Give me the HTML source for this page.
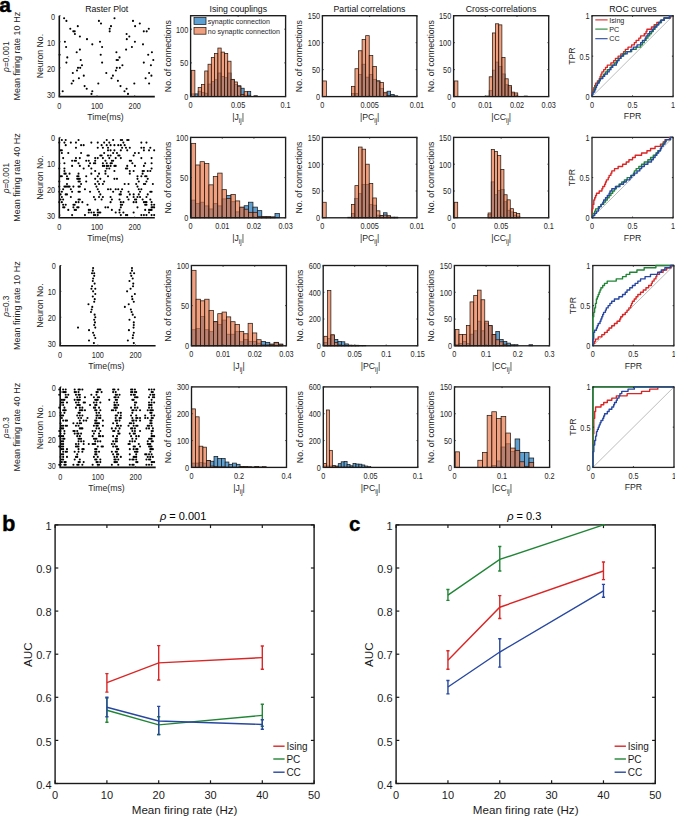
<!DOCTYPE html>
<html><head><meta charset="utf-8"><style>html,body{margin:0;padding:0;background:#fff;width:675px;height:816px;overflow:hidden}</style></head><body>
<svg width="675" height="816" viewBox="0 0 675 816" style="font-family:'Liberation Sans',sans-serif;display:block">
<rect width="675" height="816" fill="#fff"/>
<circle cx="64.1" cy="18.31" r="1.05" fill="#000"/>
<circle cx="66.4" cy="20.91" r="1.05" fill="#000"/>
<circle cx="77.8" cy="26.13" r="1.05" fill="#000"/>
<circle cx="70.3" cy="28.73" r="1.05" fill="#000"/>
<circle cx="73.3" cy="31.34" r="1.05" fill="#000"/>
<circle cx="74.7" cy="31.34" r="1.05" fill="#000"/>
<circle cx="74.9" cy="33.95" r="1.05" fill="#000"/>
<circle cx="79.9" cy="36.55" r="1.05" fill="#000"/>
<circle cx="87" cy="39.16" r="1.05" fill="#000"/>
<circle cx="64.9" cy="41.77" r="1.05" fill="#000"/>
<circle cx="92.3" cy="44.37" r="1.05" fill="#000"/>
<circle cx="66.1" cy="46.98" r="1.05" fill="#000"/>
<circle cx="79.9" cy="49.59" r="1.05" fill="#000"/>
<circle cx="76.7" cy="52.19" r="1.05" fill="#000"/>
<circle cx="59.6" cy="54.8" r="1.05" fill="#000"/>
<circle cx="67.3" cy="57.41" r="1.05" fill="#000"/>
<circle cx="80.7" cy="60.01" r="1.05" fill="#000"/>
<circle cx="66.4" cy="62.62" r="1.05" fill="#000"/>
<circle cx="82" cy="65.23" r="1.05" fill="#000"/>
<circle cx="78" cy="67.83" r="1.05" fill="#000"/>
<circle cx="80.2" cy="67.83" r="1.05" fill="#000"/>
<circle cx="77" cy="70.44" r="1.05" fill="#000"/>
<circle cx="72.8" cy="73.05" r="1.05" fill="#000"/>
<circle cx="83.8" cy="75.65" r="1.05" fill="#000"/>
<circle cx="78.9" cy="78.26" r="1.05" fill="#000"/>
<circle cx="73.3" cy="80.87" r="1.05" fill="#000"/>
<circle cx="71.7" cy="83.47" r="1.05" fill="#000"/>
<circle cx="84.6" cy="86.08" r="1.05" fill="#000"/>
<circle cx="86.7" cy="88.69" r="1.05" fill="#000"/>
<circle cx="62.7" cy="91.29" r="1.05" fill="#000"/>
<circle cx="92.3" cy="91.29" r="1.05" fill="#000"/>
<circle cx="91.5" cy="93.9" r="1.05" fill="#000"/>
<circle cx="98.9" cy="20.91" r="1.05" fill="#000"/>
<circle cx="101" cy="23.52" r="1.05" fill="#000"/>
<circle cx="100" cy="41.77" r="1.05" fill="#000"/>
<circle cx="102.1" cy="46.98" r="1.05" fill="#000"/>
<circle cx="100.7" cy="54.8" r="1.05" fill="#000"/>
<circle cx="102.1" cy="62.62" r="1.05" fill="#000"/>
<circle cx="106.3" cy="73.05" r="1.05" fill="#000"/>
<circle cx="98.3" cy="83.47" r="1.05" fill="#000"/>
<circle cx="114.5" cy="18.31" r="1.05" fill="#000"/>
<circle cx="133" cy="20.91" r="1.05" fill="#000"/>
<circle cx="139.8" cy="23.52" r="1.05" fill="#000"/>
<circle cx="111" cy="26.13" r="1.05" fill="#000"/>
<circle cx="135.1" cy="26.13" r="1.05" fill="#000"/>
<circle cx="109.7" cy="28.73" r="1.05" fill="#000"/>
<circle cx="148.8" cy="28.73" r="1.05" fill="#000"/>
<circle cx="109.7" cy="31.34" r="1.05" fill="#000"/>
<circle cx="143.8" cy="31.34" r="1.05" fill="#000"/>
<circle cx="146.7" cy="31.34" r="1.05" fill="#000"/>
<circle cx="126.6" cy="33.95" r="1.05" fill="#000"/>
<circle cx="129.3" cy="36.55" r="1.05" fill="#000"/>
<circle cx="126.8" cy="39.16" r="1.05" fill="#000"/>
<circle cx="134.9" cy="41.77" r="1.05" fill="#000"/>
<circle cx="143" cy="44.37" r="1.05" fill="#000"/>
<circle cx="131.9" cy="46.98" r="1.05" fill="#000"/>
<circle cx="126.1" cy="49.59" r="1.05" fill="#000"/>
<circle cx="116.4" cy="52.19" r="1.05" fill="#000"/>
<circle cx="151.9" cy="52.19" r="1.05" fill="#000"/>
<circle cx="148.2" cy="54.8" r="1.05" fill="#000"/>
<circle cx="119.5" cy="57.41" r="1.05" fill="#000"/>
<circle cx="116.6" cy="60.01" r="1.05" fill="#000"/>
<circle cx="117.9" cy="60.01" r="1.05" fill="#000"/>
<circle cx="153.3" cy="60.01" r="1.05" fill="#000"/>
<circle cx="143.8" cy="62.62" r="1.05" fill="#000"/>
<circle cx="122.4" cy="65.23" r="1.05" fill="#000"/>
<circle cx="150.9" cy="65.23" r="1.05" fill="#000"/>
<circle cx="116.8" cy="67.83" r="1.05" fill="#000"/>
<circle cx="119.8" cy="67.83" r="1.05" fill="#000"/>
<circle cx="115.9" cy="70.44" r="1.05" fill="#000"/>
<circle cx="149.1" cy="73.05" r="1.05" fill="#000"/>
<circle cx="112.9" cy="75.65" r="1.05" fill="#000"/>
<circle cx="151.4" cy="75.65" r="1.05" fill="#000"/>
<circle cx="111.5" cy="78.26" r="1.05" fill="#000"/>
<circle cx="145.6" cy="78.26" r="1.05" fill="#000"/>
<circle cx="117.9" cy="80.87" r="1.05" fill="#000"/>
<circle cx="134.3" cy="83.47" r="1.05" fill="#000"/>
<circle cx="149.1" cy="83.47" r="1.05" fill="#000"/>
<circle cx="120.5" cy="86.08" r="1.05" fill="#000"/>
<circle cx="126.6" cy="88.69" r="1.05" fill="#000"/>
<circle cx="124.5" cy="91.29" r="1.05" fill="#000"/>
<circle cx="128" cy="93.9" r="1.05" fill="#000"/>
<path d="M59.3 15.7 V96.6 H154.8" fill="none" stroke="#111" stroke-width="1.6"/>
<line x1="59.3" y1="15.7" x2="60.5" y2="15.7" stroke="#262626" stroke-width="1"/>
<text x="0" y="0" font-size="8.5" text-anchor="end" fill="#262626" transform="translate(55 19.55) scale(0.86 1)">0</text>
<line x1="59.3" y1="41.77" x2="60.5" y2="41.77" stroke="#262626" stroke-width="1"/>
<text x="0" y="0" font-size="8.5" text-anchor="end" fill="#262626" transform="translate(55 45.62) scale(0.86 1)">10</text>
<line x1="59.3" y1="67.83" x2="60.5" y2="67.83" stroke="#262626" stroke-width="1"/>
<text x="0" y="0" font-size="8.5" text-anchor="end" fill="#262626" transform="translate(55 71.68) scale(0.86 1)">20</text>
<line x1="59.3" y1="93.9" x2="60.5" y2="93.9" stroke="#262626" stroke-width="1"/>
<text x="0" y="0" font-size="8.5" text-anchor="end" fill="#262626" transform="translate(55 97.75) scale(0.86 1)">30</text>
<line x1="59.3" y1="96.6" x2="59.3" y2="95.4" stroke="#262626" stroke-width="1"/>
<text x="0" y="0" font-size="8.5" text-anchor="middle" fill="#262626" transform="translate(59.3 108.9) scale(0.86 1)">0</text>
<line x1="97" y1="96.6" x2="97" y2="95.4" stroke="#262626" stroke-width="1"/>
<text x="0" y="0" font-size="8.5" text-anchor="middle" fill="#262626" transform="translate(97 108.9) scale(0.86 1)">100</text>
<line x1="134.7" y1="96.6" x2="134.7" y2="95.4" stroke="#262626" stroke-width="1"/>
<text x="0" y="0" font-size="8.5" text-anchor="middle" fill="#262626" transform="translate(134.7 108.9) scale(0.86 1)">200</text>
<text x="105.55" y="120.2" font-size="8.7" text-anchor="middle" fill="#262626">Time(ms)</text>
<text x="0" y="0" font-size="8.7" text-anchor="middle" fill="#262626" transform="translate(42.5 56.15) rotate(-90)">Neuron No.</text>
<rect x="191.6" y="93.9" width="3.29" height="2.7" fill="#5FA0D2" stroke="#1a1a1a" stroke-width="0.75"/>
<rect x="194.88" y="93.9" width="3.29" height="2.7" fill="#5FA0D2" stroke="#1a1a1a" stroke-width="0.75"/>
<rect x="198.17" y="91.21" width="3.29" height="5.39" fill="#5FA0D2" stroke="#1a1a1a" stroke-width="0.75"/>
<rect x="201.45" y="92.55" width="3.29" height="4.04" fill="#5FA0D2" stroke="#1a1a1a" stroke-width="0.75"/>
<rect x="204.74" y="93.23" width="3.29" height="3.37" fill="#5FA0D2" stroke="#1a1a1a" stroke-width="0.75"/>
<rect x="208.03" y="84.06" width="3.29" height="12.54" fill="#5FA0D2" stroke="#1a1a1a" stroke-width="0.75"/>
<rect x="211.31" y="81.43" width="3.29" height="15.17" fill="#5FA0D2" stroke="#1a1a1a" stroke-width="0.75"/>
<rect x="214.59" y="79.75" width="3.29" height="16.85" fill="#5FA0D2" stroke="#1a1a1a" stroke-width="0.75"/>
<rect x="217.88" y="73" width="3.29" height="23.6" fill="#5FA0D2" stroke="#1a1a1a" stroke-width="0.75"/>
<rect x="221.16" y="76.38" width="3.29" height="20.22" fill="#5FA0D2" stroke="#1a1a1a" stroke-width="0.75"/>
<rect x="224.45" y="77.72" width="3.29" height="18.88" fill="#5FA0D2" stroke="#1a1a1a" stroke-width="0.75"/>
<rect x="227.74" y="73" width="3.29" height="23.6" fill="#5FA0D2" stroke="#1a1a1a" stroke-width="0.75"/>
<rect x="231.02" y="79.75" width="3.29" height="16.85" fill="#5FA0D2" stroke="#1a1a1a" stroke-width="0.75"/>
<rect x="234.31" y="84.47" width="3.29" height="12.13" fill="#5FA0D2" stroke="#1a1a1a" stroke-width="0.75"/>
<rect x="237.59" y="85.81" width="3.29" height="10.79" fill="#5FA0D2" stroke="#1a1a1a" stroke-width="0.75"/>
<rect x="240.88" y="88.24" width="3.29" height="8.36" fill="#5FA0D2" stroke="#1a1a1a" stroke-width="0.75"/>
<rect x="244.16" y="95.25" width="3.29" height="1.35" fill="#5FA0D2" stroke="#1a1a1a" stroke-width="0.75"/>
<rect x="247.44" y="91.34" width="3.29" height="5.26" fill="#5FA0D2" stroke="#1a1a1a" stroke-width="0.75"/>
<rect x="254.01" y="95.93" width="3.29" height="0.67" fill="#5FA0D2" stroke="#1a1a1a" stroke-width="0.75"/>
<rect x="191.6" y="70.31" width="3.29" height="26.29" fill="#E67344" fill-opacity="0.68" stroke="#2a1a10" stroke-width="0.75"/>
<rect x="198.17" y="87.5" width="3.29" height="9.1" fill="#E67344" fill-opacity="0.68" stroke="#2a1a10" stroke-width="0.75"/>
<rect x="201.45" y="84.47" width="3.29" height="12.13" fill="#E67344" fill-opacity="0.68" stroke="#2a1a10" stroke-width="0.75"/>
<rect x="204.74" y="70.98" width="3.29" height="25.62" fill="#E67344" fill-opacity="0.68" stroke="#2a1a10" stroke-width="0.75"/>
<rect x="208.03" y="64.24" width="3.29" height="32.36" fill="#E67344" fill-opacity="0.68" stroke="#2a1a10" stroke-width="0.75"/>
<rect x="211.31" y="57.5" width="3.29" height="39.1" fill="#E67344" fill-opacity="0.68" stroke="#2a1a10" stroke-width="0.75"/>
<rect x="214.59" y="53.45" width="3.29" height="43.15" fill="#E67344" fill-opacity="0.68" stroke="#2a1a10" stroke-width="0.75"/>
<rect x="217.88" y="48.06" width="3.29" height="48.54" fill="#E67344" fill-opacity="0.68" stroke="#2a1a10" stroke-width="0.75"/>
<rect x="221.16" y="52.1" width="3.29" height="44.49" fill="#E67344" fill-opacity="0.68" stroke="#2a1a10" stroke-width="0.75"/>
<rect x="224.45" y="53.45" width="3.29" height="43.15" fill="#E67344" fill-opacity="0.68" stroke="#2a1a10" stroke-width="0.75"/>
<rect x="227.74" y="61.21" width="3.29" height="35.39" fill="#E67344" fill-opacity="0.68" stroke="#2a1a10" stroke-width="0.75"/>
<rect x="231.02" y="79.34" width="3.29" height="17.26" fill="#E67344" fill-opacity="0.68" stroke="#2a1a10" stroke-width="0.75"/>
<rect x="234.31" y="81.97" width="3.29" height="14.63" fill="#E67344" fill-opacity="0.68" stroke="#2a1a10" stroke-width="0.75"/>
<rect x="237.59" y="86.15" width="3.29" height="10.45" fill="#E67344" fill-opacity="0.68" stroke="#2a1a10" stroke-width="0.75"/>
<rect x="240.88" y="94.58" width="3.29" height="2.02" fill="#E67344" fill-opacity="0.68" stroke="#2a1a10" stroke-width="0.75"/>
<rect x="244.16" y="91.68" width="3.29" height="4.92" fill="#E67344" fill-opacity="0.68" stroke="#2a1a10" stroke-width="0.75"/>
<rect x="247.44" y="95.25" width="3.29" height="1.35" fill="#E67344" fill-opacity="0.68" stroke="#2a1a10" stroke-width="0.75"/>
<rect x="254.01" y="95.93" width="3.29" height="0.67" fill="#E67344" fill-opacity="0.68" stroke="#2a1a10" stroke-width="0.75"/>
<rect x="190.6" y="15.7" width="95" height="80.9" fill="none" stroke="#1a1a1a" stroke-width="1.35"/>
<line x1="190.6" y1="96.6" x2="190.6" y2="95.4" stroke="#262626" stroke-width="1"/>
<line x1="190.6" y1="15.7" x2="190.6" y2="16.9" stroke="#262626" stroke-width="1"/>
<text x="0" y="0" font-size="8.5" text-anchor="middle" fill="#262626" transform="translate(190.6 107.7) scale(0.86 1)">0</text>
<line x1="238.1" y1="96.6" x2="238.1" y2="95.4" stroke="#262626" stroke-width="1"/>
<line x1="238.1" y1="15.7" x2="238.1" y2="16.9" stroke="#262626" stroke-width="1"/>
<text x="0" y="0" font-size="8.5" text-anchor="middle" fill="#262626" transform="translate(238.1 107.7) scale(0.86 1)">0.05</text>
<line x1="285.6" y1="96.6" x2="285.6" y2="95.4" stroke="#262626" stroke-width="1"/>
<line x1="285.6" y1="15.7" x2="285.6" y2="16.9" stroke="#262626" stroke-width="1"/>
<text x="0" y="0" font-size="8.5" text-anchor="middle" fill="#262626" transform="translate(285.6 107.7) scale(0.86 1)">0.1</text>
<line x1="190.6" y1="96.6" x2="191.8" y2="96.6" stroke="#262626" stroke-width="1"/>
<line x1="285.6" y1="96.6" x2="284.4" y2="96.6" stroke="#262626" stroke-width="1"/>
<text x="0" y="0" font-size="8.5" text-anchor="end" fill="#262626" transform="translate(188.2 100) scale(0.86 1)">0</text>
<line x1="190.6" y1="62.89" x2="191.8" y2="62.89" stroke="#262626" stroke-width="1"/>
<line x1="285.6" y1="62.89" x2="284.4" y2="62.89" stroke="#262626" stroke-width="1"/>
<text x="0" y="0" font-size="8.5" text-anchor="end" fill="#262626" transform="translate(188.2 66.29) scale(0.86 1)">50</text>
<line x1="190.6" y1="29.18" x2="191.8" y2="29.18" stroke="#262626" stroke-width="1"/>
<line x1="285.6" y1="29.18" x2="284.4" y2="29.18" stroke="#262626" stroke-width="1"/>
<text x="0" y="0" font-size="8.5" text-anchor="end" fill="#262626" transform="translate(188.2 32.58) scale(0.86 1)">100</text>
<text x="238.1" y="120.2" font-size="8.7" text-anchor="middle" fill="#262626">|J<tspan font-size="6.4" dy="3.0">ij</tspan><tspan dy="-3.0">|</tspan></text>
<text x="0" y="0" font-size="8.7" text-anchor="middle" fill="#262626" transform="translate(170.5 56.15) rotate(-90)">No. of connections</text>
<rect x="351.4" y="93.58" width="3.57" height="3.02" fill="#5FA0D2" stroke="#1a1a1a" stroke-width="0.75"/>
<rect x="354.97" y="93.58" width="3.57" height="3.02" fill="#5FA0D2" stroke="#1a1a1a" stroke-width="0.75"/>
<rect x="358.53" y="74.49" width="3.57" height="22.11" fill="#5FA0D2" stroke="#1a1a1a" stroke-width="0.75"/>
<rect x="362.1" y="64.24" width="3.57" height="32.36" fill="#5FA0D2" stroke="#1a1a1a" stroke-width="0.75"/>
<rect x="365.66" y="77.18" width="3.57" height="19.42" fill="#5FA0D2" stroke="#1a1a1a" stroke-width="0.75"/>
<rect x="369.23" y="74.49" width="3.57" height="22.11" fill="#5FA0D2" stroke="#1a1a1a" stroke-width="0.75"/>
<rect x="372.8" y="79.34" width="3.57" height="17.26" fill="#5FA0D2" stroke="#1a1a1a" stroke-width="0.75"/>
<rect x="376.36" y="80.96" width="3.57" height="15.64" fill="#5FA0D2" stroke="#1a1a1a" stroke-width="0.75"/>
<rect x="379.93" y="88.51" width="3.57" height="8.09" fill="#5FA0D2" stroke="#1a1a1a" stroke-width="0.75"/>
<rect x="383.49" y="93.58" width="3.57" height="3.02" fill="#5FA0D2" stroke="#1a1a1a" stroke-width="0.75"/>
<rect x="387.06" y="91.21" width="3.57" height="5.39" fill="#5FA0D2" stroke="#1a1a1a" stroke-width="0.75"/>
<rect x="390.63" y="94.44" width="3.57" height="2.16" fill="#5FA0D2" stroke="#1a1a1a" stroke-width="0.75"/>
<rect x="394.19" y="95.79" width="3.57" height="0.81" fill="#5FA0D2" stroke="#1a1a1a" stroke-width="0.75"/>
<rect x="351.4" y="86.35" width="3.57" height="10.25" fill="#E67344" fill-opacity="0.68" stroke="#2a1a10" stroke-width="0.75"/>
<rect x="354.97" y="68.72" width="3.57" height="27.88" fill="#E67344" fill-opacity="0.68" stroke="#2a1a10" stroke-width="0.75"/>
<rect x="358.53" y="50.76" width="3.57" height="45.84" fill="#E67344" fill-opacity="0.68" stroke="#2a1a10" stroke-width="0.75"/>
<rect x="362.1" y="39.43" width="3.57" height="57.17" fill="#E67344" fill-opacity="0.68" stroke="#2a1a10" stroke-width="0.75"/>
<rect x="365.66" y="35.66" width="3.57" height="60.94" fill="#E67344" fill-opacity="0.68" stroke="#2a1a10" stroke-width="0.75"/>
<rect x="369.23" y="55.61" width="3.57" height="40.99" fill="#E67344" fill-opacity="0.68" stroke="#2a1a10" stroke-width="0.75"/>
<rect x="372.8" y="66.4" width="3.57" height="30.2" fill="#E67344" fill-opacity="0.68" stroke="#2a1a10" stroke-width="0.75"/>
<rect x="376.36" y="80.96" width="3.57" height="15.64" fill="#E67344" fill-opacity="0.68" stroke="#2a1a10" stroke-width="0.75"/>
<rect x="379.93" y="82.58" width="3.57" height="14.02" fill="#E67344" fill-opacity="0.68" stroke="#2a1a10" stroke-width="0.75"/>
<rect x="383.49" y="92.29" width="3.57" height="4.31" fill="#E67344" fill-opacity="0.68" stroke="#2a1a10" stroke-width="0.75"/>
<rect x="387.06" y="95.52" width="3.57" height="1.08" fill="#E67344" fill-opacity="0.68" stroke="#2a1a10" stroke-width="0.75"/>
<rect x="390.63" y="96.06" width="3.57" height="0.54" fill="#E67344" fill-opacity="0.68" stroke="#2a1a10" stroke-width="0.75"/>
<rect x="322.6" y="80.96" width="3.8" height="15.64" fill="#E67344" fill-opacity="0.68" stroke="#2a1a10" stroke-width="0.75"/>
<rect x="322.4" y="15.7" width="94.5" height="80.9" fill="none" stroke="#1a1a1a" stroke-width="1.35"/>
<line x1="322.4" y1="96.6" x2="322.4" y2="95.4" stroke="#262626" stroke-width="1"/>
<line x1="322.4" y1="15.7" x2="322.4" y2="16.9" stroke="#262626" stroke-width="1"/>
<text x="0" y="0" font-size="8.5" text-anchor="middle" fill="#262626" transform="translate(322.4 107.7) scale(0.86 1)">0</text>
<line x1="369.65" y1="96.6" x2="369.65" y2="95.4" stroke="#262626" stroke-width="1"/>
<line x1="369.65" y1="15.7" x2="369.65" y2="16.9" stroke="#262626" stroke-width="1"/>
<text x="0" y="0" font-size="8.5" text-anchor="middle" fill="#262626" transform="translate(369.65 107.7) scale(0.86 1)">0.005</text>
<line x1="416.9" y1="96.6" x2="416.9" y2="95.4" stroke="#262626" stroke-width="1"/>
<line x1="416.9" y1="15.7" x2="416.9" y2="16.9" stroke="#262626" stroke-width="1"/>
<text x="0" y="0" font-size="8.5" text-anchor="middle" fill="#262626" transform="translate(416.9 107.7) scale(0.86 1)">0.01</text>
<line x1="322.4" y1="96.6" x2="323.6" y2="96.6" stroke="#262626" stroke-width="1"/>
<line x1="416.9" y1="96.6" x2="415.7" y2="96.6" stroke="#262626" stroke-width="1"/>
<text x="0" y="0" font-size="8.5" text-anchor="end" fill="#262626" transform="translate(320 100) scale(0.86 1)">0</text>
<line x1="322.4" y1="69.63" x2="323.6" y2="69.63" stroke="#262626" stroke-width="1"/>
<line x1="416.9" y1="69.63" x2="415.7" y2="69.63" stroke="#262626" stroke-width="1"/>
<text x="0" y="0" font-size="8.5" text-anchor="end" fill="#262626" transform="translate(320 73.03) scale(0.86 1)">50</text>
<line x1="322.4" y1="42.67" x2="323.6" y2="42.67" stroke="#262626" stroke-width="1"/>
<line x1="416.9" y1="42.67" x2="415.7" y2="42.67" stroke="#262626" stroke-width="1"/>
<text x="0" y="0" font-size="8.5" text-anchor="end" fill="#262626" transform="translate(320 46.07) scale(0.86 1)">100</text>
<line x1="322.4" y1="15.7" x2="323.6" y2="15.7" stroke="#262626" stroke-width="1"/>
<line x1="416.9" y1="15.7" x2="415.7" y2="15.7" stroke="#262626" stroke-width="1"/>
<text x="0" y="0" font-size="8.5" text-anchor="end" fill="#262626" transform="translate(320 19.1) scale(0.86 1)">150</text>
<text x="369.65" y="120.2" font-size="8.7" text-anchor="middle" fill="#262626">|PC<tspan font-size="6.4" dy="3.0">ij</tspan><tspan dy="-3.0">|</tspan></text>
<text x="0" y="0" font-size="8.7" text-anchor="middle" fill="#262626" transform="translate(302.3 56.15) rotate(-90)">No. of connections</text>
<rect x="489.2" y="90.67" width="3.17" height="5.93" fill="#5FA0D2" stroke="#1a1a1a" stroke-width="0.75"/>
<rect x="492.37" y="70.17" width="3.17" height="26.43" fill="#5FA0D2" stroke="#1a1a1a" stroke-width="0.75"/>
<rect x="495.54" y="62.08" width="3.17" height="34.52" fill="#5FA0D2" stroke="#1a1a1a" stroke-width="0.75"/>
<rect x="498.71" y="66.4" width="3.17" height="30.2" fill="#5FA0D2" stroke="#1a1a1a" stroke-width="0.75"/>
<rect x="501.88" y="73.95" width="3.17" height="22.65" fill="#5FA0D2" stroke="#1a1a1a" stroke-width="0.75"/>
<rect x="505.05" y="84.73" width="3.17" height="11.87" fill="#5FA0D2" stroke="#1a1a1a" stroke-width="0.75"/>
<rect x="508.22" y="86.89" width="3.17" height="9.71" fill="#5FA0D2" stroke="#1a1a1a" stroke-width="0.75"/>
<rect x="511.39" y="93.15" width="3.17" height="3.45" fill="#5FA0D2" stroke="#1a1a1a" stroke-width="0.75"/>
<rect x="514.56" y="94.98" width="3.17" height="1.62" fill="#5FA0D2" stroke="#1a1a1a" stroke-width="0.75"/>
<rect x="486" y="96.06" width="3.17" height="0.54" fill="#5FA0D2" stroke="#1a1a1a" stroke-width="0.75"/>
<rect x="524.2" y="96.06" width="3.4" height="0.54" fill="#5FA0D2" stroke="#1a1a1a" stroke-width="0.75"/>
<rect x="489.2" y="76.81" width="3.17" height="19.79" fill="#E67344" fill-opacity="0.68" stroke="#2a1a10" stroke-width="0.75"/>
<rect x="492.37" y="32.96" width="3.17" height="63.64" fill="#E67344" fill-opacity="0.68" stroke="#2a1a10" stroke-width="0.75"/>
<rect x="495.54" y="23.79" width="3.17" height="72.81" fill="#E67344" fill-opacity="0.68" stroke="#2a1a10" stroke-width="0.75"/>
<rect x="498.71" y="24.87" width="3.17" height="71.73" fill="#E67344" fill-opacity="0.68" stroke="#2a1a10" stroke-width="0.75"/>
<rect x="501.88" y="57.44" width="3.17" height="39.16" fill="#E67344" fill-opacity="0.68" stroke="#2a1a10" stroke-width="0.75"/>
<rect x="505.05" y="78.8" width="3.17" height="17.8" fill="#E67344" fill-opacity="0.68" stroke="#2a1a10" stroke-width="0.75"/>
<rect x="508.22" y="85.54" width="3.17" height="11.06" fill="#E67344" fill-opacity="0.68" stroke="#2a1a10" stroke-width="0.75"/>
<rect x="511.39" y="92.12" width="3.17" height="4.48" fill="#E67344" fill-opacity="0.68" stroke="#2a1a10" stroke-width="0.75"/>
<rect x="514.56" y="92.93" width="3.17" height="3.67" fill="#E67344" fill-opacity="0.68" stroke="#2a1a10" stroke-width="0.75"/>
<rect x="454.3" y="80.96" width="3.6" height="15.64" fill="#E67344" fill-opacity="0.68" stroke="#2a1a10" stroke-width="0.75"/>
<rect x="453.6" y="15.7" width="95.1" height="80.9" fill="none" stroke="#1a1a1a" stroke-width="1.35"/>
<line x1="453.6" y1="96.6" x2="453.6" y2="95.4" stroke="#262626" stroke-width="1"/>
<line x1="453.6" y1="15.7" x2="453.6" y2="16.9" stroke="#262626" stroke-width="1"/>
<text x="0" y="0" font-size="8.5" text-anchor="middle" fill="#262626" transform="translate(453.6 107.7) scale(0.86 1)">0</text>
<line x1="485.3" y1="96.6" x2="485.3" y2="95.4" stroke="#262626" stroke-width="1"/>
<line x1="485.3" y1="15.7" x2="485.3" y2="16.9" stroke="#262626" stroke-width="1"/>
<text x="0" y="0" font-size="8.5" text-anchor="middle" fill="#262626" transform="translate(485.3 107.7) scale(0.86 1)">0.01</text>
<line x1="517" y1="96.6" x2="517" y2="95.4" stroke="#262626" stroke-width="1"/>
<line x1="517" y1="15.7" x2="517" y2="16.9" stroke="#262626" stroke-width="1"/>
<text x="0" y="0" font-size="8.5" text-anchor="middle" fill="#262626" transform="translate(517 107.7) scale(0.86 1)">0.02</text>
<line x1="548.7" y1="96.6" x2="548.7" y2="95.4" stroke="#262626" stroke-width="1"/>
<line x1="548.7" y1="15.7" x2="548.7" y2="16.9" stroke="#262626" stroke-width="1"/>
<text x="0" y="0" font-size="8.5" text-anchor="middle" fill="#262626" transform="translate(548.7 107.7) scale(0.86 1)">0.03</text>
<line x1="453.6" y1="96.6" x2="454.8" y2="96.6" stroke="#262626" stroke-width="1"/>
<line x1="548.7" y1="96.6" x2="547.5" y2="96.6" stroke="#262626" stroke-width="1"/>
<text x="0" y="0" font-size="8.5" text-anchor="end" fill="#262626" transform="translate(451.2 100) scale(0.86 1)">0</text>
<line x1="453.6" y1="69.63" x2="454.8" y2="69.63" stroke="#262626" stroke-width="1"/>
<line x1="548.7" y1="69.63" x2="547.5" y2="69.63" stroke="#262626" stroke-width="1"/>
<text x="0" y="0" font-size="8.5" text-anchor="end" fill="#262626" transform="translate(451.2 73.03) scale(0.86 1)">50</text>
<line x1="453.6" y1="42.67" x2="454.8" y2="42.67" stroke="#262626" stroke-width="1"/>
<line x1="548.7" y1="42.67" x2="547.5" y2="42.67" stroke="#262626" stroke-width="1"/>
<text x="0" y="0" font-size="8.5" text-anchor="end" fill="#262626" transform="translate(451.2 46.07) scale(0.86 1)">100</text>
<line x1="453.6" y1="15.7" x2="454.8" y2="15.7" stroke="#262626" stroke-width="1"/>
<line x1="548.7" y1="15.7" x2="547.5" y2="15.7" stroke="#262626" stroke-width="1"/>
<text x="0" y="0" font-size="8.5" text-anchor="end" fill="#262626" transform="translate(451.2 19.1) scale(0.86 1)">150</text>
<text x="501.15" y="120.2" font-size="8.7" text-anchor="middle" fill="#262626">|CC<tspan font-size="6.4" dy="3.0">ij</tspan><tspan dy="-3.0">|</tspan></text>
<text x="0" y="0" font-size="8.7" text-anchor="middle" fill="#262626" transform="translate(433.5 56.15) rotate(-90)">No. of connections</text>
<rect x="592" y="15.7" width="81.1" height="80.9" fill="none" stroke="#262626" stroke-width="1.3"/>
<line x1="592" y1="96.6" x2="673.1" y2="15.7" stroke="#A0A0A0" stroke-width="0.7"/>
<polyline points="592,96.6 592,92.11 592.9,92.11 592.9,89.86 593.8,89.86 593.8,87.61 594.7,87.61 594.7,85.36 595.6,85.36 595.6,83.12 596.51,83.12 597.41,83.12 597.41,80.87 598.31,80.87 599.21,80.87 599.21,78.62 600.11,78.62 600.11,76.38 601.01,76.38 601.01,74.13 601.91,74.13 601.91,71.88 602.81,71.88 603.71,71.88 603.71,69.63 604.62,69.63 605.52,69.63 605.52,67.39 606.42,67.39 607.32,67.39 607.32,65.14 608.22,65.14 609.12,65.14 610.02,65.14 610.92,65.14 610.92,62.89 611.82,62.89 612.73,62.89 613.63,62.89 613.63,60.64 614.53,60.64 615.43,60.64 615.43,58.4 616.33,58.4 617.23,58.4 618.13,58.4 618.13,56.15 619.03,56.15 619.93,56.15 620.84,56.15 620.84,53.9 621.74,53.9 622.64,53.9 623.54,53.9 623.54,51.66 624.44,51.66 625.34,51.66 625.34,49.41 626.24,49.41 627.14,49.41 628.04,49.41 628.04,47.16 628.95,47.16 629.85,47.16 630.75,47.16 631.65,47.16 631.65,44.91 632.55,44.91 633.45,44.91 634.35,44.91 634.35,42.67 635.25,42.67 636.15,42.67 636.15,40.42 637.06,40.42 637.96,40.42 638.86,40.42 638.86,38.17 639.76,38.17 640.66,38.17 640.66,35.92 641.56,35.92 642.46,35.92 643.36,35.92 644.26,35.92 644.26,33.68 645.17,33.68 646.07,33.68 646.07,31.43 646.97,31.43 646.97,29.18 647.87,29.18 648.77,29.18 649.67,29.18 650.57,29.18 651.47,29.18 651.47,26.94 652.37,26.94 653.28,26.94 654.18,26.94 654.18,24.69 655.08,24.69 655.98,24.69 656.88,24.69 656.88,22.44 657.78,22.44 658.68,22.44 659.58,22.44 660.48,22.44 661.39,22.44 661.39,20.19 662.29,20.19 663.19,20.19 664.09,20.19 664.09,17.95 664.99,17.95 665.89,17.95 666.79,17.95 667.69,17.95 668.59,17.95 669.5,17.95 670.4,17.95 670.4,15.7 671.3,15.7 672.2,15.7 673.1,15.7" fill="none" stroke="#D92626" stroke-width="1.4" stroke-linejoin="round"/>
<polyline points="592,96.6 592,94.35 592.9,94.35 592.9,92.11 593.8,92.11 593.8,89.86 594.7,89.86 594.7,87.61 595.6,87.61 595.6,85.36 596.51,85.36 597.41,85.36 597.41,83.12 598.31,83.12 598.31,80.87 599.21,80.87 600.11,80.87 600.11,78.62 601.01,78.62 601.91,78.62 601.91,76.38 602.81,76.38 603.71,76.38 603.71,74.13 604.62,74.13 605.52,74.13 605.52,71.88 606.42,71.88 607.32,71.88 607.32,69.63 608.22,69.63 609.12,69.63 610.02,69.63 610.02,67.39 610.92,67.39 611.82,67.39 611.82,65.14 612.73,65.14 613.63,65.14 614.53,65.14 614.53,62.89 615.43,62.89 616.33,62.89 616.33,60.64 617.23,60.64 618.13,60.64 618.13,58.4 619.03,58.4 619.93,58.4 620.84,58.4 620.84,56.15 621.74,56.15 622.64,56.15 622.64,53.9 623.54,53.9 624.44,53.9 625.34,53.9 625.34,51.66 626.24,51.66 627.14,51.66 628.04,51.66 628.95,51.66 629.85,51.66 630.75,51.66 631.65,51.66 631.65,49.41 632.55,49.41 633.45,49.41 634.35,49.41 635.25,49.41 636.15,49.41 636.15,47.16 637.06,47.16 637.96,47.16 638.86,47.16 639.76,47.16 640.66,47.16 640.66,44.91 641.56,44.91 642.46,44.91 642.46,42.67 643.36,42.67 644.26,42.67 644.26,40.42 645.17,40.42 646.07,40.42 646.07,38.17 646.97,38.17 647.87,38.17 647.87,35.92 648.77,35.92 649.67,35.92 649.67,33.68 650.57,33.68 651.47,33.68 651.47,31.43 652.37,31.43 653.28,31.43 653.28,29.18 654.18,29.18 655.08,29.18 655.08,26.94 655.98,26.94 655.98,24.69 656.88,24.69 657.78,24.69 658.68,24.69 658.68,22.44 659.58,22.44 660.48,22.44 661.39,22.44 661.39,20.19 662.29,20.19 663.19,20.19 664.09,20.19 664.09,17.95 664.99,17.95 665.89,17.95 666.79,17.95 667.69,17.95 668.59,17.95 669.5,17.95 669.5,15.7 670.4,15.7 671.3,15.7 672.2,15.7 673.1,15.7" fill="none" stroke="#218536" stroke-width="1.4" stroke-linejoin="round"/>
<polyline points="592,96.6 592,94.35 592.9,94.35 592.9,92.11 593.8,92.11 594.7,92.11 594.7,89.86 595.6,89.86 595.6,87.61 596.51,87.61 596.51,85.36 597.41,85.36 597.41,83.12 598.31,83.12 599.21,83.12 599.21,80.87 600.11,80.87 600.11,78.62 601.01,78.62 601.91,78.62 602.81,78.62 602.81,76.38 603.71,76.38 604.62,76.38 604.62,74.13 605.52,74.13 606.42,74.13 607.32,74.13 607.32,71.88 608.22,71.88 609.12,71.88 609.12,69.63 610.02,69.63 610.92,69.63 610.92,67.39 611.82,67.39 612.73,67.39 612.73,65.14 613.63,65.14 614.53,65.14 615.43,65.14 616.33,65.14 616.33,62.89 617.23,62.89 617.23,60.64 618.13,60.64 619.03,60.64 619.03,58.4 619.93,58.4 620.84,58.4 620.84,56.15 621.74,56.15 622.64,56.15 623.54,56.15 623.54,53.9 624.44,53.9 625.34,53.9 626.24,53.9 627.14,53.9 627.14,51.66 628.04,51.66 628.95,51.66 629.85,51.66 630.75,51.66 630.75,49.41 631.65,49.41 632.55,49.41 633.45,49.41 633.45,47.16 634.35,47.16 635.25,47.16 636.15,47.16 637.06,47.16 637.06,44.91 637.96,44.91 638.86,44.91 639.76,44.91 640.66,44.91 640.66,42.67 641.56,42.67 642.46,42.67 642.46,40.42 643.36,40.42 644.26,40.42 645.17,40.42 645.17,38.17 646.07,38.17 646.07,35.92 646.97,35.92 647.87,35.92 647.87,33.68 648.77,33.68 649.67,33.68 649.67,31.43 650.57,31.43 651.47,31.43 652.37,31.43 652.37,29.18 653.28,29.18 654.18,29.18 654.18,26.94 655.08,26.94 655.98,26.94 656.88,26.94 656.88,24.69 657.78,24.69 658.68,24.69 658.68,22.44 659.58,22.44 660.48,22.44 660.48,20.19 661.39,20.19 662.29,20.19 663.19,20.19 664.09,20.19 664.09,17.95 664.99,17.95 665.89,17.95 666.79,17.95 667.69,17.95 668.59,17.95 669.5,17.95 669.5,15.7 670.4,15.7 671.3,15.7 672.2,15.7 673.1,15.7" fill="none" stroke="#2747A0" stroke-width="1.4" stroke-linejoin="round"/>
<line x1="592" y1="96.6" x2="592" y2="95.4" stroke="#262626" stroke-width="1"/>
<line x1="592" y1="15.7" x2="592" y2="16.9" stroke="#262626" stroke-width="1"/>
<text x="0" y="0" font-size="8.5" text-anchor="middle" fill="#262626" transform="translate(592 107.7) scale(0.86 1)">0</text>
<line x1="592" y1="96.6" x2="593.2" y2="96.6" stroke="#262626" stroke-width="1"/>
<line x1="673.1" y1="96.6" x2="671.9" y2="96.6" stroke="#262626" stroke-width="1"/>
<text x="0" y="0" font-size="8.5" text-anchor="end" fill="#262626" transform="translate(589.6 100) scale(0.86 1)">0</text>
<line x1="632.55" y1="96.6" x2="632.55" y2="95.4" stroke="#262626" stroke-width="1"/>
<line x1="632.55" y1="15.7" x2="632.55" y2="16.9" stroke="#262626" stroke-width="1"/>
<text x="0" y="0" font-size="8.5" text-anchor="middle" fill="#262626" transform="translate(632.55 107.7) scale(0.86 1)">0.5</text>
<line x1="592" y1="56.15" x2="593.2" y2="56.15" stroke="#262626" stroke-width="1"/>
<line x1="673.1" y1="56.15" x2="671.9" y2="56.15" stroke="#262626" stroke-width="1"/>
<text x="0" y="0" font-size="8.5" text-anchor="end" fill="#262626" transform="translate(589.6 59.55) scale(0.86 1)">0.5</text>
<line x1="673.1" y1="96.6" x2="673.1" y2="95.4" stroke="#262626" stroke-width="1"/>
<line x1="673.1" y1="15.7" x2="673.1" y2="16.9" stroke="#262626" stroke-width="1"/>
<text x="0" y="0" font-size="8.5" text-anchor="middle" fill="#262626" transform="translate(673.1 107.7) scale(0.86 1)">1</text>
<line x1="592" y1="15.7" x2="593.2" y2="15.7" stroke="#262626" stroke-width="1"/>
<line x1="673.1" y1="15.7" x2="671.9" y2="15.7" stroke="#262626" stroke-width="1"/>
<text x="0" y="0" font-size="8.5" text-anchor="end" fill="#262626" transform="translate(589.6 19.1) scale(0.86 1)">1</text>
<text x="632.55" y="119.3" font-size="8.7" text-anchor="middle" fill="#262626">FPR</text>
<text x="0" y="0" font-size="8.7" text-anchor="middle" fill="#262626" transform="translate(574.8 56.15) rotate(-90)">TPR</text>
<text x="0" y="0" font-size="9.7" text-anchor="middle" fill="#262626" transform="translate(9.3 56.65) rotate(-90) scale(0.86 1)"><tspan font-style="italic">ρ</tspan>=0.001</text>
<text x="0" y="0" font-size="9" text-anchor="middle" fill="#262626" transform="translate(19.8 56.15) rotate(-90)">Mean firing rate 10 Hz</text>
<circle cx="78.53" cy="191.79" r="1.05" fill="#000"/>
<circle cx="111.85" cy="199.56" r="1.05" fill="#000"/>
<circle cx="115.7" cy="189.2" r="1.05" fill="#000"/>
<circle cx="115.7" cy="212.51" r="1.05" fill="#000"/>
<circle cx="64.43" cy="142.58" r="1.05" fill="#000"/>
<circle cx="77.25" cy="176.25" r="1.05" fill="#000"/>
<circle cx="63.15" cy="199.56" r="1.05" fill="#000"/>
<circle cx="78.53" cy="178.84" r="1.05" fill="#000"/>
<circle cx="78.53" cy="202.15" r="1.05" fill="#000"/>
<circle cx="120.83" cy="194.38" r="1.05" fill="#000"/>
<circle cx="150.31" cy="199.56" r="1.05" fill="#000"/>
<circle cx="97.75" cy="147.76" r="1.05" fill="#000"/>
<circle cx="111.85" cy="163.3" r="1.05" fill="#000"/>
<circle cx="111.85" cy="209.92" r="1.05" fill="#000"/>
<circle cx="101.6" cy="199.56" r="1.05" fill="#000"/>
<circle cx="141.34" cy="142.58" r="1.05" fill="#000"/>
<circle cx="91.34" cy="212.51" r="1.05" fill="#000"/>
<circle cx="127.24" cy="165.89" r="1.05" fill="#000"/>
<circle cx="141.34" cy="189.2" r="1.05" fill="#000"/>
<circle cx="106.73" cy="145.17" r="1.05" fill="#000"/>
<circle cx="116.98" cy="178.84" r="1.05" fill="#000"/>
<circle cx="106.73" cy="168.48" r="1.05" fill="#000"/>
<circle cx="122.11" cy="147.76" r="1.05" fill="#000"/>
<circle cx="108.01" cy="147.76" r="1.05" fill="#000"/>
<circle cx="68.27" cy="178.84" r="1.05" fill="#000"/>
<circle cx="150.31" cy="209.92" r="1.05" fill="#000"/>
<circle cx="120.83" cy="204.74" r="1.05" fill="#000"/>
<circle cx="136.21" cy="184.02" r="1.05" fill="#000"/>
<circle cx="151.59" cy="163.3" r="1.05" fill="#000"/>
<circle cx="141.34" cy="176.25" r="1.05" fill="#000"/>
<circle cx="102.88" cy="165.89" r="1.05" fill="#000"/>
<circle cx="145.18" cy="204.74" r="1.05" fill="#000"/>
<circle cx="119.54" cy="212.51" r="1.05" fill="#000"/>
<circle cx="120.83" cy="145.17" r="1.05" fill="#000"/>
<circle cx="120.83" cy="191.79" r="1.05" fill="#000"/>
<circle cx="66.99" cy="176.25" r="1.05" fill="#000"/>
<circle cx="120.83" cy="215.1" r="1.05" fill="#000"/>
<circle cx="111.85" cy="160.71" r="1.05" fill="#000"/>
<circle cx="72.12" cy="191.79" r="1.05" fill="#000"/>
<circle cx="127.24" cy="139.99" r="1.05" fill="#000"/>
<circle cx="72.12" cy="215.1" r="1.05" fill="#000"/>
<circle cx="116.98" cy="152.94" r="1.05" fill="#000"/>
<circle cx="106.73" cy="165.89" r="1.05" fill="#000"/>
<circle cx="119.54" cy="199.56" r="1.05" fill="#000"/>
<circle cx="110.57" cy="145.17" r="1.05" fill="#000"/>
<circle cx="120.83" cy="202.15" r="1.05" fill="#000"/>
<circle cx="66.99" cy="186.61" r="1.05" fill="#000"/>
<circle cx="140.05" cy="196.97" r="1.05" fill="#000"/>
<circle cx="86.22" cy="181.43" r="1.05" fill="#000"/>
<circle cx="125.95" cy="147.76" r="1.05" fill="#000"/>
<circle cx="91.34" cy="173.66" r="1.05" fill="#000"/>
<circle cx="61.86" cy="191.79" r="1.05" fill="#000"/>
<circle cx="100.32" cy="194.38" r="1.05" fill="#000"/>
<circle cx="129.8" cy="173.66" r="1.05" fill="#000"/>
<circle cx="145.18" cy="202.15" r="1.05" fill="#000"/>
<circle cx="81.09" cy="152.94" r="1.05" fill="#000"/>
<circle cx="119.54" cy="209.92" r="1.05" fill="#000"/>
<circle cx="65.71" cy="194.38" r="1.05" fill="#000"/>
<circle cx="95.19" cy="199.56" r="1.05" fill="#000"/>
<circle cx="150.31" cy="147.76" r="1.05" fill="#000"/>
<circle cx="70.84" cy="189.2" r="1.05" fill="#000"/>
<circle cx="150.31" cy="171.07" r="1.05" fill="#000"/>
<circle cx="110.57" cy="155.53" r="1.05" fill="#000"/>
<circle cx="110.57" cy="202.15" r="1.05" fill="#000"/>
<circle cx="138.77" cy="194.38" r="1.05" fill="#000"/>
<circle cx="154.15" cy="150.35" r="1.05" fill="#000"/>
<circle cx="72.12" cy="165.89" r="1.05" fill="#000"/>
<circle cx="129.8" cy="160.71" r="1.05" fill="#000"/>
<circle cx="105.44" cy="173.66" r="1.05" fill="#000"/>
<circle cx="95.19" cy="163.3" r="1.05" fill="#000"/>
<circle cx="65.71" cy="204.74" r="1.05" fill="#000"/>
<circle cx="133.64" cy="212.51" r="1.05" fill="#000"/>
<circle cx="110.57" cy="165.89" r="1.05" fill="#000"/>
<circle cx="66.99" cy="184.02" r="1.05" fill="#000"/>
<circle cx="138.77" cy="181.43" r="1.05" fill="#000"/>
<circle cx="84.94" cy="189.2" r="1.05" fill="#000"/>
<circle cx="99.04" cy="212.51" r="1.05" fill="#000"/>
<circle cx="114.42" cy="145.17" r="1.05" fill="#000"/>
<circle cx="143.9" cy="150.35" r="1.05" fill="#000"/>
<circle cx="154.15" cy="207.33" r="1.05" fill="#000"/>
<circle cx="75.96" cy="158.12" r="1.05" fill="#000"/>
<circle cx="60.58" cy="176.25" r="1.05" fill="#000"/>
<circle cx="104.16" cy="181.43" r="1.05" fill="#000"/>
<circle cx="60.58" cy="199.56" r="1.05" fill="#000"/>
<circle cx="129.8" cy="147.76" r="1.05" fill="#000"/>
<circle cx="129.8" cy="171.07" r="1.05" fill="#000"/>
<circle cx="105.44" cy="160.71" r="1.05" fill="#000"/>
<circle cx="134.93" cy="165.89" r="1.05" fill="#000"/>
<circle cx="129.8" cy="194.38" r="1.05" fill="#000"/>
<circle cx="65.71" cy="145.17" r="1.05" fill="#000"/>
<circle cx="120.83" cy="139.99" r="1.05" fill="#000"/>
<circle cx="123.39" cy="212.51" r="1.05" fill="#000"/>
<circle cx="88.78" cy="212.51" r="1.05" fill="#000"/>
<circle cx="100.32" cy="155.53" r="1.05" fill="#000"/>
<circle cx="114.42" cy="178.84" r="1.05" fill="#000"/>
<circle cx="100.32" cy="178.84" r="1.05" fill="#000"/>
<circle cx="143.9" cy="184.02" r="1.05" fill="#000"/>
<circle cx="79.81" cy="158.12" r="1.05" fill="#000"/>
<circle cx="90.06" cy="191.79" r="1.05" fill="#000"/>
<circle cx="79.81" cy="181.43" r="1.05" fill="#000"/>
<circle cx="105.44" cy="171.07" r="1.05" fill="#000"/>
<circle cx="95.19" cy="160.71" r="1.05" fill="#000"/>
<circle cx="95.19" cy="184.02" r="1.05" fill="#000"/>
<circle cx="137.49" cy="176.25" r="1.05" fill="#000"/>
<circle cx="128.52" cy="191.79" r="1.05" fill="#000"/>
<circle cx="143.9" cy="147.76" r="1.05" fill="#000"/>
<circle cx="114.42" cy="165.89" r="1.05" fill="#000"/>
<circle cx="143.9" cy="171.07" r="1.05" fill="#000"/>
<circle cx="60.58" cy="150.35" r="1.05" fill="#000"/>
<circle cx="79.81" cy="191.79" r="1.05" fill="#000"/>
<circle cx="108.01" cy="207.33" r="1.05" fill="#000"/>
<circle cx="133.64" cy="196.97" r="1.05" fill="#000"/>
<circle cx="113.14" cy="152.94" r="1.05" fill="#000"/>
<circle cx="137.49" cy="186.61" r="1.05" fill="#000"/>
<circle cx="73.4" cy="207.33" r="1.05" fill="#000"/>
<circle cx="138.77" cy="189.2" r="1.05" fill="#000"/>
<circle cx="99.04" cy="173.66" r="1.05" fill="#000"/>
<circle cx="99.04" cy="196.97" r="1.05" fill="#000"/>
<circle cx="74.68" cy="209.92" r="1.05" fill="#000"/>
<circle cx="88.78" cy="209.92" r="1.05" fill="#000"/>
<circle cx="104.16" cy="142.58" r="1.05" fill="#000"/>
<circle cx="75.96" cy="142.58" r="1.05" fill="#000"/>
<circle cx="104.16" cy="165.89" r="1.05" fill="#000"/>
<circle cx="79.81" cy="178.84" r="1.05" fill="#000"/>
<circle cx="146.46" cy="181.43" r="1.05" fill="#000"/>
<circle cx="146.46" cy="204.74" r="1.05" fill="#000"/>
<circle cx="82.37" cy="202.15" r="1.05" fill="#000"/>
<circle cx="113.14" cy="139.99" r="1.05" fill="#000"/>
<circle cx="97.75" cy="158.12" r="1.05" fill="#000"/>
<circle cx="137.49" cy="196.97" r="1.05" fill="#000"/>
<circle cx="97.75" cy="181.43" r="1.05" fill="#000"/>
<circle cx="93.91" cy="215.1" r="1.05" fill="#000"/>
<circle cx="138.77" cy="152.94" r="1.05" fill="#000"/>
<circle cx="99.04" cy="184.02" r="1.05" fill="#000"/>
<circle cx="64.43" cy="163.3" r="1.05" fill="#000"/>
<circle cx="151.59" cy="209.92" r="1.05" fill="#000"/>
<circle cx="64.43" cy="186.61" r="1.05" fill="#000"/>
<circle cx="104.16" cy="152.94" r="1.05" fill="#000"/>
<circle cx="118.26" cy="145.17" r="1.05" fill="#000"/>
<circle cx="78.53" cy="176.25" r="1.05" fill="#000"/>
<circle cx="146.46" cy="215.1" r="1.05" fill="#000"/>
<circle cx="122.11" cy="204.74" r="1.05" fill="#000"/>
<circle cx="78.53" cy="199.56" r="1.05" fill="#000"/>
<circle cx="133.64" cy="171.07" r="1.05" fill="#000"/>
<circle cx="147.74" cy="171.07" r="1.05" fill="#000"/>
<circle cx="83.65" cy="145.17" r="1.05" fill="#000"/>
<circle cx="83.65" cy="168.48" r="1.05" fill="#000"/>
<circle cx="59.3" cy="181.43" r="1.05" fill="#000"/>
<circle cx="97.75" cy="215.1" r="1.05" fill="#000"/>
<circle cx="109.29" cy="158.12" r="1.05" fill="#000"/>
<circle cx="73.4" cy="204.74" r="1.05" fill="#000"/>
<circle cx="88.78" cy="160.71" r="1.05" fill="#000"/>
<circle cx="74.68" cy="160.71" r="1.05" fill="#000"/>
<circle cx="64.43" cy="173.66" r="1.05" fill="#000"/>
<circle cx="63.15" cy="207.33" r="1.05" fill="#000"/>
<circle cx="77.25" cy="207.33" r="1.05" fill="#000"/>
<circle cx="118.26" cy="155.53" r="1.05" fill="#000"/>
<circle cx="78.53" cy="139.99" r="1.05" fill="#000"/>
<circle cx="78.53" cy="163.3" r="1.05" fill="#000"/>
<circle cx="146.46" cy="202.15" r="1.05" fill="#000"/>
<circle cx="68.27" cy="152.94" r="1.05" fill="#000"/>
<circle cx="78.53" cy="186.61" r="1.05" fill="#000"/>
<circle cx="113.14" cy="160.71" r="1.05" fill="#000"/>
<circle cx="59.3" cy="168.48" r="1.05" fill="#000"/>
<circle cx="59.3" cy="191.79" r="1.05" fill="#000"/>
<circle cx="127.24" cy="150.35" r="1.05" fill="#000"/>
<circle cx="151.59" cy="207.33" r="1.05" fill="#000"/>
<circle cx="102.88" cy="163.3" r="1.05" fill="#000"/>
<circle cx="127.24" cy="196.97" r="1.05" fill="#000"/>
<circle cx="87.5" cy="204.74" r="1.05" fill="#000"/>
<circle cx="146.46" cy="142.58" r="1.05" fill="#000"/>
<circle cx="108.01" cy="155.53" r="1.05" fill="#000"/>
<circle cx="118.26" cy="189.2" r="1.05" fill="#000"/>
<circle cx="78.53" cy="173.66" r="1.05" fill="#000"/>
<circle cx="68.27" cy="186.61" r="1.05" fill="#000"/>
<circle cx="68.27" cy="209.92" r="1.05" fill="#000"/>
<circle cx="97.75" cy="142.58" r="1.05" fill="#000"/>
<circle cx="61.86" cy="202.15" r="1.05" fill="#000"/>
<circle cx="106.73" cy="139.99" r="1.05" fill="#000"/>
<circle cx="106.73" cy="163.3" r="1.05" fill="#000"/>
<circle cx="63.15" cy="158.12" r="1.05" fill="#000"/>
<circle cx="102.88" cy="196.97" r="1.05" fill="#000"/>
<circle cx="63.15" cy="204.74" r="1.05" fill="#000"/>
<circle cx="108.01" cy="165.89" r="1.05" fill="#000"/>
<circle cx="110.57" cy="189.2" r="1.05" fill="#000"/>
<circle cx="59.3" cy="142.58" r="1.05" fill="#000"/>
<circle cx="125.95" cy="168.48" r="1.05" fill="#000"/>
<circle cx="136.21" cy="202.15" r="1.05" fill="#000"/>
<circle cx="115.7" cy="158.12" r="1.05" fill="#000"/>
<circle cx="125.95" cy="215.1" r="1.05" fill="#000"/>
<circle cx="151.59" cy="158.12" r="1.05" fill="#000"/>
<circle cx="141.34" cy="147.76" r="1.05" fill="#000"/>
<circle cx="87.5" cy="155.53" r="1.05" fill="#000"/>
<circle cx="131.08" cy="160.71" r="1.05" fill="#000"/>
<circle cx="102.88" cy="184.02" r="1.05" fill="#000"/>
<circle cx="145.18" cy="176.25" r="1.05" fill="#000"/>
<circle cx="149.03" cy="212.51" r="1.05" fill="#000"/>
<circle cx="105.44" cy="207.33" r="1.05" fill="#000"/>
<circle cx="150.31" cy="191.79" r="1.05" fill="#000"/>
<circle cx="66.99" cy="194.38" r="1.05" fill="#000"/>
<circle cx="101.6" cy="145.17" r="1.05" fill="#000"/>
<circle cx="61.86" cy="152.94" r="1.05" fill="#000"/>
<circle cx="61.86" cy="176.25" r="1.05" fill="#000"/>
<circle cx="141.34" cy="158.12" r="1.05" fill="#000"/>
<circle cx="102.88" cy="147.76" r="1.05" fill="#000"/>
<circle cx="145.18" cy="163.3" r="1.05" fill="#000"/>
<circle cx="134.93" cy="152.94" r="1.05" fill="#000"/>
<circle cx="77.25" cy="178.84" r="1.05" fill="#000"/>
<circle cx="145.18" cy="209.92" r="1.05" fill="#000"/>
<circle cx="119.54" cy="194.38" r="1.05" fill="#000"/>
<circle cx="134.93" cy="199.56" r="1.05" fill="#000"/>
<circle cx="81.09" cy="184.02" r="1.05" fill="#000"/>
<circle cx="120.83" cy="150.35" r="1.05" fill="#000"/>
<circle cx="70.84" cy="196.97" r="1.05" fill="#000"/>
<circle cx="110.57" cy="163.3" r="1.05" fill="#000"/>
<circle cx="140.05" cy="191.79" r="1.05" fill="#000"/>
<circle cx="96.47" cy="186.61" r="1.05" fill="#000"/>
<circle cx="86.22" cy="176.25" r="1.05" fill="#000"/>
<circle cx="101.6" cy="155.53" r="1.05" fill="#000"/>
<circle cx="61.86" cy="139.99" r="1.05" fill="#000"/>
<circle cx="91.34" cy="168.48" r="1.05" fill="#000"/>
<circle cx="154.15" cy="204.74" r="1.05" fill="#000"/>
<circle cx="100.32" cy="212.51" r="1.05" fill="#000"/>
<circle cx="75.96" cy="202.15" r="1.05" fill="#000"/>
<circle cx="95.19" cy="171.07" r="1.05" fill="#000"/>
<circle cx="149.03" cy="209.92" r="1.05" fill="#000"/>
<circle cx="110.57" cy="150.35" r="1.05" fill="#000"/>
<circle cx="120.83" cy="207.33" r="1.05" fill="#000"/>
<circle cx="110.57" cy="196.97" r="1.05" fill="#000"/>
<circle cx="72.12" cy="160.71" r="1.05" fill="#000"/>
<circle cx="115.7" cy="165.89" r="1.05" fill="#000"/>
<circle cx="61.86" cy="150.35" r="1.05" fill="#000"/>
<circle cx="154.15" cy="215.1" r="1.05" fill="#000"/>
<circle cx="61.86" cy="196.97" r="1.05" fill="#000"/>
<circle cx="149.03" cy="150.35" r="1.05" fill="#000"/>
<circle cx="145.18" cy="184.02" r="1.05" fill="#000"/>
<circle cx="95.19" cy="158.12" r="1.05" fill="#000"/>
<circle cx="66.99" cy="178.84" r="1.05" fill="#000"/>
<circle cx="91.34" cy="142.58" r="1.05" fill="#000"/>
<circle cx="143.9" cy="215.1" r="1.05" fill="#000"/>
<circle cx="79.81" cy="165.89" r="1.05" fill="#000"/>
<circle cx="60.58" cy="194.38" r="1.05" fill="#000"/>
<circle cx="119.54" cy="155.53" r="1.05" fill="#000"/>
<circle cx="65.71" cy="139.99" r="1.05" fill="#000"/>
<circle cx="81.09" cy="145.17" r="1.05" fill="#000"/>
<circle cx="65.71" cy="186.61" r="1.05" fill="#000"/>
<circle cx="133.64" cy="194.38" r="1.05" fill="#000"/>
<circle cx="147.74" cy="194.38" r="1.05" fill="#000"/>
<circle cx="95.19" cy="215.1" r="1.05" fill="#000"/>
<circle cx="120.83" cy="158.12" r="1.05" fill="#000"/>
<circle cx="137.49" cy="207.33" r="1.05" fill="#000"/>
<circle cx="86.22" cy="160.71" r="1.05" fill="#000"/>
<circle cx="128.52" cy="199.56" r="1.05" fill="#000"/>
<circle cx="114.42" cy="150.35" r="1.05" fill="#000"/>
<circle cx="124.67" cy="184.02" r="1.05" fill="#000"/>
<circle cx="90.06" cy="163.3" r="1.05" fill="#000"/>
<circle cx="143.9" cy="202.15" r="1.05" fill="#000"/>
<circle cx="90.06" cy="209.92" r="1.05" fill="#000"/>
<circle cx="75.96" cy="209.92" r="1.05" fill="#000"/>
<circle cx="79.81" cy="199.56" r="1.05" fill="#000"/>
<circle cx="65.71" cy="173.66" r="1.05" fill="#000"/>
<circle cx="95.19" cy="178.84" r="1.05" fill="#000"/>
<circle cx="93.91" cy="212.51" r="1.05" fill="#000"/>
<circle cx="128.52" cy="139.99" r="1.05" fill="#000"/>
<circle cx="109.29" cy="168.48" r="1.05" fill="#000"/>
<circle cx="143.9" cy="165.89" r="1.05" fill="#000"/>
<circle cx="64.43" cy="207.33" r="1.05" fill="#000"/>
<circle cx="142.62" cy="199.56" r="1.05" fill="#000"/>
<circle cx="79.81" cy="186.61" r="1.05" fill="#000"/>
<circle cx="97.75" cy="189.2" r="1.05" fill="#000"/>
<circle cx="97.75" cy="212.51" r="1.05" fill="#000"/>
<circle cx="59.3" cy="202.15" r="1.05" fill="#000"/>
<circle cx="152.87" cy="184.02" r="1.05" fill="#000"/>
<circle cx="152.87" cy="207.33" r="1.05" fill="#000"/>
<circle cx="99.04" cy="191.79" r="1.05" fill="#000"/>
<circle cx="84.94" cy="215.1" r="1.05" fill="#000"/>
<circle cx="64.43" cy="171.07" r="1.05" fill="#000"/>
<circle cx="74.68" cy="204.74" r="1.05" fill="#000"/>
<circle cx="114.42" cy="171.07" r="1.05" fill="#000"/>
<circle cx="75.96" cy="160.71" r="1.05" fill="#000"/>
<circle cx="146.46" cy="176.25" r="1.05" fill="#000"/>
<circle cx="122.11" cy="189.2" r="1.05" fill="#000"/>
<circle cx="108.01" cy="189.2" r="1.05" fill="#000"/>
<circle cx="78.53" cy="207.33" r="1.05" fill="#000"/>
<circle cx="133.64" cy="155.53" r="1.05" fill="#000"/>
<circle cx="70.84" cy="142.58" r="1.05" fill="#000"/>
<circle cx="147.74" cy="178.84" r="1.05" fill="#000"/>
<circle cx="93.91" cy="163.3" r="1.05" fill="#000"/>
<circle cx="133.64" cy="202.15" r="1.05" fill="#000"/>
<circle cx="97.75" cy="176.25" r="1.05" fill="#000"/>
<circle cx="109.29" cy="142.58" r="1.05" fill="#000"/>
<circle cx="128.52" cy="184.02" r="1.05" fill="#000"/>
<circle cx="151.59" cy="204.74" r="1.05" fill="#000"/>
<circle cx="124.67" cy="145.17" r="1.05" fill="#000"/>
<circle cx="75.96" cy="147.76" r="1.05" fill="#000"/>
<circle cx="142.62" cy="173.66" r="1.05" fill="#000"/>
<circle cx="132.36" cy="163.3" r="1.05" fill="#000"/>
<circle cx="108.01" cy="176.25" r="1.05" fill="#000"/>
<circle cx="137.49" cy="178.84" r="1.05" fill="#000"/>
<circle cx="123.39" cy="202.15" r="1.05" fill="#000"/>
<circle cx="93.91" cy="196.97" r="1.05" fill="#000"/>
<circle cx="69.55" cy="186.61" r="1.05" fill="#000"/>
<circle cx="113.14" cy="191.79" r="1.05" fill="#000"/>
<circle cx="97.75" cy="209.92" r="1.05" fill="#000"/>
<circle cx="151.59" cy="168.48" r="1.05" fill="#000"/>
<circle cx="88.78" cy="155.53" r="1.05" fill="#000"/>
<circle cx="151.59" cy="191.79" r="1.05" fill="#000"/>
<circle cx="64.43" cy="168.48" r="1.05" fill="#000"/>
<circle cx="151.59" cy="215.1" r="1.05" fill="#000"/>
<circle cx="122.11" cy="139.99" r="1.05" fill="#000"/>
<circle cx="146.46" cy="196.97" r="1.05" fill="#000"/>
<circle cx="78.53" cy="181.43" r="1.05" fill="#000"/>
<circle cx="123.39" cy="142.58" r="1.05" fill="#000"/>
<circle cx="69.55" cy="173.66" r="1.05" fill="#000"/>
<circle cx="136.21" cy="199.56" r="1.05" fill="#000"/>
<circle cx="59.3" cy="186.61" r="1.05" fill="#000"/>
<circle cx="73.4" cy="186.61" r="1.05" fill="#000"/>
<circle cx="88.78" cy="165.89" r="1.05" fill="#000"/>
<circle cx="127.24" cy="168.48" r="1.05" fill="#000"/>
<circle cx="151.59" cy="202.15" r="1.05" fill="#000"/>
<circle cx="102.88" cy="158.12" r="1.05" fill="#000"/>
<circle cx="127.24" cy="215.1" r="1.05" fill="#000"/>
<circle cx="141.34" cy="215.1" r="1.05" fill="#000"/>
<circle cx="63.15" cy="189.2" r="1.05" fill="#000"/>
<circle cx="142.62" cy="171.07" r="1.05" fill="#000"/>
<circle cx="108.01" cy="150.35" r="1.05" fill="#000"/>
<path d="M59.3 137.4 V217.8 H154.8" fill="none" stroke="#111" stroke-width="1.6"/>
<line x1="59.3" y1="137.4" x2="60.5" y2="137.4" stroke="#262626" stroke-width="1"/>
<text x="0" y="0" font-size="8.5" text-anchor="end" fill="#262626" transform="translate(55 141.25) scale(0.86 1)">0</text>
<line x1="59.3" y1="163.3" x2="60.5" y2="163.3" stroke="#262626" stroke-width="1"/>
<text x="0" y="0" font-size="8.5" text-anchor="end" fill="#262626" transform="translate(55 167.15) scale(0.86 1)">10</text>
<line x1="59.3" y1="189.2" x2="60.5" y2="189.2" stroke="#262626" stroke-width="1"/>
<text x="0" y="0" font-size="8.5" text-anchor="end" fill="#262626" transform="translate(55 193.05) scale(0.86 1)">20</text>
<line x1="59.3" y1="215.1" x2="60.5" y2="215.1" stroke="#262626" stroke-width="1"/>
<text x="0" y="0" font-size="8.5" text-anchor="end" fill="#262626" transform="translate(55 218.95) scale(0.86 1)">30</text>
<line x1="59.3" y1="217.8" x2="59.3" y2="216.6" stroke="#262626" stroke-width="1"/>
<text x="0" y="0" font-size="8.5" text-anchor="middle" fill="#262626" transform="translate(59.3 230.1) scale(0.86 1)">0</text>
<line x1="97" y1="217.8" x2="97" y2="216.6" stroke="#262626" stroke-width="1"/>
<text x="0" y="0" font-size="8.5" text-anchor="middle" fill="#262626" transform="translate(97 230.1) scale(0.86 1)">100</text>
<line x1="134.7" y1="217.8" x2="134.7" y2="216.6" stroke="#262626" stroke-width="1"/>
<text x="0" y="0" font-size="8.5" text-anchor="middle" fill="#262626" transform="translate(134.7 230.1) scale(0.86 1)">200</text>
<text x="105.55" y="241.4" font-size="8.7" text-anchor="middle" fill="#262626">Time(ms)</text>
<text x="0" y="0" font-size="8.7" text-anchor="middle" fill="#262626" transform="translate(42.5 177.6) rotate(-90)">Neuron No.</text>
<rect x="191.26" y="200.11" width="4.41" height="17.69" fill="#5FA0D2" stroke="#1a1a1a" stroke-width="0.75"/>
<rect x="195.67" y="203.65" width="4.41" height="14.15" fill="#5FA0D2" stroke="#1a1a1a" stroke-width="0.75"/>
<rect x="200.07" y="202.2" width="4.41" height="15.6" fill="#5FA0D2" stroke="#1a1a1a" stroke-width="0.75"/>
<rect x="204.48" y="205.9" width="4.41" height="11.9" fill="#5FA0D2" stroke="#1a1a1a" stroke-width="0.75"/>
<rect x="208.89" y="208.96" width="4.41" height="8.84" fill="#5FA0D2" stroke="#1a1a1a" stroke-width="0.75"/>
<rect x="213.29" y="203.65" width="4.41" height="14.15" fill="#5FA0D2" stroke="#1a1a1a" stroke-width="0.75"/>
<rect x="217.7" y="205.9" width="4.41" height="11.9" fill="#5FA0D2" stroke="#1a1a1a" stroke-width="0.75"/>
<rect x="222.11" y="198.91" width="4.41" height="18.89" fill="#5FA0D2" stroke="#1a1a1a" stroke-width="0.75"/>
<rect x="226.52" y="195.45" width="4.41" height="22.35" fill="#5FA0D2" stroke="#1a1a1a" stroke-width="0.75"/>
<rect x="230.92" y="201.72" width="4.41" height="16.08" fill="#5FA0D2" stroke="#1a1a1a" stroke-width="0.75"/>
<rect x="235.33" y="211.85" width="4.41" height="5.95" fill="#5FA0D2" stroke="#1a1a1a" stroke-width="0.75"/>
<rect x="239.74" y="207.35" width="4.41" height="10.45" fill="#5FA0D2" stroke="#1a1a1a" stroke-width="0.75"/>
<rect x="244.14" y="205.74" width="4.41" height="12.06" fill="#5FA0D2" stroke="#1a1a1a" stroke-width="0.75"/>
<rect x="248.55" y="202.2" width="4.41" height="15.6" fill="#5FA0D2" stroke="#1a1a1a" stroke-width="0.75"/>
<rect x="252.96" y="207.11" width="4.41" height="10.69" fill="#5FA0D2" stroke="#1a1a1a" stroke-width="0.75"/>
<rect x="257.37" y="210.64" width="4.41" height="7.16" fill="#5FA0D2" stroke="#1a1a1a" stroke-width="0.75"/>
<rect x="261.77" y="216.75" width="4.41" height="1.05" fill="#5FA0D2" stroke="#1a1a1a" stroke-width="0.75"/>
<rect x="266.18" y="216.75" width="4.41" height="1.05" fill="#5FA0D2" stroke="#1a1a1a" stroke-width="0.75"/>
<rect x="270.59" y="217" width="4.41" height="0.8" fill="#5FA0D2" stroke="#1a1a1a" stroke-width="0.75"/>
<rect x="274.99" y="213.62" width="4.41" height="4.18" fill="#5FA0D2" stroke="#1a1a1a" stroke-width="0.75"/>
<rect x="191.26" y="143.35" width="4.41" height="74.45" fill="#E67344" fill-opacity="0.68" stroke="#2a1a10" stroke-width="0.75"/>
<rect x="195.67" y="164.98" width="4.41" height="52.82" fill="#E67344" fill-opacity="0.68" stroke="#2a1a10" stroke-width="0.75"/>
<rect x="200.07" y="161.68" width="4.41" height="56.12" fill="#E67344" fill-opacity="0.68" stroke="#2a1a10" stroke-width="0.75"/>
<rect x="204.48" y="163.45" width="4.41" height="54.35" fill="#E67344" fill-opacity="0.68" stroke="#2a1a10" stroke-width="0.75"/>
<rect x="208.89" y="184.84" width="4.41" height="32.96" fill="#E67344" fill-opacity="0.68" stroke="#2a1a10" stroke-width="0.75"/>
<rect x="213.29" y="176.55" width="4.41" height="41.25" fill="#E67344" fill-opacity="0.68" stroke="#2a1a10" stroke-width="0.75"/>
<rect x="217.7" y="173.1" width="4.41" height="44.7" fill="#E67344" fill-opacity="0.68" stroke="#2a1a10" stroke-width="0.75"/>
<rect x="222.11" y="189.66" width="4.41" height="28.14" fill="#E67344" fill-opacity="0.68" stroke="#2a1a10" stroke-width="0.75"/>
<rect x="226.52" y="198.5" width="4.41" height="19.3" fill="#E67344" fill-opacity="0.68" stroke="#2a1a10" stroke-width="0.75"/>
<rect x="230.92" y="194.48" width="4.41" height="23.32" fill="#E67344" fill-opacity="0.68" stroke="#2a1a10" stroke-width="0.75"/>
<rect x="235.33" y="200.92" width="4.41" height="16.88" fill="#E67344" fill-opacity="0.68" stroke="#2a1a10" stroke-width="0.75"/>
<rect x="239.74" y="207.11" width="4.41" height="10.69" fill="#E67344" fill-opacity="0.68" stroke="#2a1a10" stroke-width="0.75"/>
<rect x="244.14" y="209.2" width="4.41" height="8.6" fill="#E67344" fill-opacity="0.68" stroke="#2a1a10" stroke-width="0.75"/>
<rect x="248.55" y="212.33" width="4.41" height="5.47" fill="#E67344" fill-opacity="0.68" stroke="#2a1a10" stroke-width="0.75"/>
<rect x="252.96" y="212.33" width="4.41" height="5.47" fill="#E67344" fill-opacity="0.68" stroke="#2a1a10" stroke-width="0.75"/>
<rect x="257.37" y="216.35" width="4.41" height="1.45" fill="#E67344" fill-opacity="0.68" stroke="#2a1a10" stroke-width="0.75"/>
<rect x="261.77" y="216.75" width="4.41" height="1.05" fill="#E67344" fill-opacity="0.68" stroke="#2a1a10" stroke-width="0.75"/>
<rect x="266.18" y="216.75" width="4.41" height="1.05" fill="#E67344" fill-opacity="0.68" stroke="#2a1a10" stroke-width="0.75"/>
<rect x="270.59" y="217" width="4.41" height="0.8" fill="#E67344" fill-opacity="0.68" stroke="#2a1a10" stroke-width="0.75"/>
<rect x="190.6" y="137.4" width="95" height="80.4" fill="none" stroke="#1a1a1a" stroke-width="1.35"/>
<line x1="190.6" y1="217.8" x2="190.6" y2="216.6" stroke="#262626" stroke-width="1"/>
<line x1="190.6" y1="137.4" x2="190.6" y2="138.6" stroke="#262626" stroke-width="1"/>
<text x="0" y="0" font-size="8.5" text-anchor="middle" fill="#262626" transform="translate(190.6 228.9) scale(0.86 1)">0</text>
<line x1="222.27" y1="217.8" x2="222.27" y2="216.6" stroke="#262626" stroke-width="1"/>
<line x1="222.27" y1="137.4" x2="222.27" y2="138.6" stroke="#262626" stroke-width="1"/>
<text x="0" y="0" font-size="8.5" text-anchor="middle" fill="#262626" transform="translate(222.27 228.9) scale(0.86 1)">0.01</text>
<line x1="253.93" y1="217.8" x2="253.93" y2="216.6" stroke="#262626" stroke-width="1"/>
<line x1="253.93" y1="137.4" x2="253.93" y2="138.6" stroke="#262626" stroke-width="1"/>
<text x="0" y="0" font-size="8.5" text-anchor="middle" fill="#262626" transform="translate(253.93 228.9) scale(0.86 1)">0.02</text>
<line x1="285.6" y1="217.8" x2="285.6" y2="216.6" stroke="#262626" stroke-width="1"/>
<line x1="285.6" y1="137.4" x2="285.6" y2="138.6" stroke="#262626" stroke-width="1"/>
<text x="0" y="0" font-size="8.5" text-anchor="middle" fill="#262626" transform="translate(285.6 228.9) scale(0.86 1)">0.03</text>
<line x1="190.6" y1="217.8" x2="191.8" y2="217.8" stroke="#262626" stroke-width="1"/>
<line x1="285.6" y1="217.8" x2="284.4" y2="217.8" stroke="#262626" stroke-width="1"/>
<text x="0" y="0" font-size="8.5" text-anchor="end" fill="#262626" transform="translate(188.2 221.2) scale(0.86 1)">0</text>
<line x1="190.6" y1="177.6" x2="191.8" y2="177.6" stroke="#262626" stroke-width="1"/>
<line x1="285.6" y1="177.6" x2="284.4" y2="177.6" stroke="#262626" stroke-width="1"/>
<text x="0" y="0" font-size="8.5" text-anchor="end" fill="#262626" transform="translate(188.2 181) scale(0.86 1)">50</text>
<line x1="190.6" y1="137.4" x2="191.8" y2="137.4" stroke="#262626" stroke-width="1"/>
<line x1="285.6" y1="137.4" x2="284.4" y2="137.4" stroke="#262626" stroke-width="1"/>
<text x="0" y="0" font-size="8.5" text-anchor="end" fill="#262626" transform="translate(188.2 140.8) scale(0.86 1)">100</text>
<text x="238.1" y="241.4" font-size="8.7" text-anchor="middle" fill="#262626">|J<tspan font-size="6.4" dy="3.0">ij</tspan><tspan dy="-3.0">|</tspan></text>
<text x="0" y="0" font-size="8.7" text-anchor="middle" fill="#262626" transform="translate(170.5 177.6) rotate(-90)">No. of connections</text>
<rect x="347.8" y="217.26" width="3.57" height="0.54" fill="#5FA0D2" stroke="#1a1a1a" stroke-width="0.75"/>
<rect x="351.37" y="213.4" width="3.57" height="4.4" fill="#5FA0D2" stroke="#1a1a1a" stroke-width="0.75"/>
<rect x="354.94" y="198.5" width="3.57" height="19.3" fill="#5FA0D2" stroke="#1a1a1a" stroke-width="0.75"/>
<rect x="358.51" y="193.68" width="3.57" height="24.12" fill="#5FA0D2" stroke="#1a1a1a" stroke-width="0.75"/>
<rect x="362.08" y="184.57" width="3.57" height="33.23" fill="#5FA0D2" stroke="#1a1a1a" stroke-width="0.75"/>
<rect x="365.65" y="184.57" width="3.57" height="33.23" fill="#5FA0D2" stroke="#1a1a1a" stroke-width="0.75"/>
<rect x="369.22" y="204.67" width="3.57" height="13.13" fill="#5FA0D2" stroke="#1a1a1a" stroke-width="0.75"/>
<rect x="372.79" y="205.2" width="3.57" height="12.6" fill="#5FA0D2" stroke="#1a1a1a" stroke-width="0.75"/>
<rect x="376.36" y="215.12" width="3.57" height="2.68" fill="#5FA0D2" stroke="#1a1a1a" stroke-width="0.75"/>
<rect x="379.93" y="215.66" width="3.57" height="2.14" fill="#5FA0D2" stroke="#1a1a1a" stroke-width="0.75"/>
<rect x="383.5" y="212.76" width="3.57" height="5.04" fill="#5FA0D2" stroke="#1a1a1a" stroke-width="0.75"/>
<rect x="387.07" y="216.73" width="3.57" height="1.07" fill="#5FA0D2" stroke="#1a1a1a" stroke-width="0.75"/>
<rect x="390.64" y="217.26" width="3.57" height="0.54" fill="#5FA0D2" stroke="#1a1a1a" stroke-width="0.75"/>
<rect x="394.21" y="217.26" width="3.57" height="0.54" fill="#5FA0D2" stroke="#1a1a1a" stroke-width="0.75"/>
<rect x="351.37" y="204.4" width="3.57" height="13.4" fill="#E67344" fill-opacity="0.68" stroke="#2a1a10" stroke-width="0.75"/>
<rect x="354.94" y="185.64" width="3.57" height="32.16" fill="#E67344" fill-opacity="0.68" stroke="#2a1a10" stroke-width="0.75"/>
<rect x="358.51" y="147.05" width="3.57" height="70.75" fill="#E67344" fill-opacity="0.68" stroke="#2a1a10" stroke-width="0.75"/>
<rect x="362.08" y="149.19" width="3.57" height="68.61" fill="#E67344" fill-opacity="0.68" stroke="#2a1a10" stroke-width="0.75"/>
<rect x="365.65" y="164.2" width="3.57" height="53.6" fill="#E67344" fill-opacity="0.68" stroke="#2a1a10" stroke-width="0.75"/>
<rect x="369.22" y="183.5" width="3.57" height="34.3" fill="#E67344" fill-opacity="0.68" stroke="#2a1a10" stroke-width="0.75"/>
<rect x="372.79" y="197.97" width="3.57" height="19.83" fill="#E67344" fill-opacity="0.68" stroke="#2a1a10" stroke-width="0.75"/>
<rect x="376.36" y="210.83" width="3.57" height="6.97" fill="#E67344" fill-opacity="0.68" stroke="#2a1a10" stroke-width="0.75"/>
<rect x="379.93" y="215.66" width="3.57" height="2.14" fill="#E67344" fill-opacity="0.68" stroke="#2a1a10" stroke-width="0.75"/>
<rect x="383.5" y="215.12" width="3.57" height="2.68" fill="#E67344" fill-opacity="0.68" stroke="#2a1a10" stroke-width="0.75"/>
<rect x="387.07" y="215.66" width="3.57" height="2.14" fill="#E67344" fill-opacity="0.68" stroke="#2a1a10" stroke-width="0.75"/>
<rect x="390.64" y="217.26" width="3.57" height="0.54" fill="#E67344" fill-opacity="0.68" stroke="#2a1a10" stroke-width="0.75"/>
<rect x="394.21" y="217.26" width="3.57" height="0.54" fill="#E67344" fill-opacity="0.68" stroke="#2a1a10" stroke-width="0.75"/>
<rect x="322.6" y="202.26" width="3.6" height="15.54" fill="#E67344" fill-opacity="0.68" stroke="#2a1a10" stroke-width="0.75"/>
<rect x="322.4" y="137.4" width="94.5" height="80.4" fill="none" stroke="#1a1a1a" stroke-width="1.35"/>
<line x1="322.4" y1="217.8" x2="322.4" y2="216.6" stroke="#262626" stroke-width="1"/>
<line x1="322.4" y1="137.4" x2="322.4" y2="138.6" stroke="#262626" stroke-width="1"/>
<text x="0" y="0" font-size="8.5" text-anchor="middle" fill="#262626" transform="translate(322.4 228.9) scale(0.86 1)">0</text>
<line x1="369.65" y1="217.8" x2="369.65" y2="216.6" stroke="#262626" stroke-width="1"/>
<line x1="369.65" y1="137.4" x2="369.65" y2="138.6" stroke="#262626" stroke-width="1"/>
<text x="0" y="0" font-size="8.5" text-anchor="middle" fill="#262626" transform="translate(369.65 228.9) scale(0.86 1)">0.005</text>
<line x1="416.9" y1="217.8" x2="416.9" y2="216.6" stroke="#262626" stroke-width="1"/>
<line x1="416.9" y1="137.4" x2="416.9" y2="138.6" stroke="#262626" stroke-width="1"/>
<text x="0" y="0" font-size="8.5" text-anchor="middle" fill="#262626" transform="translate(416.9 228.9) scale(0.86 1)">0.01</text>
<line x1="322.4" y1="217.8" x2="323.6" y2="217.8" stroke="#262626" stroke-width="1"/>
<line x1="416.9" y1="217.8" x2="415.7" y2="217.8" stroke="#262626" stroke-width="1"/>
<text x="0" y="0" font-size="8.5" text-anchor="end" fill="#262626" transform="translate(320 221.2) scale(0.86 1)">0</text>
<line x1="322.4" y1="191" x2="323.6" y2="191" stroke="#262626" stroke-width="1"/>
<line x1="416.9" y1="191" x2="415.7" y2="191" stroke="#262626" stroke-width="1"/>
<text x="0" y="0" font-size="8.5" text-anchor="end" fill="#262626" transform="translate(320 194.4) scale(0.86 1)">50</text>
<line x1="322.4" y1="164.2" x2="323.6" y2="164.2" stroke="#262626" stroke-width="1"/>
<line x1="416.9" y1="164.2" x2="415.7" y2="164.2" stroke="#262626" stroke-width="1"/>
<text x="0" y="0" font-size="8.5" text-anchor="end" fill="#262626" transform="translate(320 167.6) scale(0.86 1)">100</text>
<line x1="322.4" y1="137.4" x2="323.6" y2="137.4" stroke="#262626" stroke-width="1"/>
<line x1="416.9" y1="137.4" x2="415.7" y2="137.4" stroke="#262626" stroke-width="1"/>
<text x="0" y="0" font-size="8.5" text-anchor="end" fill="#262626" transform="translate(320 140.8) scale(0.86 1)">150</text>
<text x="369.65" y="241.4" font-size="8.7" text-anchor="middle" fill="#262626">|PC<tspan font-size="6.4" dy="3.0">ij</tspan><tspan dy="-3.0">|</tspan></text>
<text x="0" y="0" font-size="8.7" text-anchor="middle" fill="#262626" transform="translate(302.3 177.6) rotate(-90)">No. of connections</text>
<rect x="488.1" y="214.58" width="3.17" height="3.22" fill="#5FA0D2" stroke="#1a1a1a" stroke-width="0.75"/>
<rect x="491.27" y="181.89" width="3.17" height="35.91" fill="#5FA0D2" stroke="#1a1a1a" stroke-width="0.75"/>
<rect x="494.43" y="194.75" width="3.17" height="23.05" fill="#5FA0D2" stroke="#1a1a1a" stroke-width="0.75"/>
<rect x="497.6" y="190.46" width="3.17" height="27.34" fill="#5FA0D2" stroke="#1a1a1a" stroke-width="0.75"/>
<rect x="500.77" y="189.39" width="3.17" height="28.41" fill="#5FA0D2" stroke="#1a1a1a" stroke-width="0.75"/>
<rect x="503.94" y="201.72" width="3.17" height="16.08" fill="#5FA0D2" stroke="#1a1a1a" stroke-width="0.75"/>
<rect x="507.1" y="210.3" width="3.17" height="7.5" fill="#5FA0D2" stroke="#1a1a1a" stroke-width="0.75"/>
<rect x="510.27" y="211.9" width="3.17" height="5.9" fill="#5FA0D2" stroke="#1a1a1a" stroke-width="0.75"/>
<rect x="513.44" y="215.12" width="3.17" height="2.68" fill="#5FA0D2" stroke="#1a1a1a" stroke-width="0.75"/>
<rect x="516.6" y="216.19" width="3.17" height="1.61" fill="#5FA0D2" stroke="#1a1a1a" stroke-width="0.75"/>
<rect x="488.1" y="212.98" width="3.17" height="4.82" fill="#E67344" fill-opacity="0.68" stroke="#2a1a10" stroke-width="0.75"/>
<rect x="491.27" y="149.46" width="3.17" height="68.34" fill="#E67344" fill-opacity="0.68" stroke="#2a1a10" stroke-width="0.75"/>
<rect x="494.43" y="151.55" width="3.17" height="66.25" fill="#E67344" fill-opacity="0.68" stroke="#2a1a10" stroke-width="0.75"/>
<rect x="497.6" y="155.62" width="3.17" height="62.18" fill="#E67344" fill-opacity="0.68" stroke="#2a1a10" stroke-width="0.75"/>
<rect x="500.77" y="169.56" width="3.17" height="48.24" fill="#E67344" fill-opacity="0.68" stroke="#2a1a10" stroke-width="0.75"/>
<rect x="503.94" y="194.75" width="3.17" height="23.05" fill="#E67344" fill-opacity="0.68" stroke="#2a1a10" stroke-width="0.75"/>
<rect x="507.1" y="199.84" width="3.17" height="17.96" fill="#E67344" fill-opacity="0.68" stroke="#2a1a10" stroke-width="0.75"/>
<rect x="510.27" y="208.69" width="3.17" height="9.11" fill="#E67344" fill-opacity="0.68" stroke="#2a1a10" stroke-width="0.75"/>
<rect x="513.44" y="212.6" width="3.17" height="5.2" fill="#E67344" fill-opacity="0.68" stroke="#2a1a10" stroke-width="0.75"/>
<rect x="516.6" y="213.62" width="3.17" height="4.18" fill="#E67344" fill-opacity="0.68" stroke="#2a1a10" stroke-width="0.75"/>
<rect x="454.3" y="202.26" width="3.4" height="15.54" fill="#E67344" fill-opacity="0.68" stroke="#2a1a10" stroke-width="0.75"/>
<rect x="453.6" y="137.4" width="95.1" height="80.4" fill="none" stroke="#1a1a1a" stroke-width="1.35"/>
<line x1="453.6" y1="217.8" x2="453.6" y2="216.6" stroke="#262626" stroke-width="1"/>
<line x1="453.6" y1="137.4" x2="453.6" y2="138.6" stroke="#262626" stroke-width="1"/>
<text x="0" y="0" font-size="8.5" text-anchor="middle" fill="#262626" transform="translate(453.6 228.9) scale(0.86 1)">0</text>
<line x1="501.15" y1="217.8" x2="501.15" y2="216.6" stroke="#262626" stroke-width="1"/>
<line x1="501.15" y1="137.4" x2="501.15" y2="138.6" stroke="#262626" stroke-width="1"/>
<text x="0" y="0" font-size="8.5" text-anchor="middle" fill="#262626" transform="translate(501.15 228.9) scale(0.86 1)">0.05</text>
<line x1="548.7" y1="217.8" x2="548.7" y2="216.6" stroke="#262626" stroke-width="1"/>
<line x1="548.7" y1="137.4" x2="548.7" y2="138.6" stroke="#262626" stroke-width="1"/>
<text x="0" y="0" font-size="8.5" text-anchor="middle" fill="#262626" transform="translate(548.7 228.9) scale(0.86 1)">0.1</text>
<line x1="453.6" y1="217.8" x2="454.8" y2="217.8" stroke="#262626" stroke-width="1"/>
<line x1="548.7" y1="217.8" x2="547.5" y2="217.8" stroke="#262626" stroke-width="1"/>
<text x="0" y="0" font-size="8.5" text-anchor="end" fill="#262626" transform="translate(451.2 221.2) scale(0.86 1)">0</text>
<line x1="453.6" y1="191" x2="454.8" y2="191" stroke="#262626" stroke-width="1"/>
<line x1="548.7" y1="191" x2="547.5" y2="191" stroke="#262626" stroke-width="1"/>
<text x="0" y="0" font-size="8.5" text-anchor="end" fill="#262626" transform="translate(451.2 194.4) scale(0.86 1)">50</text>
<line x1="453.6" y1="164.2" x2="454.8" y2="164.2" stroke="#262626" stroke-width="1"/>
<line x1="548.7" y1="164.2" x2="547.5" y2="164.2" stroke="#262626" stroke-width="1"/>
<text x="0" y="0" font-size="8.5" text-anchor="end" fill="#262626" transform="translate(451.2 167.6) scale(0.86 1)">100</text>
<line x1="453.6" y1="137.4" x2="454.8" y2="137.4" stroke="#262626" stroke-width="1"/>
<line x1="548.7" y1="137.4" x2="547.5" y2="137.4" stroke="#262626" stroke-width="1"/>
<text x="0" y="0" font-size="8.5" text-anchor="end" fill="#262626" transform="translate(451.2 140.8) scale(0.86 1)">150</text>
<text x="501.15" y="241.4" font-size="8.7" text-anchor="middle" fill="#262626">|CC<tspan font-size="6.4" dy="3.0">ij</tspan><tspan dy="-3.0">|</tspan></text>
<text x="0" y="0" font-size="8.7" text-anchor="middle" fill="#262626" transform="translate(433.5 177.6) rotate(-90)">No. of connections</text>
<rect x="592" y="137.4" width="81.1" height="80.4" fill="none" stroke="#262626" stroke-width="1.3"/>
<line x1="592" y1="217.8" x2="673.1" y2="137.4" stroke="#A0A0A0" stroke-width="0.7"/>
<polyline points="592,217.8 592,208.87 592.9,208.87 592.9,204.4 593.8,204.4 593.8,199.93 594.7,199.93 594.7,197.7 595.6,197.7 595.6,195.47 596.51,195.47 596.51,193.23 597.41,193.23 598.31,193.23 599.21,193.23 599.21,191 600.11,191 601.01,191 601.91,191 601.91,188.77 602.81,188.77 602.81,186.53 603.71,186.53 604.62,186.53 604.62,184.3 605.52,184.3 605.52,182.07 606.42,182.07 606.42,179.83 607.32,179.83 608.22,179.83 608.22,177.6 609.12,177.6 609.12,175.37 610.02,175.37 610.92,175.37 610.92,173.13 611.82,173.13 611.82,170.9 612.73,170.9 613.63,170.9 614.53,170.9 614.53,168.67 615.43,168.67 616.33,168.67 617.23,168.67 618.13,168.67 618.13,166.43 619.03,166.43 619.93,166.43 620.84,166.43 621.74,166.43 622.64,166.43 622.64,164.2 623.54,164.2 624.44,164.2 625.34,164.2 626.24,164.2 626.24,161.97 627.14,161.97 628.04,161.97 628.95,161.97 628.95,159.73 629.85,159.73 630.75,159.73 631.65,159.73 632.55,159.73 632.55,157.5 633.45,157.5 634.35,157.5 635.25,157.5 635.25,155.27 636.15,155.27 637.06,155.27 637.96,155.27 638.86,155.27 639.76,155.27 640.66,155.27 641.56,155.27 641.56,153.03 642.46,153.03 643.36,153.03 644.26,153.03 645.17,153.03 646.07,153.03 646.97,153.03 646.97,150.8 647.87,150.8 648.77,150.8 649.67,150.8 650.57,150.8 650.57,148.57 651.47,148.57 652.37,148.57 653.28,148.57 654.18,148.57 655.08,148.57 655.08,146.33 655.98,146.33 656.88,146.33 657.78,146.33 658.68,146.33 659.58,146.33 660.48,146.33 660.48,144.1 661.39,144.1 662.29,144.1 663.19,144.1 663.19,141.87 664.09,141.87 664.99,141.87 664.99,139.63 665.89,139.63 666.79,139.63 667.69,139.63 668.59,139.63 669.5,139.63 669.5,137.4 670.4,137.4 671.3,137.4 672.2,137.4 673.1,137.4" fill="none" stroke="#D92626" stroke-width="1.4" stroke-linejoin="round"/>
<polyline points="592,217.8 592,215.57 592.9,215.57 592.9,213.33 593.8,213.33 594.7,213.33 594.7,211.1 595.6,211.1 595.6,208.87 596.51,208.87 597.41,208.87 598.31,208.87 598.31,206.63 599.21,206.63 600.11,206.63 601.01,206.63 601.01,204.4 601.91,204.4 602.81,204.4 603.71,204.4 603.71,202.17 604.62,202.17 605.52,202.17 605.52,199.93 606.42,199.93 607.32,199.93 607.32,197.7 608.22,197.7 609.12,197.7 609.12,195.47 610.02,195.47 610.92,195.47 610.92,193.23 611.82,193.23 612.73,193.23 612.73,191 613.63,191 614.53,191 614.53,188.77 615.43,188.77 616.33,188.77 616.33,186.53 617.23,186.53 618.13,186.53 619.03,186.53 619.03,184.3 619.93,184.3 620.84,184.3 621.74,184.3 621.74,182.07 622.64,182.07 623.54,182.07 624.44,182.07 624.44,179.83 625.34,179.83 626.24,179.83 627.14,179.83 627.14,177.6 628.04,177.6 628.95,177.6 629.85,177.6 630.75,177.6 630.75,175.37 631.65,175.37 632.55,175.37 633.45,175.37 633.45,173.13 634.35,173.13 634.35,170.9 635.25,170.9 636.15,170.9 636.15,168.67 637.06,168.67 637.96,168.67 638.86,168.67 638.86,166.43 639.76,166.43 640.66,166.43 641.56,166.43 641.56,164.2 642.46,164.2 643.36,164.2 644.26,164.2 644.26,161.97 645.17,161.97 646.07,161.97 646.97,161.97 647.87,161.97 647.87,159.73 648.77,159.73 649.67,159.73 650.57,159.73 650.57,157.5 651.47,157.5 652.37,157.5 653.28,157.5 653.28,155.27 654.18,155.27 655.08,155.27 655.98,155.27 655.98,153.03 656.88,153.03 657.78,153.03 657.78,150.8 658.68,150.8 659.58,150.8 660.48,150.8 660.48,148.57 661.39,148.57 661.39,146.33 662.29,146.33 662.29,144.1 663.19,144.1 664.09,144.1 664.09,141.87 664.99,141.87 665.89,141.87 665.89,139.63 666.79,139.63 667.69,139.63 668.59,139.63 669.5,139.63 670.4,139.63 670.4,137.4 671.3,137.4 672.2,137.4 673.1,137.4" fill="none" stroke="#218536" stroke-width="1.4" stroke-linejoin="round"/>
<polyline points="592,217.8 592.9,217.8 592.9,215.57 593.8,215.57 594.7,215.57 594.7,213.33 595.6,213.33 596.51,213.33 596.51,211.1 597.41,211.1 598.31,211.1 598.31,208.87 599.21,208.87 599.21,206.63 600.11,206.63 601.01,206.63 601.01,204.4 601.91,204.4 602.81,204.4 602.81,202.17 603.71,202.17 603.71,199.93 604.62,199.93 605.52,199.93 605.52,197.7 606.42,197.7 607.32,197.7 607.32,195.47 608.22,195.47 609.12,195.47 609.12,193.23 610.02,193.23 610.02,191 610.92,191 611.82,191 611.82,188.77 612.73,188.77 613.63,188.77 614.53,188.77 615.43,188.77 615.43,186.53 616.33,186.53 617.23,186.53 618.13,186.53 619.03,186.53 619.93,186.53 619.93,184.3 620.84,184.3 621.74,184.3 622.64,184.3 623.54,184.3 623.54,182.07 624.44,182.07 625.34,182.07 626.24,182.07 626.24,179.83 627.14,179.83 628.04,179.83 628.95,179.83 629.85,179.83 629.85,177.6 630.75,177.6 631.65,177.6 631.65,175.37 632.55,175.37 633.45,175.37 634.35,175.37 634.35,173.13 635.25,173.13 636.15,173.13 637.06,173.13 637.06,170.9 637.96,170.9 638.86,170.9 639.76,170.9 639.76,168.67 640.66,168.67 641.56,168.67 641.56,166.43 642.46,166.43 643.36,166.43 644.26,166.43 644.26,164.2 645.17,164.2 646.07,164.2 646.97,164.2 647.87,164.2 647.87,161.97 648.77,161.97 649.67,161.97 650.57,161.97 651.47,161.97 651.47,159.73 652.37,159.73 653.28,159.73 653.28,157.5 654.18,157.5 655.08,157.5 655.08,155.27 655.98,155.27 656.88,155.27 656.88,153.03 657.78,153.03 658.68,153.03 658.68,150.8 659.58,150.8 660.48,150.8 660.48,148.57 661.39,148.57 661.39,146.33 662.29,146.33 663.19,146.33 663.19,144.1 664.09,144.1 664.99,144.1 664.99,141.87 665.89,141.87 665.89,139.63 666.79,139.63 667.69,139.63 668.59,139.63 669.5,139.63 670.4,139.63 670.4,137.4 671.3,137.4 672.2,137.4 673.1,137.4" fill="none" stroke="#2747A0" stroke-width="1.4" stroke-linejoin="round"/>
<line x1="592" y1="217.8" x2="592" y2="216.6" stroke="#262626" stroke-width="1"/>
<line x1="592" y1="137.4" x2="592" y2="138.6" stroke="#262626" stroke-width="1"/>
<text x="0" y="0" font-size="8.5" text-anchor="middle" fill="#262626" transform="translate(592 228.9) scale(0.86 1)">0</text>
<line x1="592" y1="217.8" x2="593.2" y2="217.8" stroke="#262626" stroke-width="1"/>
<line x1="673.1" y1="217.8" x2="671.9" y2="217.8" stroke="#262626" stroke-width="1"/>
<text x="0" y="0" font-size="8.5" text-anchor="end" fill="#262626" transform="translate(589.6 221.2) scale(0.86 1)">0</text>
<line x1="632.55" y1="217.8" x2="632.55" y2="216.6" stroke="#262626" stroke-width="1"/>
<line x1="632.55" y1="137.4" x2="632.55" y2="138.6" stroke="#262626" stroke-width="1"/>
<text x="0" y="0" font-size="8.5" text-anchor="middle" fill="#262626" transform="translate(632.55 228.9) scale(0.86 1)">0.5</text>
<line x1="592" y1="177.6" x2="593.2" y2="177.6" stroke="#262626" stroke-width="1"/>
<line x1="673.1" y1="177.6" x2="671.9" y2="177.6" stroke="#262626" stroke-width="1"/>
<text x="0" y="0" font-size="8.5" text-anchor="end" fill="#262626" transform="translate(589.6 181) scale(0.86 1)">0.5</text>
<line x1="673.1" y1="217.8" x2="673.1" y2="216.6" stroke="#262626" stroke-width="1"/>
<line x1="673.1" y1="137.4" x2="673.1" y2="138.6" stroke="#262626" stroke-width="1"/>
<text x="0" y="0" font-size="8.5" text-anchor="middle" fill="#262626" transform="translate(673.1 228.9) scale(0.86 1)">1</text>
<line x1="592" y1="137.4" x2="593.2" y2="137.4" stroke="#262626" stroke-width="1"/>
<line x1="673.1" y1="137.4" x2="671.9" y2="137.4" stroke="#262626" stroke-width="1"/>
<text x="0" y="0" font-size="8.5" text-anchor="end" fill="#262626" transform="translate(589.6 140.8) scale(0.86 1)">1</text>
<text x="632.55" y="240.5" font-size="8.7" text-anchor="middle" fill="#262626">FPR</text>
<text x="0" y="0" font-size="8.7" text-anchor="middle" fill="#262626" transform="translate(574.8 177.6) rotate(-90)">TPR</text>
<text x="0" y="0" font-size="9.7" text-anchor="middle" fill="#262626" transform="translate(9.3 178.1) rotate(-90) scale(0.86 1)"><tspan font-style="italic">ρ</tspan>=0.001</text>
<text x="0" y="0" font-size="9" text-anchor="middle" fill="#262626" transform="translate(19.8 177.6) rotate(-90)">Mean firing rate 40 Hz</text>
<circle cx="93.12" cy="268.09" r="1.05" fill="#000"/>
<circle cx="92.8" cy="270.67" r="1.05" fill="#000"/>
<circle cx="92.04" cy="273.26" r="1.05" fill="#000"/>
<circle cx="94.2" cy="273.26" r="1.05" fill="#000"/>
<circle cx="94.2" cy="275.85" r="1.05" fill="#000"/>
<circle cx="93.12" cy="278.43" r="1.05" fill="#000"/>
<circle cx="92.8" cy="281.02" r="1.05" fill="#000"/>
<circle cx="94.63" cy="283.61" r="1.05" fill="#000"/>
<circle cx="92.04" cy="286.19" r="1.05" fill="#000"/>
<circle cx="91.4" cy="288.78" r="1.05" fill="#000"/>
<circle cx="95.28" cy="288.78" r="1.05" fill="#000"/>
<circle cx="93.12" cy="291.37" r="1.05" fill="#000"/>
<circle cx="95.28" cy="293.95" r="1.05" fill="#000"/>
<circle cx="92.8" cy="296.54" r="1.05" fill="#000"/>
<circle cx="94.74" cy="299.13" r="1.05" fill="#000"/>
<circle cx="94.2" cy="301.71" r="1.05" fill="#000"/>
<circle cx="88.48" cy="304.3" r="1.05" fill="#000"/>
<circle cx="92.26" cy="306.89" r="1.05" fill="#000"/>
<circle cx="91.72" cy="309.47" r="1.05" fill="#000"/>
<circle cx="90.97" cy="312.06" r="1.05" fill="#000"/>
<circle cx="94.63" cy="314.65" r="1.05" fill="#000"/>
<circle cx="95.28" cy="317.23" r="1.05" fill="#000"/>
<circle cx="94.2" cy="319.82" r="1.05" fill="#000"/>
<circle cx="94.96" cy="322.41" r="1.05" fill="#000"/>
<circle cx="94.2" cy="324.99" r="1.05" fill="#000"/>
<circle cx="78.02" cy="327.58" r="1.05" fill="#000"/>
<circle cx="95.28" cy="327.58" r="1.05" fill="#000"/>
<circle cx="89.02" cy="330.17" r="1.05" fill="#000"/>
<circle cx="93.12" cy="332.75" r="1.05" fill="#000"/>
<circle cx="94.2" cy="335.34" r="1.05" fill="#000"/>
<circle cx="95.28" cy="337.93" r="1.05" fill="#000"/>
<circle cx="89.02" cy="340.51" r="1.05" fill="#000"/>
<circle cx="93.88" cy="343.1" r="1.05" fill="#000"/>
<circle cx="131.96" cy="268.09" r="1.05" fill="#000"/>
<circle cx="131.96" cy="270.67" r="1.05" fill="#000"/>
<circle cx="130.56" cy="273.26" r="1.05" fill="#000"/>
<circle cx="134.12" cy="273.26" r="1.05" fill="#000"/>
<circle cx="131.31" cy="275.85" r="1.05" fill="#000"/>
<circle cx="132.71" cy="278.43" r="1.05" fill="#000"/>
<circle cx="129.48" cy="281.02" r="1.05" fill="#000"/>
<circle cx="133.25" cy="283.61" r="1.05" fill="#000"/>
<circle cx="133.04" cy="286.19" r="1.05" fill="#000"/>
<circle cx="130.56" cy="288.78" r="1.05" fill="#000"/>
<circle cx="127.1" cy="291.37" r="1.05" fill="#000"/>
<circle cx="134.87" cy="293.95" r="1.05" fill="#000"/>
<circle cx="131.96" cy="296.54" r="1.05" fill="#000"/>
<circle cx="132.39" cy="299.13" r="1.05" fill="#000"/>
<circle cx="133.79" cy="301.71" r="1.05" fill="#000"/>
<circle cx="128.72" cy="304.3" r="1.05" fill="#000"/>
<circle cx="124.84" cy="306.89" r="1.05" fill="#000"/>
<circle cx="130.88" cy="309.47" r="1.05" fill="#000"/>
<circle cx="131.63" cy="312.06" r="1.05" fill="#000"/>
<circle cx="132.71" cy="314.65" r="1.05" fill="#000"/>
<circle cx="134.87" cy="317.23" r="1.05" fill="#000"/>
<circle cx="129.48" cy="319.82" r="1.05" fill="#000"/>
<circle cx="133.79" cy="322.41" r="1.05" fill="#000"/>
<circle cx="133.79" cy="324.99" r="1.05" fill="#000"/>
<circle cx="133.58" cy="327.58" r="1.05" fill="#000"/>
<circle cx="128.94" cy="330.17" r="1.05" fill="#000"/>
<circle cx="133.79" cy="332.75" r="1.05" fill="#000"/>
<circle cx="133.04" cy="335.34" r="1.05" fill="#000"/>
<circle cx="132.71" cy="337.93" r="1.05" fill="#000"/>
<circle cx="127.86" cy="340.51" r="1.05" fill="#000"/>
<circle cx="133.79" cy="343.1" r="1.05" fill="#000"/>
<path d="M60.1 265.5 V345.8 H155.6" fill="none" stroke="#111" stroke-width="1.6"/>
<line x1="60.1" y1="265.5" x2="61.3" y2="265.5" stroke="#262626" stroke-width="1"/>
<text x="0" y="0" font-size="8.5" text-anchor="end" fill="#262626" transform="translate(55.8 269.35) scale(0.86 1)">0</text>
<line x1="60.1" y1="291.37" x2="61.3" y2="291.37" stroke="#262626" stroke-width="1"/>
<text x="0" y="0" font-size="8.5" text-anchor="end" fill="#262626" transform="translate(55.8 295.22) scale(0.86 1)">10</text>
<line x1="60.1" y1="317.23" x2="61.3" y2="317.23" stroke="#262626" stroke-width="1"/>
<text x="0" y="0" font-size="8.5" text-anchor="end" fill="#262626" transform="translate(55.8 321.08) scale(0.86 1)">20</text>
<line x1="60.1" y1="343.1" x2="61.3" y2="343.1" stroke="#262626" stroke-width="1"/>
<text x="0" y="0" font-size="8.5" text-anchor="end" fill="#262626" transform="translate(55.8 346.95) scale(0.86 1)">30</text>
<line x1="60.1" y1="345.8" x2="60.1" y2="344.6" stroke="#262626" stroke-width="1"/>
<text x="0" y="0" font-size="8.5" text-anchor="middle" fill="#262626" transform="translate(60.1 358.1) scale(0.86 1)">0</text>
<line x1="97.8" y1="345.8" x2="97.8" y2="344.6" stroke="#262626" stroke-width="1"/>
<text x="0" y="0" font-size="8.5" text-anchor="middle" fill="#262626" transform="translate(97.8 358.1) scale(0.86 1)">100</text>
<line x1="135.5" y1="345.8" x2="135.5" y2="344.6" stroke="#262626" stroke-width="1"/>
<text x="0" y="0" font-size="8.5" text-anchor="middle" fill="#262626" transform="translate(135.5 358.1) scale(0.86 1)">200</text>
<text x="106.35" y="369.4" font-size="8.7" text-anchor="middle" fill="#262626">Time(ms)</text>
<text x="0" y="0" font-size="8.7" text-anchor="middle" fill="#262626" transform="translate(43.3 305.65) rotate(-90)">Neuron No.</text>
<rect x="191.7" y="329.74" width="4.34" height="16.06" fill="#5FA0D2" stroke="#1a1a1a" stroke-width="0.75"/>
<rect x="196.04" y="328.62" width="4.34" height="17.18" fill="#5FA0D2" stroke="#1a1a1a" stroke-width="0.75"/>
<rect x="200.38" y="316.41" width="4.34" height="29.39" fill="#5FA0D2" stroke="#1a1a1a" stroke-width="0.75"/>
<rect x="204.72" y="329.74" width="4.34" height="16.06" fill="#5FA0D2" stroke="#1a1a1a" stroke-width="0.75"/>
<rect x="209.06" y="331.67" width="4.34" height="14.13" fill="#5FA0D2" stroke="#1a1a1a" stroke-width="0.75"/>
<rect x="213.39" y="321.71" width="4.34" height="24.09" fill="#5FA0D2" stroke="#1a1a1a" stroke-width="0.75"/>
<rect x="217.73" y="324.6" width="4.34" height="21.2" fill="#5FA0D2" stroke="#1a1a1a" stroke-width="0.75"/>
<rect x="222.07" y="320.1" width="4.34" height="25.7" fill="#5FA0D2" stroke="#1a1a1a" stroke-width="0.75"/>
<rect x="226.41" y="334.24" width="4.34" height="11.56" fill="#5FA0D2" stroke="#1a1a1a" stroke-width="0.75"/>
<rect x="230.75" y="334.24" width="4.34" height="11.56" fill="#5FA0D2" stroke="#1a1a1a" stroke-width="0.75"/>
<rect x="235.09" y="331.59" width="4.34" height="14.21" fill="#5FA0D2" stroke="#1a1a1a" stroke-width="0.75"/>
<rect x="239.43" y="341.79" width="4.34" height="4.02" fill="#5FA0D2" stroke="#1a1a1a" stroke-width="0.75"/>
<rect x="243.77" y="339.38" width="4.34" height="6.42" fill="#5FA0D2" stroke="#1a1a1a" stroke-width="0.75"/>
<rect x="248.11" y="341.38" width="4.34" height="4.42" fill="#5FA0D2" stroke="#1a1a1a" stroke-width="0.75"/>
<rect x="252.45" y="341.38" width="4.34" height="4.42" fill="#5FA0D2" stroke="#1a1a1a" stroke-width="0.75"/>
<rect x="256.78" y="343.15" width="4.34" height="2.65" fill="#5FA0D2" stroke="#1a1a1a" stroke-width="0.75"/>
<rect x="261.12" y="341.38" width="4.34" height="4.42" fill="#5FA0D2" stroke="#1a1a1a" stroke-width="0.75"/>
<rect x="265.46" y="342.35" width="4.34" height="3.45" fill="#5FA0D2" stroke="#1a1a1a" stroke-width="0.75"/>
<rect x="269.8" y="344.19" width="4.34" height="1.61" fill="#5FA0D2" stroke="#1a1a1a" stroke-width="0.75"/>
<rect x="274.14" y="342.35" width="4.34" height="3.45" fill="#5FA0D2" stroke="#1a1a1a" stroke-width="0.75"/>
<rect x="278.48" y="344.19" width="4.34" height="1.61" fill="#5FA0D2" stroke="#1a1a1a" stroke-width="0.75"/>
<rect x="191.7" y="270.32" width="4.34" height="75.48" fill="#E67344" fill-opacity="0.68" stroke="#2a1a10" stroke-width="0.75"/>
<rect x="196.04" y="299.23" width="4.34" height="46.57" fill="#E67344" fill-opacity="0.68" stroke="#2a1a10" stroke-width="0.75"/>
<rect x="200.38" y="300.83" width="4.34" height="44.97" fill="#E67344" fill-opacity="0.68" stroke="#2a1a10" stroke-width="0.75"/>
<rect x="204.72" y="299.23" width="4.34" height="46.57" fill="#E67344" fill-opacity="0.68" stroke="#2a1a10" stroke-width="0.75"/>
<rect x="209.06" y="310.47" width="4.34" height="35.33" fill="#E67344" fill-opacity="0.68" stroke="#2a1a10" stroke-width="0.75"/>
<rect x="213.39" y="321.71" width="4.34" height="24.09" fill="#E67344" fill-opacity="0.68" stroke="#2a1a10" stroke-width="0.75"/>
<rect x="217.73" y="313.68" width="4.34" height="32.12" fill="#E67344" fill-opacity="0.68" stroke="#2a1a10" stroke-width="0.75"/>
<rect x="222.07" y="312.07" width="4.34" height="33.73" fill="#E67344" fill-opacity="0.68" stroke="#2a1a10" stroke-width="0.75"/>
<rect x="226.41" y="316.89" width="4.34" height="28.91" fill="#E67344" fill-opacity="0.68" stroke="#2a1a10" stroke-width="0.75"/>
<rect x="230.75" y="321.71" width="4.34" height="24.09" fill="#E67344" fill-opacity="0.68" stroke="#2a1a10" stroke-width="0.75"/>
<rect x="235.09" y="324.6" width="4.34" height="21.2" fill="#E67344" fill-opacity="0.68" stroke="#2a1a10" stroke-width="0.75"/>
<rect x="239.43" y="331.59" width="4.34" height="14.21" fill="#E67344" fill-opacity="0.68" stroke="#2a1a10" stroke-width="0.75"/>
<rect x="243.77" y="333.75" width="4.34" height="12.05" fill="#E67344" fill-opacity="0.68" stroke="#2a1a10" stroke-width="0.75"/>
<rect x="248.11" y="323.32" width="4.34" height="22.48" fill="#E67344" fill-opacity="0.68" stroke="#2a1a10" stroke-width="0.75"/>
<rect x="252.45" y="332.95" width="4.34" height="12.85" fill="#E67344" fill-opacity="0.68" stroke="#2a1a10" stroke-width="0.75"/>
<rect x="256.78" y="339.7" width="4.34" height="6.1" fill="#E67344" fill-opacity="0.68" stroke="#2a1a10" stroke-width="0.75"/>
<rect x="261.12" y="345" width="4.34" height="0.8" fill="#E67344" fill-opacity="0.68" stroke="#2a1a10" stroke-width="0.75"/>
<rect x="265.46" y="345" width="4.34" height="0.8" fill="#E67344" fill-opacity="0.68" stroke="#2a1a10" stroke-width="0.75"/>
<rect x="269.8" y="344.19" width="4.34" height="1.61" fill="#E67344" fill-opacity="0.68" stroke="#2a1a10" stroke-width="0.75"/>
<rect x="274.14" y="342.35" width="4.34" height="3.45" fill="#E67344" fill-opacity="0.68" stroke="#2a1a10" stroke-width="0.75"/>
<rect x="278.48" y="344.19" width="4.34" height="1.61" fill="#E67344" fill-opacity="0.68" stroke="#2a1a10" stroke-width="0.75"/>
<rect x="191.4" y="265.5" width="95" height="80.3" fill="none" stroke="#1a1a1a" stroke-width="1.35"/>
<line x1="191.4" y1="345.8" x2="191.4" y2="344.6" stroke="#262626" stroke-width="1"/>
<line x1="191.4" y1="265.5" x2="191.4" y2="266.7" stroke="#262626" stroke-width="1"/>
<text x="0" y="0" font-size="8.5" text-anchor="middle" fill="#262626" transform="translate(191.4 356.9) scale(0.86 1)">0</text>
<line x1="223.07" y1="345.8" x2="223.07" y2="344.6" stroke="#262626" stroke-width="1"/>
<line x1="223.07" y1="265.5" x2="223.07" y2="266.7" stroke="#262626" stroke-width="1"/>
<text x="0" y="0" font-size="8.5" text-anchor="middle" fill="#262626" transform="translate(223.07 356.9) scale(0.86 1)">0.01</text>
<line x1="254.73" y1="345.8" x2="254.73" y2="344.6" stroke="#262626" stroke-width="1"/>
<line x1="254.73" y1="265.5" x2="254.73" y2="266.7" stroke="#262626" stroke-width="1"/>
<text x="0" y="0" font-size="8.5" text-anchor="middle" fill="#262626" transform="translate(254.73 356.9) scale(0.86 1)">0.02</text>
<line x1="286.4" y1="345.8" x2="286.4" y2="344.6" stroke="#262626" stroke-width="1"/>
<line x1="286.4" y1="265.5" x2="286.4" y2="266.7" stroke="#262626" stroke-width="1"/>
<text x="0" y="0" font-size="8.5" text-anchor="middle" fill="#262626" transform="translate(286.4 356.9) scale(0.86 1)">0.03</text>
<line x1="191.4" y1="345.8" x2="192.6" y2="345.8" stroke="#262626" stroke-width="1"/>
<line x1="286.4" y1="345.8" x2="285.2" y2="345.8" stroke="#262626" stroke-width="1"/>
<text x="0" y="0" font-size="8.5" text-anchor="end" fill="#262626" transform="translate(189 349.2) scale(0.86 1)">0</text>
<line x1="191.4" y1="305.65" x2="192.6" y2="305.65" stroke="#262626" stroke-width="1"/>
<line x1="286.4" y1="305.65" x2="285.2" y2="305.65" stroke="#262626" stroke-width="1"/>
<text x="0" y="0" font-size="8.5" text-anchor="end" fill="#262626" transform="translate(189 309.05) scale(0.86 1)">50</text>
<line x1="191.4" y1="265.5" x2="192.6" y2="265.5" stroke="#262626" stroke-width="1"/>
<line x1="286.4" y1="265.5" x2="285.2" y2="265.5" stroke="#262626" stroke-width="1"/>
<text x="0" y="0" font-size="8.5" text-anchor="end" fill="#262626" transform="translate(189 268.9) scale(0.86 1)">100</text>
<text x="238.9" y="369.4" font-size="8.7" text-anchor="middle" fill="#262626">|J<tspan font-size="6.4" dy="3.0">ij</tspan><tspan dy="-3.0">|</tspan></text>
<text x="0" y="0" font-size="8.7" text-anchor="middle" fill="#262626" transform="translate(171.3 305.65) rotate(-90)">No. of connections</text>
<rect x="323.9" y="342.45" width="3.49" height="3.35" fill="#5FA0D2" stroke="#1a1a1a" stroke-width="0.75"/>
<rect x="327.39" y="338.44" width="3.49" height="7.36" fill="#5FA0D2" stroke="#1a1a1a" stroke-width="0.75"/>
<rect x="330.88" y="335.36" width="3.49" height="10.44" fill="#5FA0D2" stroke="#1a1a1a" stroke-width="0.75"/>
<rect x="334.37" y="339.38" width="3.49" height="6.42" fill="#5FA0D2" stroke="#1a1a1a" stroke-width="0.75"/>
<rect x="337.86" y="341.38" width="3.49" height="4.42" fill="#5FA0D2" stroke="#1a1a1a" stroke-width="0.75"/>
<rect x="341.35" y="341.79" width="3.49" height="4.02" fill="#5FA0D2" stroke="#1a1a1a" stroke-width="0.75"/>
<rect x="344.84" y="343.93" width="3.49" height="1.87" fill="#5FA0D2" stroke="#1a1a1a" stroke-width="0.75"/>
<rect x="348.33" y="345.13" width="3.49" height="0.67" fill="#5FA0D2" stroke="#1a1a1a" stroke-width="0.75"/>
<rect x="351.82" y="345.26" width="3.49" height="0.54" fill="#5FA0D2" stroke="#1a1a1a" stroke-width="0.75"/>
<rect x="355.31" y="345.26" width="3.49" height="0.54" fill="#5FA0D2" stroke="#1a1a1a" stroke-width="0.75"/>
<rect x="358.8" y="345.4" width="3.49" height="0.4" fill="#5FA0D2" stroke="#1a1a1a" stroke-width="0.75"/>
<rect x="362.29" y="345.53" width="3.49" height="0.27" fill="#5FA0D2" stroke="#1a1a1a" stroke-width="0.75"/>
<rect x="323.9" y="336.3" width="3.49" height="9.5" fill="#E67344" fill-opacity="0.68" stroke="#2a1a10" stroke-width="0.75"/>
<rect x="327.39" y="290.39" width="3.49" height="55.41" fill="#E67344" fill-opacity="0.68" stroke="#2a1a10" stroke-width="0.75"/>
<rect x="330.88" y="334.69" width="3.49" height="11.11" fill="#E67344" fill-opacity="0.68" stroke="#2a1a10" stroke-width="0.75"/>
<rect x="334.37" y="342.59" width="3.49" height="3.21" fill="#E67344" fill-opacity="0.68" stroke="#2a1a10" stroke-width="0.75"/>
<rect x="337.86" y="345" width="3.49" height="0.8" fill="#E67344" fill-opacity="0.68" stroke="#2a1a10" stroke-width="0.75"/>
<rect x="341.35" y="345.26" width="3.49" height="0.54" fill="#E67344" fill-opacity="0.68" stroke="#2a1a10" stroke-width="0.75"/>
<rect x="344.84" y="345.4" width="3.49" height="0.4" fill="#E67344" fill-opacity="0.68" stroke="#2a1a10" stroke-width="0.75"/>
<rect x="348.33" y="345.53" width="3.49" height="0.27" fill="#E67344" fill-opacity="0.68" stroke="#2a1a10" stroke-width="0.75"/>
<rect x="351.82" y="345.53" width="3.49" height="0.27" fill="#E67344" fill-opacity="0.68" stroke="#2a1a10" stroke-width="0.75"/>
<rect x="355.31" y="345.67" width="3.49" height="0.13" fill="#E67344" fill-opacity="0.68" stroke="#2a1a10" stroke-width="0.75"/>
<rect x="323.2" y="265.5" width="94.5" height="80.3" fill="none" stroke="#1a1a1a" stroke-width="1.35"/>
<line x1="323.2" y1="345.8" x2="323.2" y2="344.6" stroke="#262626" stroke-width="1"/>
<line x1="323.2" y1="265.5" x2="323.2" y2="266.7" stroke="#262626" stroke-width="1"/>
<text x="0" y="0" font-size="8.5" text-anchor="middle" fill="#262626" transform="translate(323.2 356.9) scale(0.86 1)">0</text>
<line x1="354.7" y1="345.8" x2="354.7" y2="344.6" stroke="#262626" stroke-width="1"/>
<line x1="354.7" y1="265.5" x2="354.7" y2="266.7" stroke="#262626" stroke-width="1"/>
<text x="0" y="0" font-size="8.5" text-anchor="middle" fill="#262626" transform="translate(354.7 356.9) scale(0.86 1)">0.05</text>
<line x1="386.2" y1="345.8" x2="386.2" y2="344.6" stroke="#262626" stroke-width="1"/>
<line x1="386.2" y1="265.5" x2="386.2" y2="266.7" stroke="#262626" stroke-width="1"/>
<text x="0" y="0" font-size="8.5" text-anchor="middle" fill="#262626" transform="translate(386.2 356.9) scale(0.86 1)">0.1</text>
<line x1="417.7" y1="345.8" x2="417.7" y2="344.6" stroke="#262626" stroke-width="1"/>
<line x1="417.7" y1="265.5" x2="417.7" y2="266.7" stroke="#262626" stroke-width="1"/>
<text x="0" y="0" font-size="8.5" text-anchor="middle" fill="#262626" transform="translate(417.7 356.9) scale(0.86 1)">0.15</text>
<line x1="323.2" y1="345.8" x2="324.4" y2="345.8" stroke="#262626" stroke-width="1"/>
<line x1="417.7" y1="345.8" x2="416.5" y2="345.8" stroke="#262626" stroke-width="1"/>
<text x="0" y="0" font-size="8.5" text-anchor="end" fill="#262626" transform="translate(320.8 349.2) scale(0.86 1)">0</text>
<line x1="323.2" y1="319.03" x2="324.4" y2="319.03" stroke="#262626" stroke-width="1"/>
<line x1="417.7" y1="319.03" x2="416.5" y2="319.03" stroke="#262626" stroke-width="1"/>
<text x="0" y="0" font-size="8.5" text-anchor="end" fill="#262626" transform="translate(320.8 322.43) scale(0.86 1)">200</text>
<line x1="323.2" y1="292.27" x2="324.4" y2="292.27" stroke="#262626" stroke-width="1"/>
<line x1="417.7" y1="292.27" x2="416.5" y2="292.27" stroke="#262626" stroke-width="1"/>
<text x="0" y="0" font-size="8.5" text-anchor="end" fill="#262626" transform="translate(320.8 295.67) scale(0.86 1)">400</text>
<line x1="323.2" y1="265.5" x2="324.4" y2="265.5" stroke="#262626" stroke-width="1"/>
<line x1="417.7" y1="265.5" x2="416.5" y2="265.5" stroke="#262626" stroke-width="1"/>
<text x="0" y="0" font-size="8.5" text-anchor="end" fill="#262626" transform="translate(320.8 268.9) scale(0.86 1)">600</text>
<text x="370.45" y="369.4" font-size="8.7" text-anchor="middle" fill="#262626">|PC<tspan font-size="6.4" dy="3.0">ij</tspan><tspan dy="-3.0">|</tspan></text>
<text x="0" y="0" font-size="8.7" text-anchor="middle" fill="#262626" transform="translate(303.1 305.65) rotate(-90)">No. of connections</text>
<rect x="455.3" y="344.73" width="3.68" height="1.07" fill="#5FA0D2" stroke="#1a1a1a" stroke-width="0.75"/>
<rect x="458.98" y="343.66" width="3.68" height="2.14" fill="#5FA0D2" stroke="#1a1a1a" stroke-width="0.75"/>
<rect x="462.67" y="341.52" width="3.68" height="4.28" fill="#5FA0D2" stroke="#1a1a1a" stroke-width="0.75"/>
<rect x="466.35" y="343.66" width="3.68" height="2.14" fill="#5FA0D2" stroke="#1a1a1a" stroke-width="0.75"/>
<rect x="470.03" y="334.18" width="3.68" height="11.62" fill="#5FA0D2" stroke="#1a1a1a" stroke-width="0.75"/>
<rect x="473.72" y="330.81" width="3.68" height="14.99" fill="#5FA0D2" stroke="#1a1a1a" stroke-width="0.75"/>
<rect x="477.4" y="321.17" width="3.68" height="24.63" fill="#5FA0D2" stroke="#1a1a1a" stroke-width="0.75"/>
<rect x="481.08" y="330.81" width="3.68" height="14.99" fill="#5FA0D2" stroke="#1a1a1a" stroke-width="0.75"/>
<rect x="484.76" y="323.05" width="3.68" height="22.75" fill="#5FA0D2" stroke="#1a1a1a" stroke-width="0.75"/>
<rect x="488.45" y="325.73" width="3.68" height="20.08" fill="#5FA0D2" stroke="#1a1a1a" stroke-width="0.75"/>
<rect x="492.13" y="334.4" width="3.68" height="11.4" fill="#5FA0D2" stroke="#1a1a1a" stroke-width="0.75"/>
<rect x="495.81" y="331.51" width="3.68" height="14.29" fill="#5FA0D2" stroke="#1a1a1a" stroke-width="0.75"/>
<rect x="499.5" y="339.38" width="3.68" height="6.42" fill="#5FA0D2" stroke="#1a1a1a" stroke-width="0.75"/>
<rect x="503.18" y="341.36" width="3.68" height="4.44" fill="#5FA0D2" stroke="#1a1a1a" stroke-width="0.75"/>
<rect x="506.86" y="343.12" width="3.68" height="2.68" fill="#5FA0D2" stroke="#1a1a1a" stroke-width="0.75"/>
<rect x="510.55" y="344.73" width="3.68" height="1.07" fill="#5FA0D2" stroke="#1a1a1a" stroke-width="0.75"/>
<rect x="514.23" y="344.73" width="3.68" height="1.07" fill="#5FA0D2" stroke="#1a1a1a" stroke-width="0.75"/>
<rect x="528.96" y="344.73" width="3.68" height="1.07" fill="#5FA0D2" stroke="#1a1a1a" stroke-width="0.75"/>
<rect x="455.3" y="329.47" width="3.68" height="16.33" fill="#E67344" fill-opacity="0.68" stroke="#2a1a10" stroke-width="0.75"/>
<rect x="458.98" y="334.4" width="3.68" height="11.4" fill="#E67344" fill-opacity="0.68" stroke="#2a1a10" stroke-width="0.75"/>
<rect x="462.67" y="334.4" width="3.68" height="11.4" fill="#E67344" fill-opacity="0.68" stroke="#2a1a10" stroke-width="0.75"/>
<rect x="466.35" y="325.46" width="3.68" height="20.34" fill="#E67344" fill-opacity="0.68" stroke="#2a1a10" stroke-width="0.75"/>
<rect x="470.03" y="301.9" width="3.68" height="43.9" fill="#E67344" fill-opacity="0.68" stroke="#2a1a10" stroke-width="0.75"/>
<rect x="473.72" y="295.48" width="3.68" height="50.32" fill="#E67344" fill-opacity="0.68" stroke="#2a1a10" stroke-width="0.75"/>
<rect x="477.4" y="290.13" width="3.68" height="55.67" fill="#E67344" fill-opacity="0.68" stroke="#2a1a10" stroke-width="0.75"/>
<rect x="481.08" y="299.76" width="3.68" height="46.04" fill="#E67344" fill-opacity="0.68" stroke="#2a1a10" stroke-width="0.75"/>
<rect x="484.76" y="321.17" width="3.68" height="24.63" fill="#E67344" fill-opacity="0.68" stroke="#2a1a10" stroke-width="0.75"/>
<rect x="488.45" y="325.46" width="3.68" height="20.34" fill="#E67344" fill-opacity="0.68" stroke="#2a1a10" stroke-width="0.75"/>
<rect x="492.13" y="334.4" width="3.68" height="11.4" fill="#E67344" fill-opacity="0.68" stroke="#2a1a10" stroke-width="0.75"/>
<rect x="495.81" y="339.75" width="3.68" height="6.05" fill="#E67344" fill-opacity="0.68" stroke="#2a1a10" stroke-width="0.75"/>
<rect x="499.5" y="341.79" width="3.68" height="4.02" fill="#E67344" fill-opacity="0.68" stroke="#2a1a10" stroke-width="0.75"/>
<rect x="503.18" y="344.19" width="3.68" height="1.61" fill="#E67344" fill-opacity="0.68" stroke="#2a1a10" stroke-width="0.75"/>
<rect x="506.86" y="345.26" width="3.68" height="0.54" fill="#E67344" fill-opacity="0.68" stroke="#2a1a10" stroke-width="0.75"/>
<rect x="454.4" y="265.5" width="95.1" height="80.3" fill="none" stroke="#1a1a1a" stroke-width="1.35"/>
<line x1="454.4" y1="345.8" x2="454.4" y2="344.6" stroke="#262626" stroke-width="1"/>
<line x1="454.4" y1="265.5" x2="454.4" y2="266.7" stroke="#262626" stroke-width="1"/>
<text x="0" y="0" font-size="8.5" text-anchor="middle" fill="#262626" transform="translate(454.4 356.9) scale(0.86 1)">0</text>
<line x1="486.1" y1="345.8" x2="486.1" y2="344.6" stroke="#262626" stroke-width="1"/>
<line x1="486.1" y1="265.5" x2="486.1" y2="266.7" stroke="#262626" stroke-width="1"/>
<text x="0" y="0" font-size="8.5" text-anchor="middle" fill="#262626" transform="translate(486.1 356.9) scale(0.86 1)">0.1</text>
<line x1="517.8" y1="345.8" x2="517.8" y2="344.6" stroke="#262626" stroke-width="1"/>
<line x1="517.8" y1="265.5" x2="517.8" y2="266.7" stroke="#262626" stroke-width="1"/>
<text x="0" y="0" font-size="8.5" text-anchor="middle" fill="#262626" transform="translate(517.8 356.9) scale(0.86 1)">0.2</text>
<line x1="549.5" y1="345.8" x2="549.5" y2="344.6" stroke="#262626" stroke-width="1"/>
<line x1="549.5" y1="265.5" x2="549.5" y2="266.7" stroke="#262626" stroke-width="1"/>
<text x="0" y="0" font-size="8.5" text-anchor="middle" fill="#262626" transform="translate(549.5 356.9) scale(0.86 1)">0.3</text>
<line x1="454.4" y1="345.8" x2="455.6" y2="345.8" stroke="#262626" stroke-width="1"/>
<line x1="549.5" y1="345.8" x2="548.3" y2="345.8" stroke="#262626" stroke-width="1"/>
<text x="0" y="0" font-size="8.5" text-anchor="end" fill="#262626" transform="translate(452 349.2) scale(0.86 1)">0</text>
<line x1="454.4" y1="319.03" x2="455.6" y2="319.03" stroke="#262626" stroke-width="1"/>
<line x1="549.5" y1="319.03" x2="548.3" y2="319.03" stroke="#262626" stroke-width="1"/>
<text x="0" y="0" font-size="8.5" text-anchor="end" fill="#262626" transform="translate(452 322.43) scale(0.86 1)">50</text>
<line x1="454.4" y1="292.27" x2="455.6" y2="292.27" stroke="#262626" stroke-width="1"/>
<line x1="549.5" y1="292.27" x2="548.3" y2="292.27" stroke="#262626" stroke-width="1"/>
<text x="0" y="0" font-size="8.5" text-anchor="end" fill="#262626" transform="translate(452 295.67) scale(0.86 1)">100</text>
<line x1="454.4" y1="265.5" x2="455.6" y2="265.5" stroke="#262626" stroke-width="1"/>
<line x1="549.5" y1="265.5" x2="548.3" y2="265.5" stroke="#262626" stroke-width="1"/>
<text x="0" y="0" font-size="8.5" text-anchor="end" fill="#262626" transform="translate(452 268.9) scale(0.86 1)">150</text>
<text x="501.95" y="369.4" font-size="8.7" text-anchor="middle" fill="#262626">|CC<tspan font-size="6.4" dy="3.0">ij</tspan><tspan dy="-3.0">|</tspan></text>
<text x="0" y="0" font-size="8.7" text-anchor="middle" fill="#262626" transform="translate(434.3 305.65) rotate(-90)">No. of connections</text>
<rect x="592.8" y="265.5" width="81.1" height="80.3" fill="none" stroke="#262626" stroke-width="1.3"/>
<line x1="592.8" y1="345.8" x2="673.9" y2="265.5" stroke="#A0A0A0" stroke-width="0.7"/>
<polyline points="592.8,345.8 592.8,343.57 593.7,343.57 594.6,343.57 594.6,341.34 595.5,341.34 595.5,339.11 596.4,339.11 597.31,339.11 598.21,339.11 598.21,336.88 599.11,336.88 600.01,336.88 600.91,336.88 601.81,336.88 601.81,334.65 602.71,334.65 603.61,334.65 604.51,334.65 604.51,332.42 605.42,332.42 606.32,332.42 607.22,332.42 607.22,330.19 608.12,330.19 609.02,330.19 609.02,327.96 609.92,327.96 610.82,327.96 611.72,327.96 611.72,325.73 612.62,325.73 613.53,325.73 614.43,325.73 614.43,323.49 615.33,323.49 616.23,323.49 617.13,323.49 617.13,321.26 618.03,321.26 618.93,321.26 619.83,321.26 619.83,319.03 620.73,319.03 620.73,316.8 621.64,316.8 622.54,316.8 622.54,314.57 623.44,314.57 624.34,314.57 625.24,314.57 625.24,312.34 626.14,312.34 627.04,312.34 627.04,310.11 627.94,310.11 628.84,310.11 628.84,307.88 629.75,307.88 630.65,307.88 630.65,305.65 631.55,305.65 631.55,303.42 632.45,303.42 632.45,301.19 633.35,301.19 634.25,301.19 634.25,298.96 635.15,298.96 636.05,298.96 636.05,296.73 636.95,296.73 637.86,296.73 637.86,294.5 638.76,294.5 639.66,294.5 640.56,294.5 640.56,292.27 641.46,292.27 642.36,292.27 643.26,292.27 643.26,290.04 644.16,290.04 645.06,290.04 645.97,290.04 645.97,287.81 646.87,287.81 647.77,287.81 648.67,287.81 648.67,285.57 649.57,285.57 650.47,285.57 651.37,285.57 651.37,283.34 652.27,283.34 652.27,281.11 653.17,281.11 654.08,281.11 654.08,278.88 654.98,278.88 655.88,278.88 655.88,276.65 656.78,276.65 656.78,274.42 657.68,274.42 658.58,274.42 659.48,274.42 659.48,272.19 660.38,272.19 661.28,272.19 662.19,272.19 663.09,272.19 663.09,269.96 663.99,269.96 664.89,269.96 665.79,269.96 666.69,269.96 666.69,267.73 667.59,267.73 668.49,267.73 669.39,267.73 670.3,267.73 671.2,267.73 671.2,265.5 672.1,265.5 673,265.5 673.9,265.5" fill="none" stroke="#D92626" stroke-width="1.4" stroke-linejoin="round"/>
<polyline points="592.8,345.8 592.8,316.8 593.7,316.8 593.7,312.34 594.6,312.34 594.6,307.88 595.5,307.88 595.5,303.42 596.4,303.42 596.4,298.96 597.31,298.96 597.31,296.73 598.21,296.73 598.21,294.5 599.11,294.5 599.11,292.27 600.01,292.27 600.01,290.04 600.91,290.04 600.91,287.81 601.81,287.81 602.71,287.81 602.71,285.57 603.61,285.57 604.51,285.57 604.51,283.34 605.42,283.34 606.32,283.34 607.22,283.34 607.22,281.11 608.12,281.11 609.02,281.11 609.92,281.11 610.82,281.11 611.72,281.11 612.62,281.11 613.53,281.11 614.43,281.11 615.33,281.11 616.23,281.11 616.23,278.88 617.13,278.88 618.03,278.88 618.93,278.88 619.83,278.88 620.73,278.88 621.64,278.88 622.54,278.88 622.54,276.65 623.44,276.65 624.34,276.65 625.24,276.65 626.14,276.65 626.14,274.42 627.04,274.42 627.94,274.42 628.84,274.42 629.75,274.42 629.75,272.19 630.65,272.19 631.55,272.19 632.45,272.19 633.35,272.19 634.25,272.19 635.15,272.19 636.05,272.19 636.95,272.19 636.95,269.96 637.86,269.96 638.76,269.96 639.66,269.96 640.56,269.96 641.46,269.96 642.36,269.96 643.26,269.96 644.16,269.96 644.16,267.73 645.06,267.73 645.97,267.73 646.87,267.73 647.77,267.73 648.67,267.73 649.57,267.73 650.47,267.73 651.37,267.73 652.27,267.73 653.17,267.73 654.08,267.73 654.98,267.73 655.88,267.73 655.88,265.5 656.78,265.5 657.68,265.5 658.58,265.5 659.48,265.5 660.38,265.5 661.28,265.5 662.19,265.5 663.09,265.5 663.99,265.5 664.89,265.5 665.79,265.5 666.69,265.5 667.59,265.5 668.49,265.5 669.39,265.5 670.3,265.5 671.2,265.5 672.1,265.5 673,265.5 673.9,265.5" fill="none" stroke="#218536" stroke-width="1.4" stroke-linejoin="round"/>
<polyline points="592.8,345.8 592.8,339.11 593.7,339.11 593.7,332.42 594.6,332.42 594.6,330.19 595.5,330.19 596.4,330.19 596.4,327.96 597.31,327.96 597.31,325.73 598.21,325.73 598.21,323.49 599.11,323.49 600.01,323.49 600.01,321.26 600.91,321.26 600.91,319.03 601.81,319.03 601.81,316.8 602.71,316.8 602.71,314.57 603.61,314.57 603.61,312.34 604.51,312.34 605.42,312.34 605.42,310.11 606.32,310.11 606.32,307.88 607.22,307.88 608.12,307.88 608.12,305.65 609.02,305.65 609.92,305.65 609.92,303.42 610.82,303.42 611.72,303.42 611.72,301.19 612.62,301.19 613.53,301.19 614.43,301.19 614.43,298.96 615.33,298.96 616.23,298.96 617.13,298.96 618.03,298.96 618.93,298.96 618.93,296.73 619.83,296.73 620.73,296.73 621.64,296.73 622.54,296.73 622.54,294.5 623.44,294.5 624.34,294.5 625.24,294.5 625.24,292.27 626.14,292.27 627.04,292.27 627.04,290.04 627.94,290.04 628.84,290.04 629.75,290.04 629.75,287.81 630.65,287.81 631.55,287.81 632.45,287.81 632.45,285.57 633.35,285.57 634.25,285.57 635.15,285.57 635.15,283.34 636.05,283.34 636.95,283.34 637.86,283.34 637.86,281.11 638.76,281.11 639.66,281.11 640.56,281.11 640.56,278.88 641.46,278.88 642.36,278.88 643.26,278.88 644.16,278.88 645.06,278.88 645.06,276.65 645.97,276.65 646.87,276.65 647.77,276.65 648.67,276.65 649.57,276.65 650.47,276.65 650.47,274.42 651.37,274.42 652.27,274.42 653.17,274.42 654.08,274.42 654.98,274.42 655.88,274.42 656.78,274.42 657.68,274.42 657.68,272.19 658.58,272.19 659.48,272.19 660.38,272.19 661.28,272.19 661.28,269.96 662.19,269.96 663.09,269.96 663.99,269.96 664.89,269.96 664.89,267.73 665.79,267.73 666.69,267.73 667.59,267.73 668.49,267.73 669.39,267.73 670.3,267.73 670.3,265.5 671.2,265.5 672.1,265.5 673,265.5 673.9,265.5" fill="none" stroke="#2747A0" stroke-width="1.4" stroke-linejoin="round"/>
<line x1="592.8" y1="345.8" x2="592.8" y2="344.6" stroke="#262626" stroke-width="1"/>
<line x1="592.8" y1="265.5" x2="592.8" y2="266.7" stroke="#262626" stroke-width="1"/>
<text x="0" y="0" font-size="8.5" text-anchor="middle" fill="#262626" transform="translate(592.8 356.9) scale(0.86 1)">0</text>
<line x1="592.8" y1="345.8" x2="594" y2="345.8" stroke="#262626" stroke-width="1"/>
<line x1="673.9" y1="345.8" x2="672.7" y2="345.8" stroke="#262626" stroke-width="1"/>
<text x="0" y="0" font-size="8.5" text-anchor="end" fill="#262626" transform="translate(590.4 349.2) scale(0.86 1)">0</text>
<line x1="633.35" y1="345.8" x2="633.35" y2="344.6" stroke="#262626" stroke-width="1"/>
<line x1="633.35" y1="265.5" x2="633.35" y2="266.7" stroke="#262626" stroke-width="1"/>
<text x="0" y="0" font-size="8.5" text-anchor="middle" fill="#262626" transform="translate(633.35 356.9) scale(0.86 1)">0.5</text>
<line x1="592.8" y1="305.65" x2="594" y2="305.65" stroke="#262626" stroke-width="1"/>
<line x1="673.9" y1="305.65" x2="672.7" y2="305.65" stroke="#262626" stroke-width="1"/>
<text x="0" y="0" font-size="8.5" text-anchor="end" fill="#262626" transform="translate(590.4 309.05) scale(0.86 1)">0.5</text>
<line x1="673.9" y1="345.8" x2="673.9" y2="344.6" stroke="#262626" stroke-width="1"/>
<line x1="673.9" y1="265.5" x2="673.9" y2="266.7" stroke="#262626" stroke-width="1"/>
<text x="0" y="0" font-size="8.5" text-anchor="middle" fill="#262626" transform="translate(673.9 356.9) scale(0.86 1)">1</text>
<line x1="592.8" y1="265.5" x2="594" y2="265.5" stroke="#262626" stroke-width="1"/>
<line x1="673.9" y1="265.5" x2="672.7" y2="265.5" stroke="#262626" stroke-width="1"/>
<text x="0" y="0" font-size="8.5" text-anchor="end" fill="#262626" transform="translate(590.4 268.9) scale(0.86 1)">1</text>
<text x="633.35" y="368.5" font-size="8.7" text-anchor="middle" fill="#262626">FPR</text>
<text x="0" y="0" font-size="8.7" text-anchor="middle" fill="#262626" transform="translate(575.6 305.65) rotate(-90)">TPR</text>
<text x="0" y="0" font-size="9.7" text-anchor="middle" fill="#262626" transform="translate(9.3 306.15) rotate(-90) scale(0.86 1)"><tspan font-style="italic">ρ</tspan>=0.3</text>
<text x="0" y="0" font-size="9" text-anchor="middle" fill="#262626" transform="translate(19.8 305.65) rotate(-90)">Mean firing rate 10 Hz</text>
<circle cx="59.3" cy="389.49" r="1.05" fill="#000"/>
<circle cx="63.15" cy="389.49" r="1.05" fill="#000"/>
<circle cx="65.71" cy="389.49" r="1.05" fill="#000"/>
<circle cx="79.81" cy="389.49" r="1.05" fill="#000"/>
<circle cx="82.37" cy="389.49" r="1.05" fill="#000"/>
<circle cx="74.68" cy="389.49" r="1.05" fill="#000"/>
<circle cx="78.53" cy="389.49" r="1.05" fill="#000"/>
<circle cx="100.32" cy="389.49" r="1.05" fill="#000"/>
<circle cx="97.75" cy="389.49" r="1.05" fill="#000"/>
<circle cx="99.04" cy="389.49" r="1.05" fill="#000"/>
<circle cx="113.14" cy="389.49" r="1.05" fill="#000"/>
<circle cx="114.42" cy="389.49" r="1.05" fill="#000"/>
<circle cx="118.26" cy="389.49" r="1.05" fill="#000"/>
<circle cx="131.08" cy="389.49" r="1.05" fill="#000"/>
<circle cx="132.36" cy="389.49" r="1.05" fill="#000"/>
<circle cx="134.93" cy="389.49" r="1.05" fill="#000"/>
<circle cx="151.59" cy="389.49" r="1.05" fill="#000"/>
<circle cx="154.15" cy="389.49" r="1.05" fill="#000"/>
<circle cx="149.03" cy="389.49" r="1.05" fill="#000"/>
<circle cx="60.58" cy="392.09" r="1.05" fill="#000"/>
<circle cx="63.15" cy="392.09" r="1.05" fill="#000"/>
<circle cx="64.43" cy="392.09" r="1.05" fill="#000"/>
<circle cx="65.71" cy="392.09" r="1.05" fill="#000"/>
<circle cx="74.68" cy="392.09" r="1.05" fill="#000"/>
<circle cx="75.96" cy="392.09" r="1.05" fill="#000"/>
<circle cx="78.53" cy="392.09" r="1.05" fill="#000"/>
<circle cx="101.6" cy="392.09" r="1.05" fill="#000"/>
<circle cx="96.47" cy="392.09" r="1.05" fill="#000"/>
<circle cx="97.75" cy="392.09" r="1.05" fill="#000"/>
<circle cx="113.14" cy="392.09" r="1.05" fill="#000"/>
<circle cx="115.7" cy="392.09" r="1.05" fill="#000"/>
<circle cx="131.08" cy="392.09" r="1.05" fill="#000"/>
<circle cx="132.36" cy="392.09" r="1.05" fill="#000"/>
<circle cx="134.93" cy="392.09" r="1.05" fill="#000"/>
<circle cx="136.21" cy="392.09" r="1.05" fill="#000"/>
<circle cx="151.59" cy="392.09" r="1.05" fill="#000"/>
<circle cx="152.87" cy="392.09" r="1.05" fill="#000"/>
<circle cx="59.3" cy="394.68" r="1.05" fill="#000"/>
<circle cx="65.71" cy="394.68" r="1.05" fill="#000"/>
<circle cx="68.27" cy="394.68" r="1.05" fill="#000"/>
<circle cx="79.81" cy="394.68" r="1.05" fill="#000"/>
<circle cx="75.96" cy="394.68" r="1.05" fill="#000"/>
<circle cx="78.53" cy="394.68" r="1.05" fill="#000"/>
<circle cx="91.34" cy="394.68" r="1.05" fill="#000"/>
<circle cx="96.47" cy="394.68" r="1.05" fill="#000"/>
<circle cx="115.7" cy="394.68" r="1.05" fill="#000"/>
<circle cx="116.98" cy="394.68" r="1.05" fill="#000"/>
<circle cx="119.54" cy="394.68" r="1.05" fill="#000"/>
<circle cx="131.08" cy="394.68" r="1.05" fill="#000"/>
<circle cx="133.64" cy="394.68" r="1.05" fill="#000"/>
<circle cx="134.93" cy="394.68" r="1.05" fill="#000"/>
<circle cx="152.87" cy="394.68" r="1.05" fill="#000"/>
<circle cx="154.15" cy="394.68" r="1.05" fill="#000"/>
<circle cx="150.31" cy="394.68" r="1.05" fill="#000"/>
<circle cx="65.71" cy="397.27" r="1.05" fill="#000"/>
<circle cx="66.99" cy="397.27" r="1.05" fill="#000"/>
<circle cx="79.81" cy="397.27" r="1.05" fill="#000"/>
<circle cx="84.94" cy="397.27" r="1.05" fill="#000"/>
<circle cx="77.25" cy="397.27" r="1.05" fill="#000"/>
<circle cx="93.91" cy="397.27" r="1.05" fill="#000"/>
<circle cx="97.75" cy="397.27" r="1.05" fill="#000"/>
<circle cx="99.04" cy="397.27" r="1.05" fill="#000"/>
<circle cx="114.42" cy="397.27" r="1.05" fill="#000"/>
<circle cx="115.7" cy="397.27" r="1.05" fill="#000"/>
<circle cx="118.26" cy="397.27" r="1.05" fill="#000"/>
<circle cx="134.93" cy="397.27" r="1.05" fill="#000"/>
<circle cx="136.21" cy="397.27" r="1.05" fill="#000"/>
<circle cx="137.49" cy="397.27" r="1.05" fill="#000"/>
<circle cx="152.87" cy="397.27" r="1.05" fill="#000"/>
<circle cx="154.15" cy="397.27" r="1.05" fill="#000"/>
<circle cx="149.03" cy="397.27" r="1.05" fill="#000"/>
<circle cx="61.86" cy="399.87" r="1.05" fill="#000"/>
<circle cx="63.15" cy="399.87" r="1.05" fill="#000"/>
<circle cx="64.43" cy="399.87" r="1.05" fill="#000"/>
<circle cx="79.81" cy="399.87" r="1.05" fill="#000"/>
<circle cx="74.68" cy="399.87" r="1.05" fill="#000"/>
<circle cx="77.25" cy="399.87" r="1.05" fill="#000"/>
<circle cx="78.53" cy="399.87" r="1.05" fill="#000"/>
<circle cx="95.19" cy="399.87" r="1.05" fill="#000"/>
<circle cx="96.47" cy="399.87" r="1.05" fill="#000"/>
<circle cx="97.75" cy="399.87" r="1.05" fill="#000"/>
<circle cx="115.7" cy="399.87" r="1.05" fill="#000"/>
<circle cx="116.98" cy="399.87" r="1.05" fill="#000"/>
<circle cx="109.29" cy="399.87" r="1.05" fill="#000"/>
<circle cx="132.36" cy="399.87" r="1.05" fill="#000"/>
<circle cx="133.64" cy="399.87" r="1.05" fill="#000"/>
<circle cx="151.59" cy="399.87" r="1.05" fill="#000"/>
<circle cx="61.86" cy="402.46" r="1.05" fill="#000"/>
<circle cx="63.15" cy="402.46" r="1.05" fill="#000"/>
<circle cx="66.99" cy="402.46" r="1.05" fill="#000"/>
<circle cx="83.65" cy="402.46" r="1.05" fill="#000"/>
<circle cx="84.94" cy="402.46" r="1.05" fill="#000"/>
<circle cx="75.96" cy="402.46" r="1.05" fill="#000"/>
<circle cx="78.53" cy="402.46" r="1.05" fill="#000"/>
<circle cx="100.32" cy="402.46" r="1.05" fill="#000"/>
<circle cx="93.91" cy="402.46" r="1.05" fill="#000"/>
<circle cx="96.47" cy="402.46" r="1.05" fill="#000"/>
<circle cx="114.42" cy="402.46" r="1.05" fill="#000"/>
<circle cx="116.98" cy="402.46" r="1.05" fill="#000"/>
<circle cx="134.93" cy="402.46" r="1.05" fill="#000"/>
<circle cx="136.21" cy="402.46" r="1.05" fill="#000"/>
<circle cx="151.59" cy="402.46" r="1.05" fill="#000"/>
<circle cx="154.15" cy="402.46" r="1.05" fill="#000"/>
<circle cx="149.03" cy="402.46" r="1.05" fill="#000"/>
<circle cx="60.58" cy="405.05" r="1.05" fill="#000"/>
<circle cx="63.15" cy="405.05" r="1.05" fill="#000"/>
<circle cx="79.81" cy="405.05" r="1.05" fill="#000"/>
<circle cx="77.25" cy="405.05" r="1.05" fill="#000"/>
<circle cx="78.53" cy="405.05" r="1.05" fill="#000"/>
<circle cx="90.06" cy="405.05" r="1.05" fill="#000"/>
<circle cx="95.19" cy="405.05" r="1.05" fill="#000"/>
<circle cx="96.47" cy="405.05" r="1.05" fill="#000"/>
<circle cx="114.42" cy="405.05" r="1.05" fill="#000"/>
<circle cx="115.7" cy="405.05" r="1.05" fill="#000"/>
<circle cx="118.26" cy="405.05" r="1.05" fill="#000"/>
<circle cx="134.93" cy="405.05" r="1.05" fill="#000"/>
<circle cx="151.59" cy="405.05" r="1.05" fill="#000"/>
<circle cx="149.03" cy="405.05" r="1.05" fill="#000"/>
<circle cx="150.31" cy="405.05" r="1.05" fill="#000"/>
<circle cx="59.3" cy="407.65" r="1.05" fill="#000"/>
<circle cx="64.43" cy="407.65" r="1.05" fill="#000"/>
<circle cx="79.81" cy="407.65" r="1.05" fill="#000"/>
<circle cx="82.37" cy="407.65" r="1.05" fill="#000"/>
<circle cx="75.96" cy="407.65" r="1.05" fill="#000"/>
<circle cx="93.91" cy="407.65" r="1.05" fill="#000"/>
<circle cx="95.19" cy="407.65" r="1.05" fill="#000"/>
<circle cx="99.04" cy="407.65" r="1.05" fill="#000"/>
<circle cx="114.42" cy="407.65" r="1.05" fill="#000"/>
<circle cx="115.7" cy="407.65" r="1.05" fill="#000"/>
<circle cx="116.98" cy="407.65" r="1.05" fill="#000"/>
<circle cx="131.08" cy="407.65" r="1.05" fill="#000"/>
<circle cx="134.93" cy="407.65" r="1.05" fill="#000"/>
<circle cx="137.49" cy="407.65" r="1.05" fill="#000"/>
<circle cx="151.59" cy="407.65" r="1.05" fill="#000"/>
<circle cx="149.03" cy="407.65" r="1.05" fill="#000"/>
<circle cx="63.15" cy="410.24" r="1.05" fill="#000"/>
<circle cx="64.43" cy="410.24" r="1.05" fill="#000"/>
<circle cx="65.71" cy="410.24" r="1.05" fill="#000"/>
<circle cx="79.81" cy="410.24" r="1.05" fill="#000"/>
<circle cx="81.09" cy="410.24" r="1.05" fill="#000"/>
<circle cx="82.37" cy="410.24" r="1.05" fill="#000"/>
<circle cx="84.94" cy="410.24" r="1.05" fill="#000"/>
<circle cx="100.32" cy="410.24" r="1.05" fill="#000"/>
<circle cx="95.19" cy="410.24" r="1.05" fill="#000"/>
<circle cx="96.47" cy="410.24" r="1.05" fill="#000"/>
<circle cx="111.85" cy="410.24" r="1.05" fill="#000"/>
<circle cx="113.14" cy="410.24" r="1.05" fill="#000"/>
<circle cx="115.7" cy="410.24" r="1.05" fill="#000"/>
<circle cx="132.36" cy="410.24" r="1.05" fill="#000"/>
<circle cx="133.64" cy="410.24" r="1.05" fill="#000"/>
<circle cx="136.21" cy="410.24" r="1.05" fill="#000"/>
<circle cx="140.05" cy="410.24" r="1.05" fill="#000"/>
<circle cx="151.59" cy="410.24" r="1.05" fill="#000"/>
<circle cx="152.87" cy="410.24" r="1.05" fill="#000"/>
<circle cx="147.74" cy="410.24" r="1.05" fill="#000"/>
<circle cx="150.31" cy="410.24" r="1.05" fill="#000"/>
<circle cx="60.58" cy="412.83" r="1.05" fill="#000"/>
<circle cx="64.43" cy="412.83" r="1.05" fill="#000"/>
<circle cx="79.81" cy="412.83" r="1.05" fill="#000"/>
<circle cx="78.53" cy="412.83" r="1.05" fill="#000"/>
<circle cx="96.47" cy="412.83" r="1.05" fill="#000"/>
<circle cx="99.04" cy="412.83" r="1.05" fill="#000"/>
<circle cx="120.83" cy="412.83" r="1.05" fill="#000"/>
<circle cx="118.26" cy="412.83" r="1.05" fill="#000"/>
<circle cx="132.36" cy="412.83" r="1.05" fill="#000"/>
<circle cx="151.59" cy="412.83" r="1.05" fill="#000"/>
<circle cx="150.31" cy="412.83" r="1.05" fill="#000"/>
<circle cx="60.58" cy="415.43" r="1.05" fill="#000"/>
<circle cx="61.86" cy="415.43" r="1.05" fill="#000"/>
<circle cx="63.15" cy="415.43" r="1.05" fill="#000"/>
<circle cx="79.81" cy="415.43" r="1.05" fill="#000"/>
<circle cx="82.37" cy="415.43" r="1.05" fill="#000"/>
<circle cx="77.25" cy="415.43" r="1.05" fill="#000"/>
<circle cx="100.32" cy="415.43" r="1.05" fill="#000"/>
<circle cx="96.47" cy="415.43" r="1.05" fill="#000"/>
<circle cx="97.75" cy="415.43" r="1.05" fill="#000"/>
<circle cx="120.83" cy="415.43" r="1.05" fill="#000"/>
<circle cx="115.7" cy="415.43" r="1.05" fill="#000"/>
<circle cx="116.98" cy="415.43" r="1.05" fill="#000"/>
<circle cx="131.08" cy="415.43" r="1.05" fill="#000"/>
<circle cx="136.21" cy="415.43" r="1.05" fill="#000"/>
<circle cx="151.59" cy="415.43" r="1.05" fill="#000"/>
<circle cx="154.15" cy="415.43" r="1.05" fill="#000"/>
<circle cx="145.18" cy="415.43" r="1.05" fill="#000"/>
<circle cx="61.86" cy="418.02" r="1.05" fill="#000"/>
<circle cx="81.09" cy="418.02" r="1.05" fill="#000"/>
<circle cx="78.53" cy="418.02" r="1.05" fill="#000"/>
<circle cx="100.32" cy="418.02" r="1.05" fill="#000"/>
<circle cx="96.47" cy="418.02" r="1.05" fill="#000"/>
<circle cx="87.5" cy="418.02" r="1.05" fill="#000"/>
<circle cx="99.04" cy="418.02" r="1.05" fill="#000"/>
<circle cx="120.83" cy="418.02" r="1.05" fill="#000"/>
<circle cx="115.7" cy="418.02" r="1.05" fill="#000"/>
<circle cx="119.54" cy="418.02" r="1.05" fill="#000"/>
<circle cx="132.36" cy="418.02" r="1.05" fill="#000"/>
<circle cx="136.21" cy="418.02" r="1.05" fill="#000"/>
<circle cx="137.49" cy="418.02" r="1.05" fill="#000"/>
<circle cx="140.05" cy="418.02" r="1.05" fill="#000"/>
<circle cx="151.59" cy="418.02" r="1.05" fill="#000"/>
<circle cx="152.87" cy="418.02" r="1.05" fill="#000"/>
<circle cx="145.18" cy="418.02" r="1.05" fill="#000"/>
<circle cx="147.74" cy="418.02" r="1.05" fill="#000"/>
<circle cx="63.15" cy="420.61" r="1.05" fill="#000"/>
<circle cx="65.71" cy="420.61" r="1.05" fill="#000"/>
<circle cx="66.99" cy="420.61" r="1.05" fill="#000"/>
<circle cx="79.81" cy="420.61" r="1.05" fill="#000"/>
<circle cx="83.65" cy="420.61" r="1.05" fill="#000"/>
<circle cx="86.22" cy="420.61" r="1.05" fill="#000"/>
<circle cx="102.88" cy="420.61" r="1.05" fill="#000"/>
<circle cx="95.19" cy="420.61" r="1.05" fill="#000"/>
<circle cx="96.47" cy="420.61" r="1.05" fill="#000"/>
<circle cx="115.7" cy="420.61" r="1.05" fill="#000"/>
<circle cx="116.98" cy="420.61" r="1.05" fill="#000"/>
<circle cx="119.54" cy="420.61" r="1.05" fill="#000"/>
<circle cx="132.36" cy="420.61" r="1.05" fill="#000"/>
<circle cx="133.64" cy="420.61" r="1.05" fill="#000"/>
<circle cx="136.21" cy="420.61" r="1.05" fill="#000"/>
<circle cx="140.05" cy="420.61" r="1.05" fill="#000"/>
<circle cx="151.59" cy="420.61" r="1.05" fill="#000"/>
<circle cx="150.31" cy="420.61" r="1.05" fill="#000"/>
<circle cx="60.58" cy="423.21" r="1.05" fill="#000"/>
<circle cx="79.81" cy="423.21" r="1.05" fill="#000"/>
<circle cx="81.09" cy="423.21" r="1.05" fill="#000"/>
<circle cx="73.4" cy="423.21" r="1.05" fill="#000"/>
<circle cx="77.25" cy="423.21" r="1.05" fill="#000"/>
<circle cx="95.19" cy="423.21" r="1.05" fill="#000"/>
<circle cx="96.47" cy="423.21" r="1.05" fill="#000"/>
<circle cx="97.75" cy="423.21" r="1.05" fill="#000"/>
<circle cx="99.04" cy="423.21" r="1.05" fill="#000"/>
<circle cx="113.14" cy="423.21" r="1.05" fill="#000"/>
<circle cx="116.98" cy="423.21" r="1.05" fill="#000"/>
<circle cx="131.08" cy="423.21" r="1.05" fill="#000"/>
<circle cx="133.64" cy="423.21" r="1.05" fill="#000"/>
<circle cx="129.8" cy="423.21" r="1.05" fill="#000"/>
<circle cx="151.59" cy="423.21" r="1.05" fill="#000"/>
<circle cx="150.31" cy="423.21" r="1.05" fill="#000"/>
<circle cx="61.86" cy="425.8" r="1.05" fill="#000"/>
<circle cx="63.15" cy="425.8" r="1.05" fill="#000"/>
<circle cx="65.71" cy="425.8" r="1.05" fill="#000"/>
<circle cx="66.99" cy="425.8" r="1.05" fill="#000"/>
<circle cx="75.96" cy="425.8" r="1.05" fill="#000"/>
<circle cx="78.53" cy="425.8" r="1.05" fill="#000"/>
<circle cx="102.88" cy="425.8" r="1.05" fill="#000"/>
<circle cx="93.91" cy="425.8" r="1.05" fill="#000"/>
<circle cx="96.47" cy="425.8" r="1.05" fill="#000"/>
<circle cx="97.75" cy="425.8" r="1.05" fill="#000"/>
<circle cx="120.83" cy="425.8" r="1.05" fill="#000"/>
<circle cx="116.98" cy="425.8" r="1.05" fill="#000"/>
<circle cx="118.26" cy="425.8" r="1.05" fill="#000"/>
<circle cx="133.64" cy="425.8" r="1.05" fill="#000"/>
<circle cx="136.21" cy="425.8" r="1.05" fill="#000"/>
<circle cx="137.49" cy="425.8" r="1.05" fill="#000"/>
<circle cx="128.52" cy="425.8" r="1.05" fill="#000"/>
<circle cx="151.59" cy="425.8" r="1.05" fill="#000"/>
<circle cx="147.74" cy="425.8" r="1.05" fill="#000"/>
<circle cx="149.03" cy="425.8" r="1.05" fill="#000"/>
<circle cx="60.58" cy="428.39" r="1.05" fill="#000"/>
<circle cx="61.86" cy="428.39" r="1.05" fill="#000"/>
<circle cx="63.15" cy="428.39" r="1.05" fill="#000"/>
<circle cx="79.81" cy="428.39" r="1.05" fill="#000"/>
<circle cx="81.09" cy="428.39" r="1.05" fill="#000"/>
<circle cx="82.37" cy="428.39" r="1.05" fill="#000"/>
<circle cx="96.47" cy="428.39" r="1.05" fill="#000"/>
<circle cx="99.04" cy="428.39" r="1.05" fill="#000"/>
<circle cx="111.85" cy="428.39" r="1.05" fill="#000"/>
<circle cx="115.7" cy="428.39" r="1.05" fill="#000"/>
<circle cx="119.54" cy="428.39" r="1.05" fill="#000"/>
<circle cx="131.08" cy="428.39" r="1.05" fill="#000"/>
<circle cx="132.36" cy="428.39" r="1.05" fill="#000"/>
<circle cx="134.93" cy="428.39" r="1.05" fill="#000"/>
<circle cx="152.87" cy="428.39" r="1.05" fill="#000"/>
<circle cx="146.46" cy="428.39" r="1.05" fill="#000"/>
<circle cx="149.03" cy="428.39" r="1.05" fill="#000"/>
<circle cx="59.3" cy="430.99" r="1.05" fill="#000"/>
<circle cx="60.58" cy="430.99" r="1.05" fill="#000"/>
<circle cx="64.43" cy="430.99" r="1.05" fill="#000"/>
<circle cx="73.4" cy="430.99" r="1.05" fill="#000"/>
<circle cx="74.68" cy="430.99" r="1.05" fill="#000"/>
<circle cx="77.25" cy="430.99" r="1.05" fill="#000"/>
<circle cx="100.32" cy="430.99" r="1.05" fill="#000"/>
<circle cx="92.63" cy="430.99" r="1.05" fill="#000"/>
<circle cx="95.19" cy="430.99" r="1.05" fill="#000"/>
<circle cx="113.14" cy="430.99" r="1.05" fill="#000"/>
<circle cx="114.42" cy="430.99" r="1.05" fill="#000"/>
<circle cx="118.26" cy="430.99" r="1.05" fill="#000"/>
<circle cx="132.36" cy="430.99" r="1.05" fill="#000"/>
<circle cx="134.93" cy="430.99" r="1.05" fill="#000"/>
<circle cx="140.05" cy="430.99" r="1.05" fill="#000"/>
<circle cx="151.59" cy="430.99" r="1.05" fill="#000"/>
<circle cx="152.87" cy="430.99" r="1.05" fill="#000"/>
<circle cx="60.58" cy="433.58" r="1.05" fill="#000"/>
<circle cx="64.43" cy="433.58" r="1.05" fill="#000"/>
<circle cx="81.09" cy="433.58" r="1.05" fill="#000"/>
<circle cx="74.68" cy="433.58" r="1.05" fill="#000"/>
<circle cx="77.25" cy="433.58" r="1.05" fill="#000"/>
<circle cx="78.53" cy="433.58" r="1.05" fill="#000"/>
<circle cx="93.91" cy="433.58" r="1.05" fill="#000"/>
<circle cx="99.04" cy="433.58" r="1.05" fill="#000"/>
<circle cx="118.26" cy="433.58" r="1.05" fill="#000"/>
<circle cx="119.54" cy="433.58" r="1.05" fill="#000"/>
<circle cx="133.64" cy="433.58" r="1.05" fill="#000"/>
<circle cx="134.93" cy="433.58" r="1.05" fill="#000"/>
<circle cx="129.8" cy="433.58" r="1.05" fill="#000"/>
<circle cx="151.59" cy="433.58" r="1.05" fill="#000"/>
<circle cx="59.3" cy="436.17" r="1.05" fill="#000"/>
<circle cx="61.86" cy="436.17" r="1.05" fill="#000"/>
<circle cx="63.15" cy="436.17" r="1.05" fill="#000"/>
<circle cx="79.81" cy="436.17" r="1.05" fill="#000"/>
<circle cx="77.25" cy="436.17" r="1.05" fill="#000"/>
<circle cx="100.32" cy="436.17" r="1.05" fill="#000"/>
<circle cx="102.88" cy="436.17" r="1.05" fill="#000"/>
<circle cx="92.63" cy="436.17" r="1.05" fill="#000"/>
<circle cx="99.04" cy="436.17" r="1.05" fill="#000"/>
<circle cx="113.14" cy="436.17" r="1.05" fill="#000"/>
<circle cx="116.98" cy="436.17" r="1.05" fill="#000"/>
<circle cx="131.08" cy="436.17" r="1.05" fill="#000"/>
<circle cx="136.21" cy="436.17" r="1.05" fill="#000"/>
<circle cx="138.77" cy="436.17" r="1.05" fill="#000"/>
<circle cx="151.59" cy="436.17" r="1.05" fill="#000"/>
<circle cx="152.87" cy="436.17" r="1.05" fill="#000"/>
<circle cx="154.15" cy="436.17" r="1.05" fill="#000"/>
<circle cx="60.58" cy="438.77" r="1.05" fill="#000"/>
<circle cx="63.15" cy="438.77" r="1.05" fill="#000"/>
<circle cx="64.43" cy="438.77" r="1.05" fill="#000"/>
<circle cx="79.81" cy="438.77" r="1.05" fill="#000"/>
<circle cx="81.09" cy="438.77" r="1.05" fill="#000"/>
<circle cx="78.53" cy="438.77" r="1.05" fill="#000"/>
<circle cx="93.91" cy="438.77" r="1.05" fill="#000"/>
<circle cx="95.19" cy="438.77" r="1.05" fill="#000"/>
<circle cx="96.47" cy="438.77" r="1.05" fill="#000"/>
<circle cx="115.7" cy="438.77" r="1.05" fill="#000"/>
<circle cx="116.98" cy="438.77" r="1.05" fill="#000"/>
<circle cx="132.36" cy="438.77" r="1.05" fill="#000"/>
<circle cx="136.21" cy="438.77" r="1.05" fill="#000"/>
<circle cx="151.59" cy="438.77" r="1.05" fill="#000"/>
<circle cx="149.03" cy="438.77" r="1.05" fill="#000"/>
<circle cx="150.31" cy="438.77" r="1.05" fill="#000"/>
<circle cx="61.86" cy="441.36" r="1.05" fill="#000"/>
<circle cx="63.15" cy="441.36" r="1.05" fill="#000"/>
<circle cx="81.09" cy="441.36" r="1.05" fill="#000"/>
<circle cx="83.65" cy="441.36" r="1.05" fill="#000"/>
<circle cx="78.53" cy="441.36" r="1.05" fill="#000"/>
<circle cx="100.32" cy="441.36" r="1.05" fill="#000"/>
<circle cx="95.19" cy="441.36" r="1.05" fill="#000"/>
<circle cx="97.75" cy="441.36" r="1.05" fill="#000"/>
<circle cx="113.14" cy="441.36" r="1.05" fill="#000"/>
<circle cx="115.7" cy="441.36" r="1.05" fill="#000"/>
<circle cx="116.98" cy="441.36" r="1.05" fill="#000"/>
<circle cx="132.36" cy="441.36" r="1.05" fill="#000"/>
<circle cx="134.93" cy="441.36" r="1.05" fill="#000"/>
<circle cx="129.8" cy="441.36" r="1.05" fill="#000"/>
<circle cx="151.59" cy="441.36" r="1.05" fill="#000"/>
<circle cx="152.87" cy="441.36" r="1.05" fill="#000"/>
<circle cx="147.74" cy="441.36" r="1.05" fill="#000"/>
<circle cx="61.86" cy="443.95" r="1.05" fill="#000"/>
<circle cx="63.15" cy="443.95" r="1.05" fill="#000"/>
<circle cx="83.65" cy="443.95" r="1.05" fill="#000"/>
<circle cx="75.96" cy="443.95" r="1.05" fill="#000"/>
<circle cx="78.53" cy="443.95" r="1.05" fill="#000"/>
<circle cx="92.63" cy="443.95" r="1.05" fill="#000"/>
<circle cx="93.91" cy="443.95" r="1.05" fill="#000"/>
<circle cx="95.19" cy="443.95" r="1.05" fill="#000"/>
<circle cx="88.78" cy="443.95" r="1.05" fill="#000"/>
<circle cx="111.85" cy="443.95" r="1.05" fill="#000"/>
<circle cx="114.42" cy="443.95" r="1.05" fill="#000"/>
<circle cx="128.52" cy="443.95" r="1.05" fill="#000"/>
<circle cx="138.77" cy="443.95" r="1.05" fill="#000"/>
<circle cx="129.8" cy="443.95" r="1.05" fill="#000"/>
<circle cx="147.74" cy="443.95" r="1.05" fill="#000"/>
<circle cx="149.03" cy="443.95" r="1.05" fill="#000"/>
<circle cx="150.31" cy="443.95" r="1.05" fill="#000"/>
<circle cx="59.3" cy="446.55" r="1.05" fill="#000"/>
<circle cx="61.86" cy="446.55" r="1.05" fill="#000"/>
<circle cx="63.15" cy="446.55" r="1.05" fill="#000"/>
<circle cx="75.96" cy="446.55" r="1.05" fill="#000"/>
<circle cx="77.25" cy="446.55" r="1.05" fill="#000"/>
<circle cx="78.53" cy="446.55" r="1.05" fill="#000"/>
<circle cx="101.6" cy="446.55" r="1.05" fill="#000"/>
<circle cx="102.88" cy="446.55" r="1.05" fill="#000"/>
<circle cx="97.75" cy="446.55" r="1.05" fill="#000"/>
<circle cx="113.14" cy="446.55" r="1.05" fill="#000"/>
<circle cx="115.7" cy="446.55" r="1.05" fill="#000"/>
<circle cx="116.98" cy="446.55" r="1.05" fill="#000"/>
<circle cx="133.64" cy="446.55" r="1.05" fill="#000"/>
<circle cx="134.93" cy="446.55" r="1.05" fill="#000"/>
<circle cx="140.05" cy="446.55" r="1.05" fill="#000"/>
<circle cx="151.59" cy="446.55" r="1.05" fill="#000"/>
<circle cx="149.03" cy="446.55" r="1.05" fill="#000"/>
<circle cx="150.31" cy="446.55" r="1.05" fill="#000"/>
<circle cx="61.86" cy="449.14" r="1.05" fill="#000"/>
<circle cx="63.15" cy="449.14" r="1.05" fill="#000"/>
<circle cx="66.99" cy="449.14" r="1.05" fill="#000"/>
<circle cx="82.37" cy="449.14" r="1.05" fill="#000"/>
<circle cx="83.65" cy="449.14" r="1.05" fill="#000"/>
<circle cx="78.53" cy="449.14" r="1.05" fill="#000"/>
<circle cx="95.19" cy="449.14" r="1.05" fill="#000"/>
<circle cx="96.47" cy="449.14" r="1.05" fill="#000"/>
<circle cx="116.98" cy="449.14" r="1.05" fill="#000"/>
<circle cx="118.26" cy="449.14" r="1.05" fill="#000"/>
<circle cx="133.64" cy="449.14" r="1.05" fill="#000"/>
<circle cx="136.21" cy="449.14" r="1.05" fill="#000"/>
<circle cx="137.49" cy="449.14" r="1.05" fill="#000"/>
<circle cx="129.8" cy="449.14" r="1.05" fill="#000"/>
<circle cx="151.59" cy="449.14" r="1.05" fill="#000"/>
<circle cx="152.87" cy="449.14" r="1.05" fill="#000"/>
<circle cx="150.31" cy="449.14" r="1.05" fill="#000"/>
<circle cx="63.15" cy="451.73" r="1.05" fill="#000"/>
<circle cx="65.71" cy="451.73" r="1.05" fill="#000"/>
<circle cx="66.99" cy="451.73" r="1.05" fill="#000"/>
<circle cx="82.37" cy="451.73" r="1.05" fill="#000"/>
<circle cx="74.68" cy="451.73" r="1.05" fill="#000"/>
<circle cx="78.53" cy="451.73" r="1.05" fill="#000"/>
<circle cx="95.19" cy="451.73" r="1.05" fill="#000"/>
<circle cx="96.47" cy="451.73" r="1.05" fill="#000"/>
<circle cx="99.04" cy="451.73" r="1.05" fill="#000"/>
<circle cx="111.85" cy="451.73" r="1.05" fill="#000"/>
<circle cx="115.7" cy="451.73" r="1.05" fill="#000"/>
<circle cx="116.98" cy="451.73" r="1.05" fill="#000"/>
<circle cx="134.93" cy="451.73" r="1.05" fill="#000"/>
<circle cx="136.21" cy="451.73" r="1.05" fill="#000"/>
<circle cx="137.49" cy="451.73" r="1.05" fill="#000"/>
<circle cx="150.31" cy="451.73" r="1.05" fill="#000"/>
<circle cx="61.86" cy="454.33" r="1.05" fill="#000"/>
<circle cx="63.15" cy="454.33" r="1.05" fill="#000"/>
<circle cx="77.25" cy="454.33" r="1.05" fill="#000"/>
<circle cx="95.19" cy="454.33" r="1.05" fill="#000"/>
<circle cx="96.47" cy="454.33" r="1.05" fill="#000"/>
<circle cx="113.14" cy="454.33" r="1.05" fill="#000"/>
<circle cx="116.98" cy="454.33" r="1.05" fill="#000"/>
<circle cx="118.26" cy="454.33" r="1.05" fill="#000"/>
<circle cx="136.21" cy="454.33" r="1.05" fill="#000"/>
<circle cx="129.8" cy="454.33" r="1.05" fill="#000"/>
<circle cx="151.59" cy="454.33" r="1.05" fill="#000"/>
<circle cx="145.18" cy="454.33" r="1.05" fill="#000"/>
<circle cx="146.46" cy="454.33" r="1.05" fill="#000"/>
<circle cx="149.03" cy="454.33" r="1.05" fill="#000"/>
<circle cx="60.58" cy="456.92" r="1.05" fill="#000"/>
<circle cx="63.15" cy="456.92" r="1.05" fill="#000"/>
<circle cx="66.99" cy="456.92" r="1.05" fill="#000"/>
<circle cx="75.96" cy="456.92" r="1.05" fill="#000"/>
<circle cx="77.25" cy="456.92" r="1.05" fill="#000"/>
<circle cx="93.91" cy="456.92" r="1.05" fill="#000"/>
<circle cx="97.75" cy="456.92" r="1.05" fill="#000"/>
<circle cx="120.83" cy="456.92" r="1.05" fill="#000"/>
<circle cx="114.42" cy="456.92" r="1.05" fill="#000"/>
<circle cx="116.98" cy="456.92" r="1.05" fill="#000"/>
<circle cx="133.64" cy="456.92" r="1.05" fill="#000"/>
<circle cx="134.93" cy="456.92" r="1.05" fill="#000"/>
<circle cx="136.21" cy="456.92" r="1.05" fill="#000"/>
<circle cx="152.87" cy="456.92" r="1.05" fill="#000"/>
<circle cx="147.74" cy="456.92" r="1.05" fill="#000"/>
<circle cx="150.31" cy="456.92" r="1.05" fill="#000"/>
<circle cx="61.86" cy="459.51" r="1.05" fill="#000"/>
<circle cx="63.15" cy="459.51" r="1.05" fill="#000"/>
<circle cx="79.81" cy="459.51" r="1.05" fill="#000"/>
<circle cx="74.68" cy="459.51" r="1.05" fill="#000"/>
<circle cx="100.32" cy="459.51" r="1.05" fill="#000"/>
<circle cx="95.19" cy="459.51" r="1.05" fill="#000"/>
<circle cx="96.47" cy="459.51" r="1.05" fill="#000"/>
<circle cx="114.42" cy="459.51" r="1.05" fill="#000"/>
<circle cx="115.7" cy="459.51" r="1.05" fill="#000"/>
<circle cx="118.26" cy="459.51" r="1.05" fill="#000"/>
<circle cx="132.36" cy="459.51" r="1.05" fill="#000"/>
<circle cx="133.64" cy="459.51" r="1.05" fill="#000"/>
<circle cx="136.21" cy="459.51" r="1.05" fill="#000"/>
<circle cx="129.8" cy="459.51" r="1.05" fill="#000"/>
<circle cx="146.46" cy="459.51" r="1.05" fill="#000"/>
<circle cx="149.03" cy="459.51" r="1.05" fill="#000"/>
<circle cx="150.31" cy="459.51" r="1.05" fill="#000"/>
<circle cx="60.58" cy="462.11" r="1.05" fill="#000"/>
<circle cx="61.86" cy="462.11" r="1.05" fill="#000"/>
<circle cx="64.43" cy="462.11" r="1.05" fill="#000"/>
<circle cx="65.71" cy="462.11" r="1.05" fill="#000"/>
<circle cx="79.81" cy="462.11" r="1.05" fill="#000"/>
<circle cx="83.65" cy="462.11" r="1.05" fill="#000"/>
<circle cx="78.53" cy="462.11" r="1.05" fill="#000"/>
<circle cx="100.32" cy="462.11" r="1.05" fill="#000"/>
<circle cx="96.47" cy="462.11" r="1.05" fill="#000"/>
<circle cx="97.75" cy="462.11" r="1.05" fill="#000"/>
<circle cx="114.42" cy="462.11" r="1.05" fill="#000"/>
<circle cx="115.7" cy="462.11" r="1.05" fill="#000"/>
<circle cx="116.98" cy="462.11" r="1.05" fill="#000"/>
<circle cx="136.21" cy="462.11" r="1.05" fill="#000"/>
<circle cx="137.49" cy="462.11" r="1.05" fill="#000"/>
<circle cx="151.59" cy="462.11" r="1.05" fill="#000"/>
<circle cx="152.87" cy="462.11" r="1.05" fill="#000"/>
<circle cx="154.15" cy="462.11" r="1.05" fill="#000"/>
<circle cx="59.3" cy="464.7" r="1.05" fill="#000"/>
<circle cx="60.58" cy="464.7" r="1.05" fill="#000"/>
<circle cx="64.43" cy="464.7" r="1.05" fill="#000"/>
<circle cx="65.71" cy="464.7" r="1.05" fill="#000"/>
<circle cx="82.37" cy="464.7" r="1.05" fill="#000"/>
<circle cx="73.4" cy="464.7" r="1.05" fill="#000"/>
<circle cx="77.25" cy="464.7" r="1.05" fill="#000"/>
<circle cx="78.53" cy="464.7" r="1.05" fill="#000"/>
<circle cx="92.63" cy="464.7" r="1.05" fill="#000"/>
<circle cx="97.75" cy="464.7" r="1.05" fill="#000"/>
<circle cx="99.04" cy="464.7" r="1.05" fill="#000"/>
<circle cx="111.85" cy="464.7" r="1.05" fill="#000"/>
<circle cx="118.26" cy="464.7" r="1.05" fill="#000"/>
<circle cx="132.36" cy="464.7" r="1.05" fill="#000"/>
<circle cx="133.64" cy="464.7" r="1.05" fill="#000"/>
<circle cx="129.8" cy="464.7" r="1.05" fill="#000"/>
<circle cx="151.59" cy="464.7" r="1.05" fill="#000"/>
<circle cx="146.46" cy="464.7" r="1.05" fill="#000"/>
<circle cx="149.03" cy="464.7" r="1.05" fill="#000"/>
<path d="M60.2 386.9 V467.4 H155.7" fill="none" stroke="#111" stroke-width="1.6"/>
<line x1="60.2" y1="386.9" x2="61.4" y2="386.9" stroke="#262626" stroke-width="1"/>
<text x="0" y="0" font-size="8.5" text-anchor="end" fill="#262626" transform="translate(55.9 390.75) scale(0.86 1)">0</text>
<line x1="60.2" y1="412.83" x2="61.4" y2="412.83" stroke="#262626" stroke-width="1"/>
<text x="0" y="0" font-size="8.5" text-anchor="end" fill="#262626" transform="translate(55.9 416.68) scale(0.86 1)">10</text>
<line x1="60.2" y1="438.77" x2="61.4" y2="438.77" stroke="#262626" stroke-width="1"/>
<text x="0" y="0" font-size="8.5" text-anchor="end" fill="#262626" transform="translate(55.9 442.62) scale(0.86 1)">20</text>
<line x1="60.2" y1="464.7" x2="61.4" y2="464.7" stroke="#262626" stroke-width="1"/>
<text x="0" y="0" font-size="8.5" text-anchor="end" fill="#262626" transform="translate(55.9 468.55) scale(0.86 1)">30</text>
<line x1="60.2" y1="467.4" x2="60.2" y2="466.2" stroke="#262626" stroke-width="1"/>
<text x="0" y="0" font-size="8.5" text-anchor="middle" fill="#262626" transform="translate(60.2 479.7) scale(0.86 1)">0</text>
<line x1="97.9" y1="467.4" x2="97.9" y2="466.2" stroke="#262626" stroke-width="1"/>
<text x="0" y="0" font-size="8.5" text-anchor="middle" fill="#262626" transform="translate(97.9 479.7) scale(0.86 1)">100</text>
<line x1="135.6" y1="467.4" x2="135.6" y2="466.2" stroke="#262626" stroke-width="1"/>
<text x="0" y="0" font-size="8.5" text-anchor="middle" fill="#262626" transform="translate(135.6 479.7) scale(0.86 1)">200</text>
<text x="106.45" y="491" font-size="8.7" text-anchor="middle" fill="#262626">Time(ms)</text>
<text x="0" y="0" font-size="8.7" text-anchor="middle" fill="#262626" transform="translate(43.4 427.15) rotate(-90)">Neuron No.</text>
<rect x="191.7" y="463.11" width="3.72" height="4.29" fill="#5FA0D2" stroke="#1a1a1a" stroke-width="0.75"/>
<rect x="195.42" y="463.11" width="3.72" height="4.29" fill="#5FA0D2" stroke="#1a1a1a" stroke-width="0.75"/>
<rect x="199.14" y="462.57" width="3.72" height="4.83" fill="#5FA0D2" stroke="#1a1a1a" stroke-width="0.75"/>
<rect x="202.86" y="463.11" width="3.72" height="4.29" fill="#5FA0D2" stroke="#1a1a1a" stroke-width="0.75"/>
<rect x="206.58" y="460.42" width="3.72" height="6.98" fill="#5FA0D2" stroke="#1a1a1a" stroke-width="0.75"/>
<rect x="210.3" y="461.23" width="3.72" height="6.17" fill="#5FA0D2" stroke="#1a1a1a" stroke-width="0.75"/>
<rect x="214.02" y="456.4" width="3.72" height="11" fill="#5FA0D2" stroke="#1a1a1a" stroke-width="0.75"/>
<rect x="217.74" y="458.54" width="3.72" height="8.85" fill="#5FA0D2" stroke="#1a1a1a" stroke-width="0.75"/>
<rect x="221.46" y="458.54" width="3.72" height="8.85" fill="#5FA0D2" stroke="#1a1a1a" stroke-width="0.75"/>
<rect x="225.18" y="462.03" width="3.72" height="5.37" fill="#5FA0D2" stroke="#1a1a1a" stroke-width="0.75"/>
<rect x="228.9" y="464.31" width="3.72" height="3.09" fill="#5FA0D2" stroke="#1a1a1a" stroke-width="0.75"/>
<rect x="232.62" y="463.11" width="3.72" height="4.29" fill="#5FA0D2" stroke="#1a1a1a" stroke-width="0.75"/>
<rect x="236.34" y="464.31" width="3.72" height="3.09" fill="#5FA0D2" stroke="#1a1a1a" stroke-width="0.75"/>
<rect x="240.06" y="466.59" width="3.72" height="0.8" fill="#5FA0D2" stroke="#1a1a1a" stroke-width="0.75"/>
<rect x="243.78" y="466.59" width="3.72" height="0.8" fill="#5FA0D2" stroke="#1a1a1a" stroke-width="0.75"/>
<rect x="247.5" y="466.86" width="3.72" height="0.54" fill="#5FA0D2" stroke="#1a1a1a" stroke-width="0.75"/>
<rect x="251.22" y="467.13" width="3.72" height="0.27" fill="#5FA0D2" stroke="#1a1a1a" stroke-width="0.75"/>
<rect x="254.94" y="466.59" width="3.72" height="0.8" fill="#5FA0D2" stroke="#1a1a1a" stroke-width="0.75"/>
<rect x="258.66" y="467.13" width="3.72" height="0.27" fill="#5FA0D2" stroke="#1a1a1a" stroke-width="0.75"/>
<rect x="262.38" y="466.86" width="3.72" height="0.54" fill="#5FA0D2" stroke="#1a1a1a" stroke-width="0.75"/>
<rect x="191.7" y="408.9" width="3.72" height="58.5" fill="#E67344" fill-opacity="0.68" stroke="#2a1a10" stroke-width="0.75"/>
<rect x="195.42" y="416.82" width="3.72" height="50.58" fill="#E67344" fill-opacity="0.68" stroke="#2a1a10" stroke-width="0.75"/>
<rect x="199.14" y="446.2" width="3.72" height="21.2" fill="#E67344" fill-opacity="0.68" stroke="#2a1a10" stroke-width="0.75"/>
<rect x="202.86" y="447.17" width="3.72" height="20.23" fill="#E67344" fill-opacity="0.68" stroke="#2a1a10" stroke-width="0.75"/>
<rect x="206.58" y="460.42" width="3.72" height="6.98" fill="#E67344" fill-opacity="0.68" stroke="#2a1a10" stroke-width="0.75"/>
<rect x="210.3" y="466.06" width="3.72" height="1.34" fill="#E67344" fill-opacity="0.68" stroke="#2a1a10" stroke-width="0.75"/>
<rect x="214.02" y="466.59" width="3.72" height="0.8" fill="#E67344" fill-opacity="0.68" stroke="#2a1a10" stroke-width="0.75"/>
<rect x="217.74" y="466.86" width="3.72" height="0.54" fill="#E67344" fill-opacity="0.68" stroke="#2a1a10" stroke-width="0.75"/>
<rect x="221.46" y="466.86" width="3.72" height="0.54" fill="#E67344" fill-opacity="0.68" stroke="#2a1a10" stroke-width="0.75"/>
<rect x="225.18" y="467.13" width="3.72" height="0.27" fill="#E67344" fill-opacity="0.68" stroke="#2a1a10" stroke-width="0.75"/>
<rect x="228.9" y="467.13" width="3.72" height="0.27" fill="#E67344" fill-opacity="0.68" stroke="#2a1a10" stroke-width="0.75"/>
<rect x="232.62" y="467.13" width="3.72" height="0.27" fill="#E67344" fill-opacity="0.68" stroke="#2a1a10" stroke-width="0.75"/>
<rect x="240.06" y="466.59" width="3.72" height="0.8" fill="#E67344" fill-opacity="0.68" stroke="#2a1a10" stroke-width="0.75"/>
<rect x="243.78" y="466.59" width="3.72" height="0.8" fill="#E67344" fill-opacity="0.68" stroke="#2a1a10" stroke-width="0.75"/>
<rect x="247.5" y="466.86" width="3.72" height="0.54" fill="#E67344" fill-opacity="0.68" stroke="#2a1a10" stroke-width="0.75"/>
<rect x="251.22" y="467.13" width="3.72" height="0.27" fill="#E67344" fill-opacity="0.68" stroke="#2a1a10" stroke-width="0.75"/>
<rect x="254.94" y="466.59" width="3.72" height="0.8" fill="#E67344" fill-opacity="0.68" stroke="#2a1a10" stroke-width="0.75"/>
<rect x="258.66" y="467.13" width="3.72" height="0.27" fill="#E67344" fill-opacity="0.68" stroke="#2a1a10" stroke-width="0.75"/>
<rect x="262.38" y="466.86" width="3.72" height="0.54" fill="#E67344" fill-opacity="0.68" stroke="#2a1a10" stroke-width="0.75"/>
<rect x="191.5" y="386.9" width="95" height="80.5" fill="none" stroke="#1a1a1a" stroke-width="1.35"/>
<line x1="191.5" y1="467.4" x2="191.5" y2="466.2" stroke="#262626" stroke-width="1"/>
<line x1="191.5" y1="386.9" x2="191.5" y2="388.1" stroke="#262626" stroke-width="1"/>
<text x="0" y="0" font-size="8.5" text-anchor="middle" fill="#262626" transform="translate(191.5 478.5) scale(0.86 1)">0</text>
<line x1="239" y1="467.4" x2="239" y2="466.2" stroke="#262626" stroke-width="1"/>
<line x1="239" y1="386.9" x2="239" y2="388.1" stroke="#262626" stroke-width="1"/>
<text x="0" y="0" font-size="8.5" text-anchor="middle" fill="#262626" transform="translate(239 478.5) scale(0.86 1)">0.2</text>
<line x1="286.5" y1="467.4" x2="286.5" y2="466.2" stroke="#262626" stroke-width="1"/>
<line x1="286.5" y1="386.9" x2="286.5" y2="388.1" stroke="#262626" stroke-width="1"/>
<text x="0" y="0" font-size="8.5" text-anchor="middle" fill="#262626" transform="translate(286.5 478.5) scale(0.86 1)">0.4</text>
<line x1="191.5" y1="467.4" x2="192.7" y2="467.4" stroke="#262626" stroke-width="1"/>
<line x1="286.5" y1="467.4" x2="285.3" y2="467.4" stroke="#262626" stroke-width="1"/>
<text x="0" y="0" font-size="8.5" text-anchor="end" fill="#262626" transform="translate(189.1 470.8) scale(0.86 1)">0</text>
<line x1="191.5" y1="440.57" x2="192.7" y2="440.57" stroke="#262626" stroke-width="1"/>
<line x1="286.5" y1="440.57" x2="285.3" y2="440.57" stroke="#262626" stroke-width="1"/>
<text x="0" y="0" font-size="8.5" text-anchor="end" fill="#262626" transform="translate(189.1 443.97) scale(0.86 1)">100</text>
<line x1="191.5" y1="413.73" x2="192.7" y2="413.73" stroke="#262626" stroke-width="1"/>
<line x1="286.5" y1="413.73" x2="285.3" y2="413.73" stroke="#262626" stroke-width="1"/>
<text x="0" y="0" font-size="8.5" text-anchor="end" fill="#262626" transform="translate(189.1 417.13) scale(0.86 1)">200</text>
<line x1="191.5" y1="386.9" x2="192.7" y2="386.9" stroke="#262626" stroke-width="1"/>
<line x1="286.5" y1="386.9" x2="285.3" y2="386.9" stroke="#262626" stroke-width="1"/>
<text x="0" y="0" font-size="8.5" text-anchor="end" fill="#262626" transform="translate(189.1 390.3) scale(0.86 1)">300</text>
<text x="239" y="491" font-size="8.7" text-anchor="middle" fill="#262626">|J<tspan font-size="6.4" dy="3.0">ij</tspan><tspan dy="-3.0">|</tspan></text>
<text x="0" y="0" font-size="8.7" text-anchor="middle" fill="#262626" transform="translate(171.4 427.15) rotate(-90)">No. of connections</text>
<rect x="323.5" y="466.06" width="2.95" height="1.34" fill="#5FA0D2" stroke="#1a1a1a" stroke-width="0.75"/>
<rect x="326.45" y="466.06" width="2.95" height="1.34" fill="#5FA0D2" stroke="#1a1a1a" stroke-width="0.75"/>
<rect x="329.4" y="466.06" width="2.95" height="1.34" fill="#5FA0D2" stroke="#1a1a1a" stroke-width="0.75"/>
<rect x="332.35" y="465.79" width="2.95" height="1.61" fill="#5FA0D2" stroke="#1a1a1a" stroke-width="0.75"/>
<rect x="335.3" y="466.19" width="2.95" height="1.21" fill="#5FA0D2" stroke="#1a1a1a" stroke-width="0.75"/>
<rect x="338.25" y="463.64" width="2.95" height="3.76" fill="#5FA0D2" stroke="#1a1a1a" stroke-width="0.75"/>
<rect x="341.21" y="461.82" width="2.95" height="5.58" fill="#5FA0D2" stroke="#1a1a1a" stroke-width="0.75"/>
<rect x="344.16" y="461.36" width="2.95" height="6.04" fill="#5FA0D2" stroke="#1a1a1a" stroke-width="0.75"/>
<rect x="347.11" y="464.45" width="2.95" height="2.95" fill="#5FA0D2" stroke="#1a1a1a" stroke-width="0.75"/>
<rect x="350.06" y="465.79" width="2.95" height="1.61" fill="#5FA0D2" stroke="#1a1a1a" stroke-width="0.75"/>
<rect x="353.01" y="463.38" width="2.95" height="4.02" fill="#5FA0D2" stroke="#1a1a1a" stroke-width="0.75"/>
<rect x="355.96" y="464.05" width="2.95" height="3.35" fill="#5FA0D2" stroke="#1a1a1a" stroke-width="0.75"/>
<rect x="358.91" y="464.18" width="2.95" height="3.22" fill="#5FA0D2" stroke="#1a1a1a" stroke-width="0.75"/>
<rect x="361.86" y="464.98" width="2.95" height="2.42" fill="#5FA0D2" stroke="#1a1a1a" stroke-width="0.75"/>
<rect x="364.81" y="466.06" width="2.95" height="1.34" fill="#5FA0D2" stroke="#1a1a1a" stroke-width="0.75"/>
<rect x="367.76" y="466.73" width="2.95" height="0.67" fill="#5FA0D2" stroke="#1a1a1a" stroke-width="0.75"/>
<rect x="323.5" y="463.38" width="2.95" height="4.02" fill="#E67344" fill-opacity="0.68" stroke="#2a1a10" stroke-width="0.75"/>
<rect x="326.45" y="409.98" width="2.95" height="57.42" fill="#E67344" fill-opacity="0.68" stroke="#2a1a10" stroke-width="0.75"/>
<rect x="329.4" y="450.36" width="2.95" height="17.04" fill="#E67344" fill-opacity="0.68" stroke="#2a1a10" stroke-width="0.75"/>
<rect x="332.35" y="465.79" width="2.95" height="1.61" fill="#E67344" fill-opacity="0.68" stroke="#2a1a10" stroke-width="0.75"/>
<rect x="335.3" y="466.19" width="2.95" height="1.21" fill="#E67344" fill-opacity="0.68" stroke="#2a1a10" stroke-width="0.75"/>
<rect x="338.25" y="467.13" width="2.95" height="0.27" fill="#E67344" fill-opacity="0.68" stroke="#2a1a10" stroke-width="0.75"/>
<rect x="341.21" y="467.13" width="2.95" height="0.27" fill="#E67344" fill-opacity="0.68" stroke="#2a1a10" stroke-width="0.75"/>
<rect x="344.16" y="467.13" width="2.95" height="0.27" fill="#E67344" fill-opacity="0.68" stroke="#2a1a10" stroke-width="0.75"/>
<rect x="347.11" y="467.13" width="2.95" height="0.27" fill="#E67344" fill-opacity="0.68" stroke="#2a1a10" stroke-width="0.75"/>
<rect x="350.06" y="467.13" width="2.95" height="0.27" fill="#E67344" fill-opacity="0.68" stroke="#2a1a10" stroke-width="0.75"/>
<rect x="353.01" y="467.27" width="2.95" height="0.13" fill="#E67344" fill-opacity="0.68" stroke="#2a1a10" stroke-width="0.75"/>
<rect x="355.96" y="467.27" width="2.95" height="0.13" fill="#E67344" fill-opacity="0.68" stroke="#2a1a10" stroke-width="0.75"/>
<rect x="358.91" y="467.27" width="2.95" height="0.13" fill="#E67344" fill-opacity="0.68" stroke="#2a1a10" stroke-width="0.75"/>
<rect x="323.3" y="386.9" width="94.5" height="80.5" fill="none" stroke="#1a1a1a" stroke-width="1.35"/>
<line x1="323.3" y1="467.4" x2="323.3" y2="466.2" stroke="#262626" stroke-width="1"/>
<line x1="323.3" y1="386.9" x2="323.3" y2="388.1" stroke="#262626" stroke-width="1"/>
<text x="0" y="0" font-size="8.5" text-anchor="middle" fill="#262626" transform="translate(323.3 478.5) scale(0.86 1)">0</text>
<line x1="370.55" y1="467.4" x2="370.55" y2="466.2" stroke="#262626" stroke-width="1"/>
<line x1="370.55" y1="386.9" x2="370.55" y2="388.1" stroke="#262626" stroke-width="1"/>
<text x="0" y="0" font-size="8.5" text-anchor="middle" fill="#262626" transform="translate(370.55 478.5) scale(0.86 1)">0.05</text>
<line x1="417.8" y1="467.4" x2="417.8" y2="466.2" stroke="#262626" stroke-width="1"/>
<line x1="417.8" y1="386.9" x2="417.8" y2="388.1" stroke="#262626" stroke-width="1"/>
<text x="0" y="0" font-size="8.5" text-anchor="middle" fill="#262626" transform="translate(417.8 478.5) scale(0.86 1)">0.1</text>
<line x1="323.3" y1="467.4" x2="324.5" y2="467.4" stroke="#262626" stroke-width="1"/>
<line x1="417.8" y1="467.4" x2="416.6" y2="467.4" stroke="#262626" stroke-width="1"/>
<text x="0" y="0" font-size="8.5" text-anchor="end" fill="#262626" transform="translate(320.9 470.8) scale(0.86 1)">0</text>
<line x1="323.3" y1="440.57" x2="324.5" y2="440.57" stroke="#262626" stroke-width="1"/>
<line x1="417.8" y1="440.57" x2="416.6" y2="440.57" stroke="#262626" stroke-width="1"/>
<text x="0" y="0" font-size="8.5" text-anchor="end" fill="#262626" transform="translate(320.9 443.97) scale(0.86 1)">200</text>
<line x1="323.3" y1="413.73" x2="324.5" y2="413.73" stroke="#262626" stroke-width="1"/>
<line x1="417.8" y1="413.73" x2="416.6" y2="413.73" stroke="#262626" stroke-width="1"/>
<text x="0" y="0" font-size="8.5" text-anchor="end" fill="#262626" transform="translate(320.9 417.13) scale(0.86 1)">400</text>
<line x1="323.3" y1="386.9" x2="324.5" y2="386.9" stroke="#262626" stroke-width="1"/>
<line x1="417.8" y1="386.9" x2="416.6" y2="386.9" stroke="#262626" stroke-width="1"/>
<text x="0" y="0" font-size="8.5" text-anchor="end" fill="#262626" transform="translate(320.9 390.3) scale(0.86 1)">600</text>
<text x="370.55" y="491" font-size="8.7" text-anchor="middle" fill="#262626">|PC<tspan font-size="6.4" dy="3.0">ij</tspan><tspan dy="-3.0">|</tspan></text>
<text x="0" y="0" font-size="8.7" text-anchor="middle" fill="#262626" transform="translate(303.2 427.15) rotate(-90)">No. of connections</text>
<rect x="491.81" y="465.58" width="4.65" height="1.82" fill="#5FA0D2" stroke="#1a1a1a" stroke-width="0.75"/>
<rect x="496.47" y="460.96" width="4.65" height="6.44" fill="#5FA0D2" stroke="#1a1a1a" stroke-width="0.75"/>
<rect x="501.12" y="447.01" width="4.65" height="20.39" fill="#5FA0D2" stroke="#1a1a1a" stroke-width="0.75"/>
<rect x="505.77" y="443.79" width="4.65" height="23.61" fill="#5FA0D2" stroke="#1a1a1a" stroke-width="0.75"/>
<rect x="510.43" y="451.3" width="4.65" height="16.1" fill="#5FA0D2" stroke="#1a1a1a" stroke-width="0.75"/>
<rect x="515.08" y="438.96" width="4.65" height="28.44" fill="#5FA0D2" stroke="#1a1a1a" stroke-width="0.75"/>
<rect x="519.74" y="452.37" width="4.65" height="15.03" fill="#5FA0D2" stroke="#1a1a1a" stroke-width="0.75"/>
<rect x="524.39" y="452.37" width="4.65" height="15.03" fill="#5FA0D2" stroke="#1a1a1a" stroke-width="0.75"/>
<rect x="529.04" y="458.01" width="4.65" height="9.39" fill="#5FA0D2" stroke="#1a1a1a" stroke-width="0.75"/>
<rect x="477.85" y="460.26" width="4.65" height="7.14" fill="#E67344" fill-opacity="0.68" stroke="#2a1a10" stroke-width="0.75"/>
<rect x="482.5" y="452.37" width="4.65" height="15.03" fill="#E67344" fill-opacity="0.68" stroke="#2a1a10" stroke-width="0.75"/>
<rect x="487.16" y="415.34" width="4.65" height="52.06" fill="#E67344" fill-opacity="0.68" stroke="#2a1a10" stroke-width="0.75"/>
<rect x="491.81" y="411.75" width="4.65" height="55.65" fill="#E67344" fill-opacity="0.68" stroke="#2a1a10" stroke-width="0.75"/>
<rect x="496.47" y="418.56" width="4.65" height="48.84" fill="#E67344" fill-opacity="0.68" stroke="#2a1a10" stroke-width="0.75"/>
<rect x="501.12" y="416.42" width="4.65" height="50.98" fill="#E67344" fill-opacity="0.68" stroke="#2a1a10" stroke-width="0.75"/>
<rect x="505.77" y="433.05" width="4.65" height="34.35" fill="#E67344" fill-opacity="0.68" stroke="#2a1a10" stroke-width="0.75"/>
<rect x="510.43" y="448.08" width="4.65" height="19.32" fill="#E67344" fill-opacity="0.68" stroke="#2a1a10" stroke-width="0.75"/>
<rect x="515.08" y="450.44" width="4.65" height="16.96" fill="#E67344" fill-opacity="0.68" stroke="#2a1a10" stroke-width="0.75"/>
<rect x="519.74" y="461.76" width="4.65" height="5.63" fill="#E67344" fill-opacity="0.68" stroke="#2a1a10" stroke-width="0.75"/>
<rect x="524.39" y="466.33" width="4.65" height="1.07" fill="#E67344" fill-opacity="0.68" stroke="#2a1a10" stroke-width="0.75"/>
<rect x="529.04" y="462.57" width="4.65" height="4.83" fill="#E67344" fill-opacity="0.68" stroke="#2a1a10" stroke-width="0.75"/>
<rect x="455.2" y="451.84" width="4.4" height="15.56" fill="#E67344" fill-opacity="0.68" stroke="#2a1a10" stroke-width="0.75"/>
<rect x="454.5" y="386.9" width="95.1" height="80.5" fill="none" stroke="#1a1a1a" stroke-width="1.35"/>
<line x1="454.5" y1="467.4" x2="454.5" y2="466.2" stroke="#262626" stroke-width="1"/>
<line x1="454.5" y1="386.9" x2="454.5" y2="388.1" stroke="#262626" stroke-width="1"/>
<text x="0" y="0" font-size="8.5" text-anchor="middle" fill="#262626" transform="translate(454.5 478.5) scale(0.86 1)">0</text>
<line x1="502.05" y1="467.4" x2="502.05" y2="466.2" stroke="#262626" stroke-width="1"/>
<line x1="502.05" y1="386.9" x2="502.05" y2="388.1" stroke="#262626" stroke-width="1"/>
<text x="0" y="0" font-size="8.5" text-anchor="middle" fill="#262626" transform="translate(502.05 478.5) scale(0.86 1)">0.1</text>
<line x1="549.6" y1="467.4" x2="549.6" y2="466.2" stroke="#262626" stroke-width="1"/>
<line x1="549.6" y1="386.9" x2="549.6" y2="388.1" stroke="#262626" stroke-width="1"/>
<text x="0" y="0" font-size="8.5" text-anchor="middle" fill="#262626" transform="translate(549.6 478.5) scale(0.86 1)">0.2</text>
<line x1="454.5" y1="467.4" x2="455.7" y2="467.4" stroke="#262626" stroke-width="1"/>
<line x1="549.6" y1="467.4" x2="548.4" y2="467.4" stroke="#262626" stroke-width="1"/>
<text x="0" y="0" font-size="8.5" text-anchor="end" fill="#262626" transform="translate(452.1 470.8) scale(0.86 1)">0</text>
<line x1="454.5" y1="440.57" x2="455.7" y2="440.57" stroke="#262626" stroke-width="1"/>
<line x1="549.6" y1="440.57" x2="548.4" y2="440.57" stroke="#262626" stroke-width="1"/>
<text x="0" y="0" font-size="8.5" text-anchor="end" fill="#262626" transform="translate(452.1 443.97) scale(0.86 1)">50</text>
<line x1="454.5" y1="413.73" x2="455.7" y2="413.73" stroke="#262626" stroke-width="1"/>
<line x1="549.6" y1="413.73" x2="548.4" y2="413.73" stroke="#262626" stroke-width="1"/>
<text x="0" y="0" font-size="8.5" text-anchor="end" fill="#262626" transform="translate(452.1 417.13) scale(0.86 1)">100</text>
<line x1="454.5" y1="386.9" x2="455.7" y2="386.9" stroke="#262626" stroke-width="1"/>
<line x1="549.6" y1="386.9" x2="548.4" y2="386.9" stroke="#262626" stroke-width="1"/>
<text x="0" y="0" font-size="8.5" text-anchor="end" fill="#262626" transform="translate(452.1 390.3) scale(0.86 1)">150</text>
<text x="502.05" y="491" font-size="8.7" text-anchor="middle" fill="#262626">|CC<tspan font-size="6.4" dy="3.0">ij</tspan><tspan dy="-3.0">|</tspan></text>
<text x="0" y="0" font-size="8.7" text-anchor="middle" fill="#262626" transform="translate(434.4 427.15) rotate(-90)">No. of connections</text>
<rect x="592.9" y="386.9" width="81.1" height="80.5" fill="none" stroke="#262626" stroke-width="1.3"/>
<line x1="592.9" y1="467.4" x2="674" y2="386.9" stroke="#A0A0A0" stroke-width="0.7"/>
<polyline points="592.9,467.4 592.9,433.86 593.8,433.86 593.8,418.21 594.7,418.21 594.7,411.5 595.6,411.5 595.6,407.02 596.5,407.02 597.41,407.02 598.31,407.02 599.21,407.02 600.11,407.02 601.01,407.02 601.01,404.79 601.91,404.79 602.81,404.79 603.71,404.79 603.71,402.55 604.61,402.55 605.52,402.55 606.42,402.55 607.32,402.55 607.32,400.32 608.22,400.32 609.12,400.32 610.02,400.32 610.92,400.32 611.82,400.32 611.82,398.08 612.72,398.08 613.63,398.08 614.53,398.08 615.43,398.08 616.33,398.08 616.33,395.84 617.23,395.84 618.13,395.84 619.03,395.84 619.93,395.84 620.83,395.84 621.74,395.84 622.64,395.84 623.54,395.84 624.44,395.84 625.34,395.84 626.24,395.84 627.14,395.84 627.14,393.61 628.04,393.61 628.94,393.61 629.85,393.61 630.75,393.61 631.65,393.61 632.55,393.61 633.45,393.61 634.35,393.61 635.25,393.61 636.15,393.61 637.05,393.61 637.96,393.61 638.86,393.61 639.76,393.61 640.66,393.61 641.56,393.61 641.56,391.37 642.46,391.37 643.36,391.37 644.26,391.37 645.16,391.37 646.07,391.37 646.97,391.37 647.87,391.37 648.77,391.37 649.67,391.37 649.67,389.14 650.57,389.14 651.47,389.14 652.37,389.14 653.27,389.14 654.18,389.14 655.08,389.14 655.98,389.14 656.88,389.14 657.78,389.14 657.78,386.9 658.68,386.9 659.58,386.9 660.48,386.9 661.38,386.9 662.29,386.9 663.19,386.9 664.09,386.9 664.99,386.9 665.89,386.9 666.79,386.9 667.69,386.9 668.59,386.9 669.49,386.9 670.4,386.9 671.3,386.9 672.2,386.9 673.1,386.9 674,386.9" fill="none" stroke="#D92626" stroke-width="1.4" stroke-linejoin="round"/>
<polyline points="592.9,467.4 592.9,386.9 674,386.9" fill="none" stroke="#218536" stroke-width="1.4" stroke-linejoin="round"/>
<polyline points="592.9,467.4 592.9,451.75 593.8,451.75 593.8,445.04 594.7,445.04 594.7,440.57 595.6,440.57 595.6,436.09 596.5,436.09 596.5,431.62 597.41,431.62 597.41,429.39 598.31,429.39 598.31,427.15 599.21,427.15 599.21,424.91 600.11,424.91 600.11,422.68 601.01,422.68 601.01,420.44 601.91,420.44 602.81,420.44 602.81,418.21 603.71,418.21 603.71,415.97 604.61,415.97 604.61,413.73 605.52,413.73 606.42,413.73 607.32,413.73 607.32,411.5 608.22,411.5 609.12,411.5 609.12,409.26 610.02,409.26 610.92,409.26 611.82,409.26 611.82,407.02 612.72,407.02 613.63,407.02 613.63,404.79 614.53,404.79 614.53,402.55 615.43,402.55 616.33,402.55 616.33,400.32 617.23,400.32 617.23,398.08 618.13,398.08 619.03,398.08 619.03,395.84 619.93,395.84 619.93,393.61 620.83,393.61 621.74,393.61 621.74,391.37 622.64,391.37 623.54,391.37 624.44,391.37 625.34,391.37 626.24,391.37 627.14,391.37 628.04,391.37 628.04,389.14 628.94,389.14 629.85,389.14 630.75,389.14 631.65,389.14 632.55,389.14 633.45,389.14 634.35,389.14 634.35,386.9 635.25,386.9 636.15,386.9 637.05,386.9 637.96,386.9 638.86,386.9 639.76,386.9 640.66,386.9 641.56,386.9 642.46,386.9 643.36,386.9 644.26,386.9 645.16,386.9 646.07,386.9 646.97,386.9 647.87,386.9 648.77,386.9 649.67,386.9 650.57,386.9 651.47,386.9 652.37,386.9 653.27,386.9 654.18,386.9 655.08,386.9 655.98,386.9 656.88,386.9 657.78,386.9 658.68,386.9 659.58,386.9 660.48,386.9 661.38,386.9 662.29,386.9 663.19,386.9 664.09,386.9 664.99,386.9 665.89,386.9 666.79,386.9 667.69,386.9 668.59,386.9 669.49,386.9 670.4,386.9 671.3,386.9 672.2,386.9 673.1,386.9 674,386.9" fill="none" stroke="#2747A0" stroke-width="1.4" stroke-linejoin="round"/>
<line x1="592.9" y1="467.4" x2="592.9" y2="466.2" stroke="#262626" stroke-width="1"/>
<line x1="592.9" y1="386.9" x2="592.9" y2="388.1" stroke="#262626" stroke-width="1"/>
<text x="0" y="0" font-size="8.5" text-anchor="middle" fill="#262626" transform="translate(592.9 478.5) scale(0.86 1)">0</text>
<line x1="592.9" y1="467.4" x2="594.1" y2="467.4" stroke="#262626" stroke-width="1"/>
<line x1="674" y1="467.4" x2="672.8" y2="467.4" stroke="#262626" stroke-width="1"/>
<text x="0" y="0" font-size="8.5" text-anchor="end" fill="#262626" transform="translate(590.5 470.8) scale(0.86 1)">0</text>
<line x1="633.45" y1="467.4" x2="633.45" y2="466.2" stroke="#262626" stroke-width="1"/>
<line x1="633.45" y1="386.9" x2="633.45" y2="388.1" stroke="#262626" stroke-width="1"/>
<text x="0" y="0" font-size="8.5" text-anchor="middle" fill="#262626" transform="translate(633.45 478.5) scale(0.86 1)">0.5</text>
<line x1="592.9" y1="427.15" x2="594.1" y2="427.15" stroke="#262626" stroke-width="1"/>
<line x1="674" y1="427.15" x2="672.8" y2="427.15" stroke="#262626" stroke-width="1"/>
<text x="0" y="0" font-size="8.5" text-anchor="end" fill="#262626" transform="translate(590.5 430.55) scale(0.86 1)">0.5</text>
<line x1="674" y1="467.4" x2="674" y2="466.2" stroke="#262626" stroke-width="1"/>
<line x1="674" y1="386.9" x2="674" y2="388.1" stroke="#262626" stroke-width="1"/>
<text x="0" y="0" font-size="8.5" text-anchor="middle" fill="#262626" transform="translate(674 478.5) scale(0.86 1)">1</text>
<line x1="592.9" y1="386.9" x2="594.1" y2="386.9" stroke="#262626" stroke-width="1"/>
<line x1="674" y1="386.9" x2="672.8" y2="386.9" stroke="#262626" stroke-width="1"/>
<text x="0" y="0" font-size="8.5" text-anchor="end" fill="#262626" transform="translate(590.5 390.3) scale(0.86 1)">1</text>
<text x="633.45" y="490.1" font-size="8.7" text-anchor="middle" fill="#262626">FPR</text>
<text x="0" y="0" font-size="8.7" text-anchor="middle" fill="#262626" transform="translate(575.7 427.15) rotate(-90)">TPR</text>
<text x="0" y="0" font-size="9.7" text-anchor="middle" fill="#262626" transform="translate(9.3 427.65) rotate(-90) scale(0.86 1)"><tspan font-style="italic">ρ</tspan>=0.3</text>
<text x="0" y="0" font-size="9" text-anchor="middle" fill="#262626" transform="translate(19.8 427.15) rotate(-90)">Mean firing rate 40 Hz</text>
<text x="106.7" y="12.2" font-size="8.7" text-anchor="middle" fill="#111">Raster Plot</text>
<text x="238.3" y="12.2" font-size="8.7" text-anchor="middle" fill="#111">Ising couplings</text>
<text x="369.5" y="12.2" font-size="8.7" text-anchor="middle" fill="#111">Partial correlations</text>
<text x="501" y="12.2" font-size="8.7" text-anchor="middle" fill="#111">Cross-correlations</text>
<text x="633" y="12.2" font-size="8.7" text-anchor="middle" fill="#111">ROC curves</text>
<rect x="194" y="17.6" width="12" height="6.8" fill="#5FA0D2" stroke="#1a1a1a" stroke-width="0.75"/>
<rect x="194" y="27.4" width="12" height="6.8" fill="#E67344" fill-opacity="0.68" stroke="#2a1a10" stroke-width="0.75"/>
<text x="207.7" y="24.2" font-size="7.1" text-anchor="start" fill="#262626">synaptic connection</text>
<text x="207.7" y="33.5" font-size="7.1" text-anchor="start" fill="#262626">no synaptic connection</text>
<line x1="595.3" y1="19.9" x2="607.6" y2="19.9" stroke="#D92626" stroke-width="1.1"/>
<text x="609.2" y="22.5" font-size="7.2" text-anchor="start" fill="#262626">Ising</text>
<line x1="595.3" y1="29.1" x2="607.6" y2="29.1" stroke="#218536" stroke-width="1.1"/>
<text x="609.2" y="31.7" font-size="7.2" text-anchor="start" fill="#262626">PC</text>
<line x1="595.3" y1="38.7" x2="607.6" y2="38.7" stroke="#2747A0" stroke-width="1.1"/>
<text x="609.2" y="41.3" font-size="7.2" text-anchor="start" fill="#262626">CC</text>
<text x="-0.8" y="11.6" font-size="21" font-weight="bold" fill="#000" stroke="#000" stroke-width="0.5">a</text>
<text x="2.0" y="530.6" font-size="22" font-weight="bold" fill="#000" stroke="#000" stroke-width="0.3">b</text>
<text x="349.0" y="531.4" font-size="20.5" font-weight="bold" fill="#000" stroke="#000" stroke-width="0.3">c</text>
<rect x="55.1" y="524.9" width="259" height="258.6" fill="none" stroke="#1a1a1a" stroke-width="1.4"/>
<line x1="55.1" y1="783.5" x2="55.1" y2="780.3" stroke="#1a1a1a" stroke-width="1.2"/>
<line x1="55.1" y1="524.9" x2="55.1" y2="528.1" stroke="#1a1a1a" stroke-width="1.2"/>
<text x="55.1" y="798.6" font-size="11" text-anchor="middle" fill="#1a1a1a">0</text>
<line x1="106.9" y1="783.5" x2="106.9" y2="780.3" stroke="#1a1a1a" stroke-width="1.2"/>
<line x1="106.9" y1="524.9" x2="106.9" y2="528.1" stroke="#1a1a1a" stroke-width="1.2"/>
<text x="106.9" y="798.6" font-size="11" text-anchor="middle" fill="#1a1a1a">10</text>
<line x1="158.7" y1="783.5" x2="158.7" y2="780.3" stroke="#1a1a1a" stroke-width="1.2"/>
<line x1="158.7" y1="524.9" x2="158.7" y2="528.1" stroke="#1a1a1a" stroke-width="1.2"/>
<text x="158.7" y="798.6" font-size="11" text-anchor="middle" fill="#1a1a1a">20</text>
<line x1="210.5" y1="783.5" x2="210.5" y2="780.3" stroke="#1a1a1a" stroke-width="1.2"/>
<line x1="210.5" y1="524.9" x2="210.5" y2="528.1" stroke="#1a1a1a" stroke-width="1.2"/>
<text x="210.5" y="798.6" font-size="11" text-anchor="middle" fill="#1a1a1a">30</text>
<line x1="262.3" y1="783.5" x2="262.3" y2="780.3" stroke="#1a1a1a" stroke-width="1.2"/>
<line x1="262.3" y1="524.9" x2="262.3" y2="528.1" stroke="#1a1a1a" stroke-width="1.2"/>
<text x="262.3" y="798.6" font-size="11" text-anchor="middle" fill="#1a1a1a">40</text>
<line x1="314.1" y1="783.5" x2="314.1" y2="780.3" stroke="#1a1a1a" stroke-width="1.2"/>
<line x1="314.1" y1="524.9" x2="314.1" y2="528.1" stroke="#1a1a1a" stroke-width="1.2"/>
<text x="314.1" y="798.6" font-size="11" text-anchor="middle" fill="#1a1a1a">50</text>
<line x1="55.1" y1="783.5" x2="58.3" y2="783.5" stroke="#1a1a1a" stroke-width="1.2"/>
<line x1="314.1" y1="783.5" x2="310.9" y2="783.5" stroke="#1a1a1a" stroke-width="1.2"/>
<text x="51.5" y="788.6" font-size="11" text-anchor="end" fill="#1a1a1a">0.4</text>
<line x1="55.1" y1="740.4" x2="58.3" y2="740.4" stroke="#1a1a1a" stroke-width="1.2"/>
<line x1="314.1" y1="740.4" x2="310.9" y2="740.4" stroke="#1a1a1a" stroke-width="1.2"/>
<text x="51.5" y="745.5" font-size="11" text-anchor="end" fill="#1a1a1a">0.5</text>
<line x1="55.1" y1="697.3" x2="58.3" y2="697.3" stroke="#1a1a1a" stroke-width="1.2"/>
<line x1="314.1" y1="697.3" x2="310.9" y2="697.3" stroke="#1a1a1a" stroke-width="1.2"/>
<text x="51.5" y="702.4" font-size="11" text-anchor="end" fill="#1a1a1a">0.6</text>
<line x1="55.1" y1="654.2" x2="58.3" y2="654.2" stroke="#1a1a1a" stroke-width="1.2"/>
<line x1="314.1" y1="654.2" x2="310.9" y2="654.2" stroke="#1a1a1a" stroke-width="1.2"/>
<text x="51.5" y="659.3" font-size="11" text-anchor="end" fill="#1a1a1a">0.7</text>
<line x1="55.1" y1="611.1" x2="58.3" y2="611.1" stroke="#1a1a1a" stroke-width="1.2"/>
<line x1="314.1" y1="611.1" x2="310.9" y2="611.1" stroke="#1a1a1a" stroke-width="1.2"/>
<text x="51.5" y="616.2" font-size="11" text-anchor="end" fill="#1a1a1a">0.8</text>
<line x1="55.1" y1="568" x2="58.3" y2="568" stroke="#1a1a1a" stroke-width="1.2"/>
<line x1="314.1" y1="568" x2="310.9" y2="568" stroke="#1a1a1a" stroke-width="1.2"/>
<text x="51.5" y="573.1" font-size="11" text-anchor="end" fill="#1a1a1a">0.9</text>
<line x1="55.1" y1="524.9" x2="58.3" y2="524.9" stroke="#1a1a1a" stroke-width="1.2"/>
<line x1="314.1" y1="524.9" x2="310.9" y2="524.9" stroke="#1a1a1a" stroke-width="1.2"/>
<text x="51.5" y="530" font-size="11" text-anchor="end" fill="#1a1a1a">1</text>
<polyline points="106.9,682.65 158.7,662.82 262.3,657.65" fill="none" stroke="#D92626" stroke-width="1.4"/>
<path d="M106.9 673.6 V692.13 M105.3 673.6 H108.5 M105.3 692.13 H108.5" stroke="#D92626" stroke-width="1.4" fill="none"/>
<path d="M158.7 645.58 V680.06 M157.1 645.58 H160.3 M157.1 680.06 H160.3" stroke="#D92626" stroke-width="1.4" fill="none"/>
<path d="M262.3 646.01 V669.28 M260.7 646.01 H263.9 M260.7 669.28 H263.9" stroke="#D92626" stroke-width="1.4" fill="none"/>
<polyline points="106.9,710.23 158.7,724.88 262.3,715.4" fill="none" stroke="#218536" stroke-width="1.4"/>
<path d="M106.9 698.16 V722.3 M105.3 698.16 H108.5 M105.3 722.3 H108.5" stroke="#218536" stroke-width="1.4" fill="none"/>
<path d="M158.7 716.69 V734.8 M157.1 716.69 H160.3 M157.1 734.8 H160.3" stroke="#218536" stroke-width="1.4" fill="none"/>
<path d="M262.3 704.2 V726.18 M260.7 704.2 H263.9 M260.7 726.18 H263.9" stroke="#218536" stroke-width="1.4" fill="none"/>
<polyline points="106.9,707.21 158.7,721 262.3,724.45" fill="none" stroke="#2747A0" stroke-width="1.4"/>
<path d="M106.9 697.3 V716.69 M105.3 697.3 H108.5 M105.3 716.69 H108.5" stroke="#2747A0" stroke-width="1.4" fill="none"/>
<path d="M158.7 706.35 V734.37 M157.1 706.35 H160.3 M157.1 734.37 H160.3" stroke="#2747A0" stroke-width="1.4" fill="none"/>
<path d="M262.3 719.71 V729.19 M260.7 719.71 H263.9 M260.7 729.19 H263.9" stroke="#2747A0" stroke-width="1.4" fill="none"/>
<text x="183.1" y="520.4" font-size="11" text-anchor="middle" fill="#000"><tspan font-style="italic">ρ</tspan> = 0.001</text>
<text x="184.6" y="813.6" font-size="11.6" text-anchor="middle" fill="#1a1a1a">Mean firing rate (Hz)</text>
<text x="0" y="0" font-size="11.6" text-anchor="middle" fill="#1a1a1a" transform="translate(31.7 654.7) rotate(-90)">AUC</text>
<line x1="273.3" y1="746.2" x2="284.6" y2="746.2" stroke="#D92626" stroke-width="1.4"/>
<text x="286.4" y="749.8" font-size="10" text-anchor="start" fill="#1a1a1a">Ising</text>
<line x1="273.3" y1="759" x2="284.6" y2="759" stroke="#218536" stroke-width="1.4"/>
<text x="286.4" y="762.6" font-size="10" text-anchor="start" fill="#1a1a1a">PC</text>
<line x1="273.3" y1="772.2" x2="284.6" y2="772.2" stroke="#2747A0" stroke-width="1.4"/>
<text x="286.4" y="775.8" font-size="10" text-anchor="start" fill="#1a1a1a">CC</text>
<rect x="396.1" y="524.9" width="259.2" height="258.6" fill="none" stroke="#1a1a1a" stroke-width="1.4"/>
<line x1="396.1" y1="783.5" x2="396.1" y2="780.3" stroke="#1a1a1a" stroke-width="1.2"/>
<line x1="396.1" y1="524.9" x2="396.1" y2="528.1" stroke="#1a1a1a" stroke-width="1.2"/>
<text x="396.1" y="798.6" font-size="11" text-anchor="middle" fill="#1a1a1a">0</text>
<line x1="447.94" y1="783.5" x2="447.94" y2="780.3" stroke="#1a1a1a" stroke-width="1.2"/>
<line x1="447.94" y1="524.9" x2="447.94" y2="528.1" stroke="#1a1a1a" stroke-width="1.2"/>
<text x="447.94" y="798.6" font-size="11" text-anchor="middle" fill="#1a1a1a">10</text>
<line x1="499.78" y1="783.5" x2="499.78" y2="780.3" stroke="#1a1a1a" stroke-width="1.2"/>
<line x1="499.78" y1="524.9" x2="499.78" y2="528.1" stroke="#1a1a1a" stroke-width="1.2"/>
<text x="499.78" y="798.6" font-size="11" text-anchor="middle" fill="#1a1a1a">20</text>
<line x1="551.62" y1="783.5" x2="551.62" y2="780.3" stroke="#1a1a1a" stroke-width="1.2"/>
<line x1="551.62" y1="524.9" x2="551.62" y2="528.1" stroke="#1a1a1a" stroke-width="1.2"/>
<text x="551.62" y="798.6" font-size="11" text-anchor="middle" fill="#1a1a1a">30</text>
<line x1="603.46" y1="783.5" x2="603.46" y2="780.3" stroke="#1a1a1a" stroke-width="1.2"/>
<line x1="603.46" y1="524.9" x2="603.46" y2="528.1" stroke="#1a1a1a" stroke-width="1.2"/>
<text x="603.46" y="798.6" font-size="11" text-anchor="middle" fill="#1a1a1a">40</text>
<line x1="655.3" y1="783.5" x2="655.3" y2="780.3" stroke="#1a1a1a" stroke-width="1.2"/>
<line x1="655.3" y1="524.9" x2="655.3" y2="528.1" stroke="#1a1a1a" stroke-width="1.2"/>
<text x="655.3" y="798.6" font-size="11" text-anchor="middle" fill="#1a1a1a">50</text>
<line x1="396.1" y1="783.5" x2="399.3" y2="783.5" stroke="#1a1a1a" stroke-width="1.2"/>
<line x1="655.3" y1="783.5" x2="652.1" y2="783.5" stroke="#1a1a1a" stroke-width="1.2"/>
<text x="392.5" y="788.6" font-size="11" text-anchor="end" fill="#1a1a1a">0.4</text>
<line x1="396.1" y1="740.4" x2="399.3" y2="740.4" stroke="#1a1a1a" stroke-width="1.2"/>
<line x1="655.3" y1="740.4" x2="652.1" y2="740.4" stroke="#1a1a1a" stroke-width="1.2"/>
<text x="392.5" y="745.5" font-size="11" text-anchor="end" fill="#1a1a1a">0.5</text>
<line x1="396.1" y1="697.3" x2="399.3" y2="697.3" stroke="#1a1a1a" stroke-width="1.2"/>
<line x1="655.3" y1="697.3" x2="652.1" y2="697.3" stroke="#1a1a1a" stroke-width="1.2"/>
<text x="392.5" y="702.4" font-size="11" text-anchor="end" fill="#1a1a1a">0.6</text>
<line x1="396.1" y1="654.2" x2="399.3" y2="654.2" stroke="#1a1a1a" stroke-width="1.2"/>
<line x1="655.3" y1="654.2" x2="652.1" y2="654.2" stroke="#1a1a1a" stroke-width="1.2"/>
<text x="392.5" y="659.3" font-size="11" text-anchor="end" fill="#1a1a1a">0.7</text>
<line x1="396.1" y1="611.1" x2="399.3" y2="611.1" stroke="#1a1a1a" stroke-width="1.2"/>
<line x1="655.3" y1="611.1" x2="652.1" y2="611.1" stroke="#1a1a1a" stroke-width="1.2"/>
<text x="392.5" y="616.2" font-size="11" text-anchor="end" fill="#1a1a1a">0.8</text>
<line x1="396.1" y1="568" x2="399.3" y2="568" stroke="#1a1a1a" stroke-width="1.2"/>
<line x1="655.3" y1="568" x2="652.1" y2="568" stroke="#1a1a1a" stroke-width="1.2"/>
<text x="392.5" y="573.1" font-size="11" text-anchor="end" fill="#1a1a1a">0.9</text>
<line x1="396.1" y1="524.9" x2="399.3" y2="524.9" stroke="#1a1a1a" stroke-width="1.2"/>
<line x1="655.3" y1="524.9" x2="652.1" y2="524.9" stroke="#1a1a1a" stroke-width="1.2"/>
<text x="392.5" y="530" font-size="11" text-anchor="end" fill="#1a1a1a">1</text>
<polyline points="447.94,660.23 499.78,607.22 603.46,571.02" fill="none" stroke="#D92626" stroke-width="1.4"/>
<path d="M447.94 650.75 V669.28 M446.34 650.75 H449.54 M446.34 669.28 H449.54" stroke="#D92626" stroke-width="1.4" fill="none"/>
<path d="M499.78 595.58 V618.43 M498.18 595.58 H501.38 M498.18 618.43 H501.38" stroke="#D92626" stroke-width="1.4" fill="none"/>
<path d="M603.46 561.97 V579.64 M601.86 561.97 H605.06 M601.86 579.64 H605.06" stroke="#D92626" stroke-width="1.4" fill="none"/>
<polyline points="447.94,595.15 499.78,559.38 603.46,524.9" fill="none" stroke="#218536" stroke-width="1.4"/>
<path d="M447.94 589.55 V600.33 M446.34 589.55 H449.54 M446.34 600.33 H449.54" stroke="#218536" stroke-width="1.4" fill="none"/>
<path d="M499.78 546.45 V571.02 M498.18 546.45 H501.38 M498.18 571.02 H501.38" stroke="#218536" stroke-width="1.4" fill="none"/>
<path d="M603.46 524.9 V524.9 M601.86 524.9 H605.06 M601.86 524.9 H605.06" stroke="#218536" stroke-width="1.4" fill="none"/>
<polyline points="447.94,686.96 499.78,652.04 603.46,590.84" fill="none" stroke="#2747A0" stroke-width="1.4"/>
<path d="M447.94 680.49 V693.85 M446.34 680.49 H449.54 M446.34 693.85 H449.54" stroke="#2747A0" stroke-width="1.4" fill="none"/>
<path d="M499.78 638.68 V667.13 M498.18 638.68 H501.38 M498.18 667.13 H501.38" stroke="#2747A0" stroke-width="1.4" fill="none"/>
<path d="M603.46 584.38 V597.31 M601.86 584.38 H605.06 M601.86 597.31 H605.06" stroke="#2747A0" stroke-width="1.4" fill="none"/>
<text x="524.2" y="520.4" font-size="11" text-anchor="middle" fill="#000"><tspan font-style="italic">ρ</tspan> = 0.3</text>
<text x="525.7" y="813.6" font-size="11.6" text-anchor="middle" fill="#1a1a1a">Mean firing rate (Hz)</text>
<text x="0" y="0" font-size="11.6" text-anchor="middle" fill="#1a1a1a" transform="translate(372.7 654.7) rotate(-90)">AUC</text>
<line x1="614.6" y1="746.2" x2="625.9" y2="746.2" stroke="#D92626" stroke-width="1.4"/>
<text x="627.7" y="749.8" font-size="10" text-anchor="start" fill="#1a1a1a">Ising</text>
<line x1="614.6" y1="759" x2="625.9" y2="759" stroke="#218536" stroke-width="1.4"/>
<text x="627.7" y="762.6" font-size="10" text-anchor="start" fill="#1a1a1a">PC</text>
<line x1="614.6" y1="772.2" x2="625.9" y2="772.2" stroke="#2747A0" stroke-width="1.4"/>
<text x="627.7" y="775.8" font-size="10" text-anchor="start" fill="#1a1a1a">CC</text>
</svg>
</body></html>
